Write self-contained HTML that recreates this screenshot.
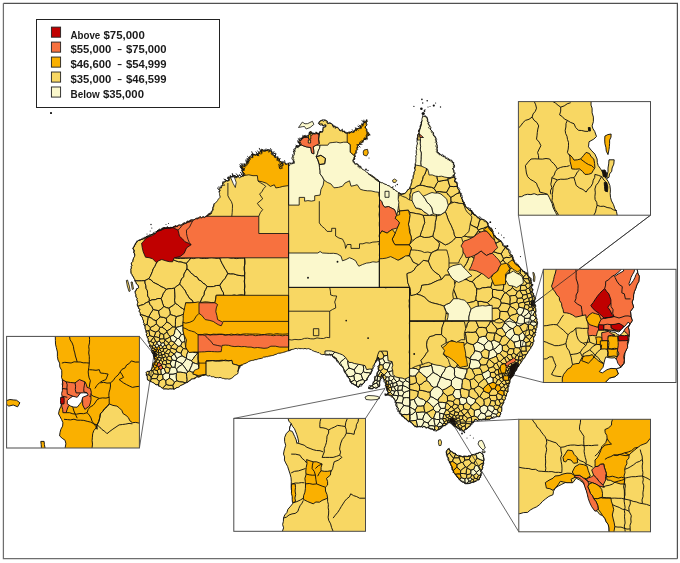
<!DOCTYPE html>
<html lang="en"><head><meta charset="utf-8"><title>Median income map</title>
<style>html,body{margin:0;padding:0;background:#fff}svg{display:block}</style></head>
<body>
<svg width="680" height="563" viewBox="0 0 680 563">
<rect width="680" height="563" fill="#fff"/>
<path d="M3.4,3.3 H677.4 V558.7" fill="none" stroke="#505050" stroke-width="1.25"/>
<path d="M3.4,3.3 V558.7 H677.4" fill="none" stroke="#6e6e6e" stroke-width="1.25"/>
<clipPath id="land"><path d="M288.5,163.0 290.0,162.9 291.6,163.9 293.1,163.0 294.6,163.0 293.5,162.0 293.9,160.4 292.4,159.6 291.9,158.3 292.3,156.8 293.6,155.8 294.4,154.6 294.2,153.0 293.2,151.0 295.1,150.3 294.9,148.7 296.1,147.6 296.9,145.9 298.6,145.9 300.0,145.2 299.5,143.9 299.0,142.7 298.5,141.4 299.4,140.4 301.1,140.3 301.8,139.1 301.9,137.4 303.1,136.7 304.2,135.5 306.0,136.5 307.4,136.3 308.5,135.2 309.9,133.9 309.3,132.1 311.1,131.4 312.1,133.8 313.9,133.3 315.3,134.2 316.5,132.2 318.0,133.6 319.3,132.9 320.0,131.3 322.3,132.2 323.0,130.5 323.0,128.8 323.0,127.2 325.7,126.9 325.8,125.3 324.6,125.0 323.2,125.6 322.0,124.8 320.2,125.1 318.8,123.8 319.5,121.8 320.5,120.5 321.9,120.3 323.8,121.3 324.7,119.9 326.1,120.4 327.4,121.1 327.8,123.2 329.4,123.4 331.1,123.5 332.2,124.5 332.8,126.4 334.8,126.0 335.6,127.5 337.2,127.3 338.3,128.2 339.4,129.1 340.1,130.9 341.8,130.6 343.1,131.3 344.8,131.1 345.5,133.2 347.2,132.9 348.5,132.2 350.0,133.0 351.1,131.6 352.6,132.1 354.1,132.2 354.6,130.5 355.4,129.3 356.7,129.0 357.8,128.4 359.3,128.3 360.3,127.5 360.5,126.0 361.1,124.8 362.8,124.5 363.7,123.5 364.3,122.3 366.1,121.6 366.5,119.7 367.4,121.3 366.4,122.6 366.0,124.0 366.5,125.4 365.4,126.6 365.4,128.0 366.5,129.1 366.2,131.1 367.6,131.9 368.8,132.9 369.2,134.9 368.2,135.9 366.1,136.4 366.7,138.4 365.0,139.1 363.9,140.1 362.9,141.3 362.1,142.7 360.3,142.9 359.1,144.0 358.3,145.3 357.4,146.6 357.2,148.3 357.1,149.7 355.6,150.7 356.2,152.2 354.9,153.3 355.0,154.7 354.9,156.1 354.4,157.4 355.0,159.1 352.7,159.9 353.4,161.5 354.1,162.8 355.2,163.7 356.7,164.2 358.3,164.5 358.8,166.1 360.6,166.2 361.0,167.8 362.0,168.9 363.1,169.7 364.6,170.2 365.5,171.3 366.5,172.3 367.9,172.8 368.7,174.1 370.2,174.5 371.4,175.1 372.7,175.8 373.6,177.0 375.0,177.5 375.8,178.7 376.9,179.3 378.2,179.9 378.8,181.3 380.0,181.9 381.2,182.7 382.6,182.8 383.8,183.6 385.0,184.2 386.4,184.5 387.6,185.5 389.1,185.8 390.3,186.6 391.1,187.7 392.8,187.4 393.1,189.3 394.5,189.5 395.6,190.7 397.1,191.4 398.3,192.6 399.9,192.9 401.0,194.0 402.6,193.7 404.3,193.5 405.9,192.5 407.0,191.0 407.6,189.7 409.0,189.3 409.6,188.0 410.1,186.7 410.8,185.4 411.0,184.0 411.6,182.7 411.8,181.3 411.7,179.8 412.8,178.7 413.0,177.3 413.0,175.9 413.7,174.7 413.9,173.3 413.9,171.9 415.0,170.8 414.9,169.3 414.4,167.9 415.0,166.6 415.2,165.3 415.1,163.9 415.7,162.6 415.9,161.3 415.8,160.0 415.9,158.6 416.0,157.3 415.7,155.9 416.6,154.7 416.2,153.3 416.3,152.0 416.2,150.6 416.9,149.3 416.2,147.9 416.8,146.7 416.8,145.3 417.4,144.0 417.3,142.7 416.9,141.3 417.2,140.0 416.9,138.7 417.4,137.5 417.8,136.3 417.5,135.0 418.3,133.9 419.1,132.7 418.4,131.2 418.9,129.9 419.6,128.8 420.1,127.6 420.0,126.2 420.6,125.0 421.2,123.7 420.9,122.2 422.0,121.0 421.9,119.6 422.1,118.2 422.6,116.9 422.7,115.5 423.9,116.6 425.5,116.0 426.7,117.4 427.6,119.0 427.8,120.3 427.6,121.6 428.4,122.7 427.9,124.1 429.0,125.2 430.0,126.3 430.9,127.5 430.4,129.4 431.6,130.5 432.4,131.7 433.5,132.7 433.1,134.6 433.7,135.9 435.2,136.7 436.0,138.1 435.4,139.7 436.2,141.0 436.9,142.4 436.5,144.0 437.3,145.3 437.3,146.8 436.9,148.3 437.4,149.6 437.3,151.1 437.5,152.5 439.0,152.8 439.9,154.2 441.0,155.3 442.2,156.0 443.8,156.2 444.7,157.3 445.6,158.2 447.3,158.0 448.5,158.6 449.0,160.3 450.7,160.0 452.0,160.4 452.4,162.3 453.8,162.5 453.3,163.8 454.0,165.0 454.7,166.2 453.5,167.5 452.3,168.8 453.8,170.0 453.8,171.2 454.8,172.5 455.1,173.8 453.8,175.0 454.1,176.3 454.5,177.5 455.6,178.6 454.9,180.2 454.6,181.7 457.1,182.2 456.8,183.7 457.4,184.9 457.5,186.3 457.7,187.6 458.0,188.9 458.8,190.0 459.9,191.0 459.4,192.7 460.9,193.5 460.8,195.0 460.7,196.5 461.6,197.6 462.2,198.8 462.8,200.1 462.6,201.6 464.4,202.3 464.1,203.9 465.0,205.0 465.5,206.3 466.3,207.3 467.5,208.0 468.3,209.0 469.0,210.1 470.7,210.2 472.0,210.7 472.1,212.4 473.5,212.8 473.9,214.3 475.0,215.0 476.0,215.9 477.2,216.4 477.9,217.8 479.4,218.0 479.9,219.7 481.7,219.3 483.2,219.4 484.5,219.8 485.4,220.8 486.6,221.4 487.5,222.5 488.1,223.7 488.0,225.2 488.6,226.3 489.1,227.6 490.5,228.3 492.0,229.0 492.4,230.2 493.0,231.3 492.8,232.9 493.1,234.3 494.3,235.1 495.0,236.2 496.1,237.0 496.7,238.3 498.1,238.8 499.2,239.5 500.3,240.4 501.1,241.5 501.7,242.7 502.5,243.8 502.8,245.3 503.7,246.2 505.7,245.9 506.2,247.2 506.4,248.8 507.9,249.1 508.8,250.0 509.0,251.3 509.2,252.7 510.2,253.6 510.9,254.6 512.5,255.3 512.1,256.8 512.8,257.9 513.4,259.1 513.7,260.3 514.0,261.6 515.0,262.5 515.3,264.1 516.6,264.7 518.3,264.8 518.4,266.6 519.9,267.0 520.4,268.4 521.5,269.2 522.5,270.0 523.1,271.3 524.7,271.6 524.8,273.3 527.3,272.7 527.5,274.4 527.8,275.9 529.0,276.7 530.0,277.5 531.0,278.6 530.4,280.0 531.0,281.2 531.5,282.4 530.8,283.8 532.9,284.7 531.2,286.4 531.5,287.6 532.4,288.7 532.5,290.0 532.2,291.4 532.7,292.6 533.6,293.7 533.1,295.1 533.9,296.2 534.7,297.4 535.6,298.5 534.4,300.0 534.5,301.3 535.0,302.5 534.6,303.8 535.5,305.0 535.8,306.2 535.2,307.5 535.8,308.7 535.9,310.0 536.1,311.2 535.7,312.5 535.6,313.8 536.2,315.0 536.0,316.5 536.4,317.9 537.2,319.2 536.8,320.7 537.5,322.0 537.6,323.4 537.2,324.7 537.0,326.0 537.0,327.4 536.1,328.6 536.2,330.0 535.5,331.2 535.9,332.6 534.9,333.6 535.5,335.1 534.6,336.2 533.9,337.4 533.5,338.6 533.7,340.0 534.2,341.4 532.9,342.4 533.2,343.9 532.5,345.0 532.1,346.3 531.0,347.2 530.7,348.6 529.8,349.5 529.2,350.7 528.0,351.6 527.7,353.0 526.8,354.0 526.0,355.0 525.4,356.2 525.0,357.5 523.9,358.3 523.2,359.3 522.4,360.2 522.0,361.5 521.0,362.3 520.6,363.6 519.5,364.3 519.1,365.6 518.5,366.7 517.5,367.5 517.0,368.8 516.5,370.0 515.8,371.1 514.5,371.9 514.5,373.4 513.3,374.3 513.5,375.9 512.3,376.8 511.6,377.9 510.6,378.8 510.0,380.0 510.1,381.3 509.9,382.6 509.4,383.8 508.7,384.9 509.0,386.3 508.1,387.4 508.2,388.7 508.0,390.0 508.2,391.4 507.5,392.5 506.7,393.6 506.5,395.0 506.2,396.3 505.3,397.4 505.5,398.9 504.6,400.1 503.8,401.2 503.9,402.6 503.2,403.8 502.5,405.0 501.8,406.2 501.8,407.5 501.9,408.9 501.8,410.2 501.6,411.5 500.5,412.6 501.0,414.0 499.9,415.1 500.0,416.5 498.7,416.8 497.3,416.6 496.0,417.0 494.7,417.3 493.2,417.0 492.0,417.9 490.8,418.5 489.6,419.4 488.2,419.2 486.9,419.5 485.6,419.9 484.2,419.5 482.9,419.7 481.5,420.1 480.2,419.7 478.8,419.3 477.5,420.5 476.1,419.6 474.8,420.0 473.9,420.9 473.6,422.4 471.9,422.6 471.3,423.8 470.7,425.0 469.9,426.0 469.0,426.9 468.0,427.8 467.0,429.0 465.4,429.4 464.1,430.2 463.3,431.6 462.4,430.6 461.5,429.5 459.5,430.3 459.0,428.6 457.6,428.6 456.9,427.1 455.6,426.8 454.2,426.5 453.1,425.6 452.2,424.6 451.6,423.1 450.1,422.8 449.0,422.0 447.8,422.5 447.1,423.7 446.1,424.5 445.1,425.2 444.0,425.9 442.6,426.0 441.7,427.1 441.1,428.5 439.8,428.8 438.9,429.8 437.5,430.0 436.4,430.7 435.3,429.8 433.7,430.3 432.8,428.9 431.3,429.2 429.9,429.0 429.0,427.5 427.6,427.4 426.1,427.6 425.0,426.8 423.8,426.6 422.5,427.3 421.2,426.5 420.0,426.8 418.7,426.7 417.5,427.0 416.2,427.0 415.0,426.4 414.0,425.4 412.9,424.4 412.2,423.1 411.1,422.2 409.7,421.6 408.2,421.2 407.1,420.2 405.9,419.5 404.9,418.4 404.3,417.1 403.1,416.4 401.5,416.1 401.6,414.0 400.1,413.6 399.7,412.2 399.1,410.9 398.0,409.8 398.3,408.1 396.9,407.2 396.1,406.0 395.7,404.8 396.1,403.3 395.6,402.1 395.3,400.8 394.4,399.6 393.7,398.3 392.6,397.3 392.0,395.8 390.5,395.2 389.1,395.2 387.7,395.0 386.3,394.8 384.9,395.2 385.9,394.4 387.4,394.0 388.1,392.8 387.6,391.6 387.4,390.4 386.9,389.2 386.5,388.0 386.1,386.8 385.4,385.6 385.9,384.1 385.6,382.8 384.9,381.6 384.7,380.2 384.1,379.1 382.8,378.2 382.8,376.8 381.6,375.9 381.7,374.4 381.3,375.8 381.2,377.3 381.2,378.8 380.1,380.0 379.3,381.2 379.5,382.5 379.7,383.9 379.9,385.2 379.3,386.4 378.0,386.8 377.0,388.0 375.7,388.4 373.8,387.1 373.0,388.8 371.3,388.9 369.7,388.8 368.2,388.0 369.8,387.7 370.5,386.3 371.9,385.8 373.0,384.8 372.7,383.2 373.5,382.0 374.9,381.0 374.6,379.4 374.7,378.0 375.4,376.8 376.6,375.8 377.1,374.5 377.2,372.9 378.4,371.9 378.5,370.4 378.2,369.1 378.3,367.8 377.7,366.4 379.5,365.3 379.3,364.0 379.8,362.6 379.3,361.4 379.1,360.1 378.5,358.9 378.5,357.6 378.1,358.9 376.7,359.5 376.2,360.8 376.0,362.3 374.7,363.2 374.5,364.7 373.1,365.6 373.0,367.2 373.0,368.5 371.6,369.4 372.1,370.9 371.4,372.0 371.1,373.6 369.9,374.4 368.9,375.6 368.2,376.8 367.3,377.8 366.9,379.2 366.3,380.4 364.7,380.8 364.5,382.4 363.4,383.2 362.5,384.6 360.1,384.1 359.8,386.2 358.6,387.2 357.3,386.7 356.2,385.9 355.0,385.1 353.7,384.7 352.8,383.5 351.4,383.2 350.7,382.0 350.2,380.6 349.9,379.2 349.0,378.2 348.1,377.1 347.1,376.1 346.9,374.6 345.8,373.6 344.8,372.5 344.1,371.2 343.9,369.8 343.4,368.4 342.6,367.2 341.9,366.1 340.6,365.4 339.6,364.5 339.3,363.0 338.3,362.1 337.8,360.8 336.4,360.4 336.1,358.9 335.4,357.7 333.7,357.5 332.7,356.8 332.4,355.2 331.4,354.4 330.0,354.8 328.6,355.1 327.1,355.0 325.7,355.1 324.2,354.4 322.8,354.6 321.4,354.4 320.1,353.7 319.0,352.6 317.5,352.6 316.2,351.8 314.8,351.6 313.6,351.0 312.3,350.6 311.3,349.6 310.0,349.3 308.8,348.6 307.5,348.7 306.3,348.9 305.0,348.4 303.8,348.8 302.5,348.6 301.2,348.6 299.9,348.7 298.7,348.3 297.4,348.9 296.2,348.4 294.9,348.6 293.7,349.2 292.4,349.4 291.1,349.8 290.0,350.5 288.8,350.8 287.5,351.0 286.3,351.4 285.1,351.9 283.8,352.2 282.6,352.6 281.3,352.9 280.0,353.2 278.7,353.2 277.4,353.6 276.3,354.3 275.0,354.5 273.8,355.2 272.6,355.5 271.3,355.7 270.0,356.0 268.7,356.2 267.5,356.7 266.2,356.7 265.0,357.1 263.6,357.1 262.5,358.0 261.3,358.4 260.0,358.6 258.7,358.8 257.5,359.2 256.3,359.7 255.0,359.6 253.8,360.2 252.5,360.4 251.2,360.6 250.0,361.0 248.7,361.5 247.6,362.4 246.3,363.0 245.0,363.6 243.7,363.9 242.6,364.9 241.4,365.6 240.0,366.0 239.9,367.4 239.1,368.6 238.5,369.9 238.2,371.3 238.1,372.7 237.5,374.0 236.4,374.6 235.2,375.2 234.2,375.9 233.2,376.9 232.4,377.9 231.2,378.4 230.0,379.0 228.7,379.1 227.5,378.8 226.2,378.9 224.9,378.9 223.7,378.4 222.5,378.4 221.3,377.8 220.0,377.4 218.7,377.8 217.5,377.5 216.2,377.7 214.9,377.4 213.8,376.7 212.5,376.7 211.2,376.7 210.1,375.6 208.7,376.0 207.4,375.8 206.3,375.1 205.0,375.0 203.8,375.5 202.4,375.4 201.2,376.1 200.0,376.7 198.8,377.2 197.4,377.0 196.0,377.1 195.1,378.6 193.8,378.8 192.5,379.0 191.0,379.3 190.2,380.7 188.8,381.0 187.9,382.3 186.5,382.7 185.2,383.3 184.0,384.0 182.8,384.6 181.7,385.2 180.4,385.5 179.6,386.6 178.5,387.3 177.2,387.6 175.9,388.0 175.0,389.0 173.8,389.3 172.5,389.0 171.2,389.1 170.0,388.8 168.8,389.3 167.5,389.2 166.2,389.0 165.0,389.0 163.4,389.1 162.3,388.1 161.1,387.5 160.1,386.3 158.6,386.2 157.8,384.6 156.1,384.9 155.0,384.0 153.9,383.1 152.6,382.5 151.3,381.8 149.9,381.5 148.9,380.4 147.5,380.0 147.3,378.7 147.2,377.5 147.1,376.2 146.1,375.1 146.4,373.7 146.0,372.5 147.0,371.4 148.5,371.3 150.0,371.1 151.0,370.0 151.7,368.8 152.1,367.6 152.9,366.4 152.6,364.8 152.9,363.5 153.8,362.4 155.0,361.4 155.0,360.0 154.2,358.8 154.0,357.4 153.4,356.1 153.3,354.7 152.5,353.5 151.8,352.3 151.8,350.9 151.7,349.6 151.0,348.4 150.7,347.1 149.2,346.2 149.9,344.6 149.0,343.5 148.7,342.2 148.0,341.1 148.2,339.7 147.9,338.5 147.2,337.3 147.0,336.0 146.0,335.0 147.1,333.4 145.8,332.4 146.0,331.0 145.6,329.8 145.0,328.6 144.9,327.3 144.9,325.9 143.7,324.9 144.1,323.4 143.3,322.3 143.6,320.9 142.8,319.8 142.5,318.5 142.2,317.1 141.0,316.2 140.2,315.1 140.3,313.6 139.8,312.3 138.9,311.2 139.9,309.4 138.5,308.5 138.3,307.1 137.5,306.0 137.2,304.8 137.5,303.4 137.9,302.1 137.2,300.9 136.7,299.7 137.1,298.4 136.1,297.2 135.7,296.0 135.8,294.7 135.3,293.5 135.0,292.3 135.0,291.0 136.2,290.4 136.4,288.8 137.9,288.4 138.6,287.3 138.2,285.9 137.5,284.6 136.2,283.7 135.8,282.2 134.8,281.1 134.7,279.6 133.9,278.4 133.4,277.0 132.4,275.9 131.9,274.6 131.0,273.4 130.8,271.9 130.8,270.6 130.7,269.2 131.4,267.9 131.0,266.6 131.9,265.3 131.1,263.9 131.6,262.6 132.7,261.5 132.8,260.1 133.3,258.8 133.8,257.4 134.6,256.3 134.7,254.8 134.4,253.6 133.5,252.5 134.0,251.1 133.7,249.8 133.1,248.7 133.5,247.2 134.4,246.0 134.9,244.6 135.5,243.2 136.7,242.3 137.7,241.3 138.6,240.2 140.1,240.4 141.0,239.2 142.4,239.1 143.6,238.6 144.7,237.8 145.9,237.0 146.9,236.0 148.4,235.9 149.9,235.8 150.9,234.7 152.5,234.5 153.6,233.6 155.4,233.6 156.2,232.2 157.1,230.9 158.2,230.0 159.6,229.8 161.2,229.9 162.1,228.5 163.3,227.7 164.8,227.8 166.3,228.1 167.6,227.1 169.1,228.0 170.5,227.3 171.9,227.6 173.3,227.0 174.4,226.3 175.6,225.6 177.1,226.6 178.1,225.1 179.4,225.2 180.7,225.2 181.9,224.7 182.8,223.5 184.1,223.0 185.8,223.4 186.6,221.8 188.0,221.6 189.5,220.9 191.1,220.3 192.7,220.0 194.0,219.7 195.2,219.2 196.2,218.1 197.8,218.4 198.9,217.7 200.0,216.4 201.7,217.9 202.8,216.8 204.3,217.5 205.5,216.5 206.9,216.1 207.8,214.7 208.9,213.7 210.3,213.4 211.6,212.7 211.9,211.3 212.5,210.1 212.7,208.6 213.0,207.2 213.5,205.9 213.9,204.6 214.7,203.4 215.8,202.5 216.9,201.6 217.6,200.5 218.3,199.2 219.2,198.2 220.2,197.2 219.9,195.9 219.5,194.7 219.6,193.3 219.1,192.1 220.2,190.5 218.6,189.5 219.4,188.2 221.4,187.8 221.8,186.2 222.5,184.8 222.5,182.9 223.4,181.9 225.1,181.7 226.3,181.0 227.8,180.5 229.4,180.2 228.6,176.9 230.6,177.2 231.8,176.3 233.3,176.2 234.8,176.9 236.4,177.9 237.9,176.3 239.5,177.8 240.7,177.1 242.0,176.4 243.3,175.6 243.3,173.2 242.1,171.6 243.5,170.6 244.1,169.4 242.1,169.4 241.0,167.8 241.4,166.2 242.3,165.3 245.0,166.7 244.5,163.8 246.4,164.3 247.2,163.2 247.0,161.7 249.1,161.2 247.8,159.2 249.5,158.6 249.6,156.4 252.8,157.8 252.0,154.4 254.2,154.7 255.4,155.1 257.0,153.9 258.0,155.5 258.5,153.8 259.1,152.1 261.1,151.6 261.8,149.0 263.8,150.9 265.4,151.4 266.5,150.1 268.0,150.0 269.5,149.9 270.6,151.4 272.0,151.6 271.0,153.9 272.6,154.4 273.0,155.7 275.3,155.5 274.8,157.5 276.6,157.8 278.1,158.3 279.6,158.8 279.5,161.3 281.2,161.6 282.0,163.2 283.4,165.0 281.0,165.9 279.5,167.1 279.7,168.6 279.1,166.5 280.0,165.2 280.9,163.9 282.8,163.2 284.2,162.6 285.7,163.6 287.1,164.6Z"/><path d="M447.3,449.7 448.9,448.7 449.8,450.1 451.0,451.3 452.1,452.4 453.5,453.1 455.2,453.2 456.3,454.5 457.4,455.4 458.6,456.1 460.1,455.7 461.4,456.2 462.7,456.6 463.9,456.0 465.2,456.1 466.6,456.6 467.9,456.5 469.1,456.1 470.4,455.8 471.5,454.7 472.8,454.5 474.4,454.9 475.5,454.0 476.8,453.4 478.2,453.2 479.4,452.5 480.8,452.4 482.0,453.9 483.5,455.0 483.1,456.4 483.7,457.8 484.2,459.2 483.7,460.6 483.5,462.0 483.8,463.4 483.1,464.7 482.3,465.9 482.4,467.3 482.4,468.7 481.5,469.9 480.7,471.1 481.4,472.6 480.8,474.0 481.2,475.6 480.3,476.9 479.5,478.1 479.3,479.7 477.6,480.1 476.4,481.1 474.9,481.8 473.4,482.2 471.6,482.3 470.2,483.3 468.8,483.6 467.3,483.6 465.9,483.8 464.6,483.5 463.9,482.2 462.4,482.3 461.6,481.2 460.1,480.5 459.2,479.0 457.9,478.0 457.0,477.0 456.3,475.8 455.3,474.9 454.7,473.7 453.6,472.6 453.6,471.0 452.1,470.0 452.1,468.4 452.1,466.8 450.9,465.7 450.6,464.3 449.9,463.0 449.3,461.7 448.4,460.6 447.9,459.4 448.2,457.7 447.3,456.6 447.2,455.3 446.7,454.1 446.2,452.9 446.3,451.2Z"/></clipPath>
<path d="M288.5,163.0 290.0,162.9 291.6,163.9 293.1,163.0 294.6,163.0 293.5,162.0 293.9,160.4 292.4,159.6 291.9,158.3 292.3,156.8 293.6,155.8 294.4,154.6 294.2,153.0 293.2,151.0 295.1,150.3 294.9,148.7 296.1,147.6 296.9,145.9 298.6,145.9 300.0,145.2 299.5,143.9 299.0,142.7 298.5,141.4 299.4,140.4 301.1,140.3 301.8,139.1 301.9,137.4 303.1,136.7 304.2,135.5 306.0,136.5 307.4,136.3 308.5,135.2 309.9,133.9 309.3,132.1 311.1,131.4 312.1,133.8 313.9,133.3 315.3,134.2 316.5,132.2 318.0,133.6 319.3,132.9 320.0,131.3 322.3,132.2 323.0,130.5 323.0,128.8 323.0,127.2 325.7,126.9 325.8,125.3 324.6,125.0 323.2,125.6 322.0,124.8 320.2,125.1 318.8,123.8 319.5,121.8 320.5,120.5 321.9,120.3 323.8,121.3 324.7,119.9 326.1,120.4 327.4,121.1 327.8,123.2 329.4,123.4 331.1,123.5 332.2,124.5 332.8,126.4 334.8,126.0 335.6,127.5 337.2,127.3 338.3,128.2 339.4,129.1 340.1,130.9 341.8,130.6 343.1,131.3 344.8,131.1 345.5,133.2 347.2,132.9 348.5,132.2 350.0,133.0 351.1,131.6 352.6,132.1 354.1,132.2 354.6,130.5 355.4,129.3 356.7,129.0 357.8,128.4 359.3,128.3 360.3,127.5 360.5,126.0 361.1,124.8 362.8,124.5 363.7,123.5 364.3,122.3 366.1,121.6 366.5,119.7 367.4,121.3 366.4,122.6 366.0,124.0 366.5,125.4 365.4,126.6 365.4,128.0 366.5,129.1 366.2,131.1 367.6,131.9 368.8,132.9 369.2,134.9 368.2,135.9 366.1,136.4 366.7,138.4 365.0,139.1 363.9,140.1 362.9,141.3 362.1,142.7 360.3,142.9 359.1,144.0 358.3,145.3 357.4,146.6 357.2,148.3 357.1,149.7 355.6,150.7 356.2,152.2 354.9,153.3 355.0,154.7 354.9,156.1 354.4,157.4 355.0,159.1 352.7,159.9 353.4,161.5 354.1,162.8 355.2,163.7 356.7,164.2 358.3,164.5 358.8,166.1 360.6,166.2 361.0,167.8 362.0,168.9 363.1,169.7 364.6,170.2 365.5,171.3 366.5,172.3 367.9,172.8 368.7,174.1 370.2,174.5 371.4,175.1 372.7,175.8 373.6,177.0 375.0,177.5 375.8,178.7 376.9,179.3 378.2,179.9 378.8,181.3 380.0,181.9 381.2,182.7 382.6,182.8 383.8,183.6 385.0,184.2 386.4,184.5 387.6,185.5 389.1,185.8 390.3,186.6 391.1,187.7 392.8,187.4 393.1,189.3 394.5,189.5 395.6,190.7 397.1,191.4 398.3,192.6 399.9,192.9 401.0,194.0 402.6,193.7 404.3,193.5 405.9,192.5 407.0,191.0 407.6,189.7 409.0,189.3 409.6,188.0 410.1,186.7 410.8,185.4 411.0,184.0 411.6,182.7 411.8,181.3 411.7,179.8 412.8,178.7 413.0,177.3 413.0,175.9 413.7,174.7 413.9,173.3 413.9,171.9 415.0,170.8 414.9,169.3 414.4,167.9 415.0,166.6 415.2,165.3 415.1,163.9 415.7,162.6 415.9,161.3 415.8,160.0 415.9,158.6 416.0,157.3 415.7,155.9 416.6,154.7 416.2,153.3 416.3,152.0 416.2,150.6 416.9,149.3 416.2,147.9 416.8,146.7 416.8,145.3 417.4,144.0 417.3,142.7 416.9,141.3 417.2,140.0 416.9,138.7 417.4,137.5 417.8,136.3 417.5,135.0 418.3,133.9 419.1,132.7 418.4,131.2 418.9,129.9 419.6,128.8 420.1,127.6 420.0,126.2 420.6,125.0 421.2,123.7 420.9,122.2 422.0,121.0 421.9,119.6 422.1,118.2 422.6,116.9 422.7,115.5 423.9,116.6 425.5,116.0 426.7,117.4 427.6,119.0 427.8,120.3 427.6,121.6 428.4,122.7 427.9,124.1 429.0,125.2 430.0,126.3 430.9,127.5 430.4,129.4 431.6,130.5 432.4,131.7 433.5,132.7 433.1,134.6 433.7,135.9 435.2,136.7 436.0,138.1 435.4,139.7 436.2,141.0 436.9,142.4 436.5,144.0 437.3,145.3 437.3,146.8 436.9,148.3 437.4,149.6 437.3,151.1 437.5,152.5 439.0,152.8 439.9,154.2 441.0,155.3 442.2,156.0 443.8,156.2 444.7,157.3 445.6,158.2 447.3,158.0 448.5,158.6 449.0,160.3 450.7,160.0 452.0,160.4 452.4,162.3 453.8,162.5 453.3,163.8 454.0,165.0 454.7,166.2 453.5,167.5 452.3,168.8 453.8,170.0 453.8,171.2 454.8,172.5 455.1,173.8 453.8,175.0 454.1,176.3 454.5,177.5 455.6,178.6 454.9,180.2 454.6,181.7 457.1,182.2 456.8,183.7 457.4,184.9 457.5,186.3 457.7,187.6 458.0,188.9 458.8,190.0 459.9,191.0 459.4,192.7 460.9,193.5 460.8,195.0 460.7,196.5 461.6,197.6 462.2,198.8 462.8,200.1 462.6,201.6 464.4,202.3 464.1,203.9 465.0,205.0 465.5,206.3 466.3,207.3 467.5,208.0 468.3,209.0 469.0,210.1 470.7,210.2 472.0,210.7 472.1,212.4 473.5,212.8 473.9,214.3 475.0,215.0 476.0,215.9 477.2,216.4 477.9,217.8 479.4,218.0 479.9,219.7 481.7,219.3 483.2,219.4 484.5,219.8 485.4,220.8 486.6,221.4 487.5,222.5 488.1,223.7 488.0,225.2 488.6,226.3 489.1,227.6 490.5,228.3 492.0,229.0 492.4,230.2 493.0,231.3 492.8,232.9 493.1,234.3 494.3,235.1 495.0,236.2 496.1,237.0 496.7,238.3 498.1,238.8 499.2,239.5 500.3,240.4 501.1,241.5 501.7,242.7 502.5,243.8 502.8,245.3 503.7,246.2 505.7,245.9 506.2,247.2 506.4,248.8 507.9,249.1 508.8,250.0 509.0,251.3 509.2,252.7 510.2,253.6 510.9,254.6 512.5,255.3 512.1,256.8 512.8,257.9 513.4,259.1 513.7,260.3 514.0,261.6 515.0,262.5 515.3,264.1 516.6,264.7 518.3,264.8 518.4,266.6 519.9,267.0 520.4,268.4 521.5,269.2 522.5,270.0 523.1,271.3 524.7,271.6 524.8,273.3 527.3,272.7 527.5,274.4 527.8,275.9 529.0,276.7 530.0,277.5 531.0,278.6 530.4,280.0 531.0,281.2 531.5,282.4 530.8,283.8 532.9,284.7 531.2,286.4 531.5,287.6 532.4,288.7 532.5,290.0 532.2,291.4 532.7,292.6 533.6,293.7 533.1,295.1 533.9,296.2 534.7,297.4 535.6,298.5 534.4,300.0 534.5,301.3 535.0,302.5 534.6,303.8 535.5,305.0 535.8,306.2 535.2,307.5 535.8,308.7 535.9,310.0 536.1,311.2 535.7,312.5 535.6,313.8 536.2,315.0 536.0,316.5 536.4,317.9 537.2,319.2 536.8,320.7 537.5,322.0 537.6,323.4 537.2,324.7 537.0,326.0 537.0,327.4 536.1,328.6 536.2,330.0 535.5,331.2 535.9,332.6 534.9,333.6 535.5,335.1 534.6,336.2 533.9,337.4 533.5,338.6 533.7,340.0 534.2,341.4 532.9,342.4 533.2,343.9 532.5,345.0 532.1,346.3 531.0,347.2 530.7,348.6 529.8,349.5 529.2,350.7 528.0,351.6 527.7,353.0 526.8,354.0 526.0,355.0 525.4,356.2 525.0,357.5 523.9,358.3 523.2,359.3 522.4,360.2 522.0,361.5 521.0,362.3 520.6,363.6 519.5,364.3 519.1,365.6 518.5,366.7 517.5,367.5 517.0,368.8 516.5,370.0 515.8,371.1 514.5,371.9 514.5,373.4 513.3,374.3 513.5,375.9 512.3,376.8 511.6,377.9 510.6,378.8 510.0,380.0 510.1,381.3 509.9,382.6 509.4,383.8 508.7,384.9 509.0,386.3 508.1,387.4 508.2,388.7 508.0,390.0 508.2,391.4 507.5,392.5 506.7,393.6 506.5,395.0 506.2,396.3 505.3,397.4 505.5,398.9 504.6,400.1 503.8,401.2 503.9,402.6 503.2,403.8 502.5,405.0 501.8,406.2 501.8,407.5 501.9,408.9 501.8,410.2 501.6,411.5 500.5,412.6 501.0,414.0 499.9,415.1 500.0,416.5 498.7,416.8 497.3,416.6 496.0,417.0 494.7,417.3 493.2,417.0 492.0,417.9 490.8,418.5 489.6,419.4 488.2,419.2 486.9,419.5 485.6,419.9 484.2,419.5 482.9,419.7 481.5,420.1 480.2,419.7 478.8,419.3 477.5,420.5 476.1,419.6 474.8,420.0 473.9,420.9 473.6,422.4 471.9,422.6 471.3,423.8 470.7,425.0 469.9,426.0 469.0,426.9 468.0,427.8 467.0,429.0 465.4,429.4 464.1,430.2 463.3,431.6 462.4,430.6 461.5,429.5 459.5,430.3 459.0,428.6 457.6,428.6 456.9,427.1 455.6,426.8 454.2,426.5 453.1,425.6 452.2,424.6 451.6,423.1 450.1,422.8 449.0,422.0 447.8,422.5 447.1,423.7 446.1,424.5 445.1,425.2 444.0,425.9 442.6,426.0 441.7,427.1 441.1,428.5 439.8,428.8 438.9,429.8 437.5,430.0 436.4,430.7 435.3,429.8 433.7,430.3 432.8,428.9 431.3,429.2 429.9,429.0 429.0,427.5 427.6,427.4 426.1,427.6 425.0,426.8 423.8,426.6 422.5,427.3 421.2,426.5 420.0,426.8 418.7,426.7 417.5,427.0 416.2,427.0 415.0,426.4 414.0,425.4 412.9,424.4 412.2,423.1 411.1,422.2 409.7,421.6 408.2,421.2 407.1,420.2 405.9,419.5 404.9,418.4 404.3,417.1 403.1,416.4 401.5,416.1 401.6,414.0 400.1,413.6 399.7,412.2 399.1,410.9 398.0,409.8 398.3,408.1 396.9,407.2 396.1,406.0 395.7,404.8 396.1,403.3 395.6,402.1 395.3,400.8 394.4,399.6 393.7,398.3 392.6,397.3 392.0,395.8 390.5,395.2 389.1,395.2 387.7,395.0 386.3,394.8 384.9,395.2 385.9,394.4 387.4,394.0 388.1,392.8 387.6,391.6 387.4,390.4 386.9,389.2 386.5,388.0 386.1,386.8 385.4,385.6 385.9,384.1 385.6,382.8 384.9,381.6 384.7,380.2 384.1,379.1 382.8,378.2 382.8,376.8 381.6,375.9 381.7,374.4 381.3,375.8 381.2,377.3 381.2,378.8 380.1,380.0 379.3,381.2 379.5,382.5 379.7,383.9 379.9,385.2 379.3,386.4 378.0,386.8 377.0,388.0 375.7,388.4 373.8,387.1 373.0,388.8 371.3,388.9 369.7,388.8 368.2,388.0 369.8,387.7 370.5,386.3 371.9,385.8 373.0,384.8 372.7,383.2 373.5,382.0 374.9,381.0 374.6,379.4 374.7,378.0 375.4,376.8 376.6,375.8 377.1,374.5 377.2,372.9 378.4,371.9 378.5,370.4 378.2,369.1 378.3,367.8 377.7,366.4 379.5,365.3 379.3,364.0 379.8,362.6 379.3,361.4 379.1,360.1 378.5,358.9 378.5,357.6 378.1,358.9 376.7,359.5 376.2,360.8 376.0,362.3 374.7,363.2 374.5,364.7 373.1,365.6 373.0,367.2 373.0,368.5 371.6,369.4 372.1,370.9 371.4,372.0 371.1,373.6 369.9,374.4 368.9,375.6 368.2,376.8 367.3,377.8 366.9,379.2 366.3,380.4 364.7,380.8 364.5,382.4 363.4,383.2 362.5,384.6 360.1,384.1 359.8,386.2 358.6,387.2 357.3,386.7 356.2,385.9 355.0,385.1 353.7,384.7 352.8,383.5 351.4,383.2 350.7,382.0 350.2,380.6 349.9,379.2 349.0,378.2 348.1,377.1 347.1,376.1 346.9,374.6 345.8,373.6 344.8,372.5 344.1,371.2 343.9,369.8 343.4,368.4 342.6,367.2 341.9,366.1 340.6,365.4 339.6,364.5 339.3,363.0 338.3,362.1 337.8,360.8 336.4,360.4 336.1,358.9 335.4,357.7 333.7,357.5 332.7,356.8 332.4,355.2 331.4,354.4 330.0,354.8 328.6,355.1 327.1,355.0 325.7,355.1 324.2,354.4 322.8,354.6 321.4,354.4 320.1,353.7 319.0,352.6 317.5,352.6 316.2,351.8 314.8,351.6 313.6,351.0 312.3,350.6 311.3,349.6 310.0,349.3 308.8,348.6 307.5,348.7 306.3,348.9 305.0,348.4 303.8,348.8 302.5,348.6 301.2,348.6 299.9,348.7 298.7,348.3 297.4,348.9 296.2,348.4 294.9,348.6 293.7,349.2 292.4,349.4 291.1,349.8 290.0,350.5 288.8,350.8 287.5,351.0 286.3,351.4 285.1,351.9 283.8,352.2 282.6,352.6 281.3,352.9 280.0,353.2 278.7,353.2 277.4,353.6 276.3,354.3 275.0,354.5 273.8,355.2 272.6,355.5 271.3,355.7 270.0,356.0 268.7,356.2 267.5,356.7 266.2,356.7 265.0,357.1 263.6,357.1 262.5,358.0 261.3,358.4 260.0,358.6 258.7,358.8 257.5,359.2 256.3,359.7 255.0,359.6 253.8,360.2 252.5,360.4 251.2,360.6 250.0,361.0 248.7,361.5 247.6,362.4 246.3,363.0 245.0,363.6 243.7,363.9 242.6,364.9 241.4,365.6 240.0,366.0 239.9,367.4 239.1,368.6 238.5,369.9 238.2,371.3 238.1,372.7 237.5,374.0 236.4,374.6 235.2,375.2 234.2,375.9 233.2,376.9 232.4,377.9 231.2,378.4 230.0,379.0 228.7,379.1 227.5,378.8 226.2,378.9 224.9,378.9 223.7,378.4 222.5,378.4 221.3,377.8 220.0,377.4 218.7,377.8 217.5,377.5 216.2,377.7 214.9,377.4 213.8,376.7 212.5,376.7 211.2,376.7 210.1,375.6 208.7,376.0 207.4,375.8 206.3,375.1 205.0,375.0 203.8,375.5 202.4,375.4 201.2,376.1 200.0,376.7 198.8,377.2 197.4,377.0 196.0,377.1 195.1,378.6 193.8,378.8 192.5,379.0 191.0,379.3 190.2,380.7 188.8,381.0 187.9,382.3 186.5,382.7 185.2,383.3 184.0,384.0 182.8,384.6 181.7,385.2 180.4,385.5 179.6,386.6 178.5,387.3 177.2,387.6 175.9,388.0 175.0,389.0 173.8,389.3 172.5,389.0 171.2,389.1 170.0,388.8 168.8,389.3 167.5,389.2 166.2,389.0 165.0,389.0 163.4,389.1 162.3,388.1 161.1,387.5 160.1,386.3 158.6,386.2 157.8,384.6 156.1,384.9 155.0,384.0 153.9,383.1 152.6,382.5 151.3,381.8 149.9,381.5 148.9,380.4 147.5,380.0 147.3,378.7 147.2,377.5 147.1,376.2 146.1,375.1 146.4,373.7 146.0,372.5 147.0,371.4 148.5,371.3 150.0,371.1 151.0,370.0 151.7,368.8 152.1,367.6 152.9,366.4 152.6,364.8 152.9,363.5 153.8,362.4 155.0,361.4 155.0,360.0 154.2,358.8 154.0,357.4 153.4,356.1 153.3,354.7 152.5,353.5 151.8,352.3 151.8,350.9 151.7,349.6 151.0,348.4 150.7,347.1 149.2,346.2 149.9,344.6 149.0,343.5 148.7,342.2 148.0,341.1 148.2,339.7 147.9,338.5 147.2,337.3 147.0,336.0 146.0,335.0 147.1,333.4 145.8,332.4 146.0,331.0 145.6,329.8 145.0,328.6 144.9,327.3 144.9,325.9 143.7,324.9 144.1,323.4 143.3,322.3 143.6,320.9 142.8,319.8 142.5,318.5 142.2,317.1 141.0,316.2 140.2,315.1 140.3,313.6 139.8,312.3 138.9,311.2 139.9,309.4 138.5,308.5 138.3,307.1 137.5,306.0 137.2,304.8 137.5,303.4 137.9,302.1 137.2,300.9 136.7,299.7 137.1,298.4 136.1,297.2 135.7,296.0 135.8,294.7 135.3,293.5 135.0,292.3 135.0,291.0 136.2,290.4 136.4,288.8 137.9,288.4 138.6,287.3 138.2,285.9 137.5,284.6 136.2,283.7 135.8,282.2 134.8,281.1 134.7,279.6 133.9,278.4 133.4,277.0 132.4,275.9 131.9,274.6 131.0,273.4 130.8,271.9 130.8,270.6 130.7,269.2 131.4,267.9 131.0,266.6 131.9,265.3 131.1,263.9 131.6,262.6 132.7,261.5 132.8,260.1 133.3,258.8 133.8,257.4 134.6,256.3 134.7,254.8 134.4,253.6 133.5,252.5 134.0,251.1 133.7,249.8 133.1,248.7 133.5,247.2 134.4,246.0 134.9,244.6 135.5,243.2 136.7,242.3 137.7,241.3 138.6,240.2 140.1,240.4 141.0,239.2 142.4,239.1 143.6,238.6 144.7,237.8 145.9,237.0 146.9,236.0 148.4,235.9 149.9,235.8 150.9,234.7 152.5,234.5 153.6,233.6 155.4,233.6 156.2,232.2 157.1,230.9 158.2,230.0 159.6,229.8 161.2,229.9 162.1,228.5 163.3,227.7 164.8,227.8 166.3,228.1 167.6,227.1 169.1,228.0 170.5,227.3 171.9,227.6 173.3,227.0 174.4,226.3 175.6,225.6 177.1,226.6 178.1,225.1 179.4,225.2 180.7,225.2 181.9,224.7 182.8,223.5 184.1,223.0 185.8,223.4 186.6,221.8 188.0,221.6 189.5,220.9 191.1,220.3 192.7,220.0 194.0,219.7 195.2,219.2 196.2,218.1 197.8,218.4 198.9,217.7 200.0,216.4 201.7,217.9 202.8,216.8 204.3,217.5 205.5,216.5 206.9,216.1 207.8,214.7 208.9,213.7 210.3,213.4 211.6,212.7 211.9,211.3 212.5,210.1 212.7,208.6 213.0,207.2 213.5,205.9 213.9,204.6 214.7,203.4 215.8,202.5 216.9,201.6 217.6,200.5 218.3,199.2 219.2,198.2 220.2,197.2 219.9,195.9 219.5,194.7 219.6,193.3 219.1,192.1 220.2,190.5 218.6,189.5 219.4,188.2 221.4,187.8 221.8,186.2 222.5,184.8 222.5,182.9 223.4,181.9 225.1,181.7 226.3,181.0 227.8,180.5 229.4,180.2 228.6,176.9 230.6,177.2 231.8,176.3 233.3,176.2 234.8,176.9 236.4,177.9 237.9,176.3 239.5,177.8 240.7,177.1 242.0,176.4 243.3,175.6 243.3,173.2 242.1,171.6 243.5,170.6 244.1,169.4 242.1,169.4 241.0,167.8 241.4,166.2 242.3,165.3 245.0,166.7 244.5,163.8 246.4,164.3 247.2,163.2 247.0,161.7 249.1,161.2 247.8,159.2 249.5,158.6 249.6,156.4 252.8,157.8 252.0,154.4 254.2,154.7 255.4,155.1 257.0,153.9 258.0,155.5 258.5,153.8 259.1,152.1 261.1,151.6 261.8,149.0 263.8,150.9 265.4,151.4 266.5,150.1 268.0,150.0 269.5,149.9 270.6,151.4 272.0,151.6 271.0,153.9 272.6,154.4 273.0,155.7 275.3,155.5 274.8,157.5 276.6,157.8 278.1,158.3 279.6,158.8 279.5,161.3 281.2,161.6 282.0,163.2 283.4,165.0 281.0,165.9 279.5,167.1 279.7,168.6 279.1,166.5 280.0,165.2 280.9,163.9 282.8,163.2 284.2,162.6 285.7,163.6 287.1,164.6Z" fill="#F8D763"/>
<path d="M447.3,449.7 448.9,448.7 449.8,450.1 451.0,451.3 452.1,452.4 453.5,453.1 455.2,453.2 456.3,454.5 457.4,455.4 458.6,456.1 460.1,455.7 461.4,456.2 462.7,456.6 463.9,456.0 465.2,456.1 466.6,456.6 467.9,456.5 469.1,456.1 470.4,455.8 471.5,454.7 472.8,454.5 474.4,454.9 475.5,454.0 476.8,453.4 478.2,453.2 479.4,452.5 480.8,452.4 482.0,453.9 483.5,455.0 483.1,456.4 483.7,457.8 484.2,459.2 483.7,460.6 483.5,462.0 483.8,463.4 483.1,464.7 482.3,465.9 482.4,467.3 482.4,468.7 481.5,469.9 480.7,471.1 481.4,472.6 480.8,474.0 481.2,475.6 480.3,476.9 479.5,478.1 479.3,479.7 477.6,480.1 476.4,481.1 474.9,481.8 473.4,482.2 471.6,482.3 470.2,483.3 468.8,483.6 467.3,483.6 465.9,483.8 464.6,483.5 463.9,482.2 462.4,482.3 461.6,481.2 460.1,480.5 459.2,479.0 457.9,478.0 457.0,477.0 456.3,475.8 455.3,474.9 454.7,473.7 453.6,472.6 453.6,471.0 452.1,470.0 452.1,468.4 452.1,466.8 450.9,465.7 450.6,464.3 449.9,463.0 449.3,461.7 448.4,460.6 447.9,459.4 448.2,457.7 447.3,456.6 447.2,455.3 446.7,454.1 446.2,452.9 446.3,451.2Z" fill="#F8D763"/>
<g stroke="#111" stroke-width="0.85" stroke-linejoin="round" clip-path="url(#land)">
<path d="M452.8,423.4 452.8,422.4 451.5,422.3 451.3,423.1 451.6,423.1 451.9,424.1Z" fill="#F8D763" stroke-width="0.95"/>
<path d="M511.8,374.8 512.9,374.4 512.8,373.5 511.4,373.0 511.1,373.7Z" fill="#F8D763" stroke-width="0.95"/>
<path d="M520.3,360.1 518.7,360.0 518.5,360.1 517.9,362.7 519.4,364.8 519.5,364.3 520.6,363.6 521.0,362.3 521.4,361.9Z" fill="#F8D763" stroke-width="0.95"/>
<path d="M533.5,305.1 534.0,303.1 533.3,302.8 532.3,303.1 531.6,304.9 531.9,305.3Z" fill="#F8D763" stroke-width="0.95"/>
<path d="M402.2,213.2 404.0,210.3 406.4,208.0 408.1,205.0 408.1,202.2 409.5,199.7 410.2,197.1 410.0,194.3 411.1,191.8 411.2,189.0 409.9,187.3 409.6,188.0 409.0,189.3 407.6,189.7 407.0,191.0 405.9,192.5 404.3,193.5 402.6,193.7 401.0,194.0 399.9,192.9 398.3,192.6 397.1,191.4 395.6,190.7 394.5,189.5 393.1,189.3 392.8,187.4 391.1,187.7 390.3,186.6 389.1,185.8 387.6,185.5 386.4,184.5 385.0,184.2 383.8,183.6 382.6,182.8 381.2,182.7 380.0,181.9 379.5,181.6 379.1,184.4 379.9,187.2 378.9,190.0 378.9,192.8 379.0,195.5 379.7,198.3 379.9,201.1 379.5,203.9 382.2,204.4 384.4,206.3 386.9,207.5 389.6,208.1 392.1,209.0 394.6,210.1 397.2,211.0 399.6,212.2Z" fill="#F8D763" stroke-width="0.95"/>
<path d="M500.3,300.3 501.2,303.2 504.1,303.2 507.0,303.7 509.8,304.6 510.0,304.3 510.1,301.6 510.3,298.9 509.8,296.2 506.2,292.9 505.0,292.7 503.1,295.0 501.8,297.7Z" fill="#F8D763" stroke-width="0.95"/>
<path d="M410.8,233.8 407.8,231.3 404.9,228.8 402.1,229.6 399.6,230.8 397.5,233.0 394.9,234.1 392.0,234.8 389.6,236.2 387.4,238.2 384.6,238.9 382.0,240.1 379.5,241.5 378.9,244.3 380.1,247.1 379.5,249.9 379.5,252.7 379.4,255.4 379.9,258.2 379.3,261.0 379.5,263.8 382.1,264.7 384.7,265.9 387.2,267.1 389.9,267.9 392.6,268.7 395.3,269.5 397.6,271.2 400.3,272.0 403.0,271.1 405.2,269.4 407.7,268.1 410.1,266.7 410.4,264.0 410.8,261.2 410.1,258.5 410.0,255.7 410.4,253.0 410.3,250.2 410.9,247.5 410.9,244.8 410.8,242.0 411.1,239.3 410.5,236.5Z" fill="#F8D763" stroke-width="0.95"/>
<path d="M458.3,275.3 456.4,273.3 454.1,271.7 451.9,270.1 449.5,268.8 447.7,266.5 445.1,265.5 442.9,263.8 440.9,261.9 438.5,263.5 436.1,265.0 433.4,266.0 430.9,267.3 428.7,269.1 426.2,270.5 423.7,271.9 424.1,274.5 424.8,277.1 426.6,279.3 426.9,282.0 427.7,284.5 430.1,285.7 432.1,287.6 434.5,288.9 436.6,290.5 439.2,291.4 442.0,291.0 444.7,290.2 447.3,289.0 450.2,288.8 452.8,287.6 454.1,284.9 455.7,282.3 457.5,279.9 458.9,277.2Z" fill="#F8D763" stroke-width="0.95"/>
<path d="M460.6,306.2 459.3,303.6 458.4,300.9 457.1,298.3 456.1,295.6 455.1,292.9 454.0,290.2 452.8,287.6 450.2,288.8 447.3,289.0 444.7,290.2 442.0,291.0 439.2,291.4 439.2,294.4 438.5,297.3 438.4,300.2 438.2,303.2 437.8,306.1 437.1,309.0 437.2,312.0 439.9,312.1 442.4,313.5 445.2,313.0 447.8,314.0 450.5,314.2 452.6,312.1 455.2,310.8 457.3,308.7 460.0,307.5Z" fill="#F8D763" stroke-width="0.95"/>
<path d="M421.1,329.4 423.8,329.4 426.5,329.8 429.2,329.6 431.9,330.3 433.1,327.8 433.9,325.2 433.7,322.4 434.7,319.9 435.4,317.3 436.4,314.7 437.0,312.1 434.3,312.0 431.7,311.5 429.1,310.9 426.6,310.1 424.1,309.2 422.1,311.6 419.3,313.1 416.9,315.1 415.0,317.6 415.8,320.2 417.8,322.1 418.6,324.7 419.5,327.2Z" fill="#F8D763" stroke-width="0.95"/>
<path d="M434.5,206.3 431.9,205.8 429.2,205.8 426.6,205.4 423.9,206.2 421.3,205.5 418.7,205.4 416.0,205.4 413.4,205.0 410.8,204.8 408.1,205.0 406.4,208.0 404.0,210.3 402.2,213.2 402.9,215.8 402.8,218.5 403.8,221.0 404.2,223.6 404.0,226.3 404.9,228.8 407.8,231.3 410.8,233.8 414.2,233.9 417.7,234.0 421.1,233.9 423.7,232.7 426.0,231.1 428.1,229.2 430.1,227.1 432.6,225.7 435.2,224.6 437.4,222.8 436.6,219.9 436.3,216.8 436.9,213.8 436.6,210.8 435.8,207.8Z" fill="#F8D763" stroke-width="0.95"/>
<path d="M523.8,302.2 523.7,299.9 522.1,297.8 517.3,298.3 516.6,302.2 518.5,303.6 521.1,302.7Z" fill="#F8D763" stroke-width="0.95"/>
<path d="M452.5,349.0 449.8,350.1 447.3,351.5 446.8,354.4 446.1,357.3 446.1,360.2 445.4,363.1 446.9,365.5 450.7,366.4 454.1,368.3 456.7,366.8 457.7,363.8 459.1,361.0 459.9,357.9 461.1,355.0 459.5,352.8 458.1,350.4 455.3,349.7Z" fill="#F8D763" stroke-width="0.95"/>
<path d="M484.1,405.0 480.4,406.9 479.6,409.1 481.2,412.9 484.9,413.9 486.6,411.9 487.9,409.6 487.5,406.6Z" fill="#FBF8CC" stroke-width="0.95"/>
<path d="M419.2,354.3 421.9,355.2 424.7,355.8 427.4,356.9 430.3,357.1 431.4,354.3 433.4,352.0 435.6,349.9 436.7,347.1 435.0,344.4 433.8,341.4 430.9,342.2 427.9,343.1 424.9,343.7 422.3,345.4 419.3,346.1 418.9,348.8 419.0,351.6Z" fill="#F8D763" stroke-width="0.95"/>
<path d="M509.3,317.8 506.9,319.6 504.5,321.5 504.6,322.9 507.1,324.6 509.0,327.1 511.8,328.5 513.1,328.6 516.7,325.4 516.0,323.1 513.9,321.1 511.5,319.6Z" fill="#FBF8CC" stroke-width="0.95"/>
<path d="M490.4,372.6 488.2,370.2 485.3,371.8 482.4,373.2 482.0,374.3 484.1,378.9 485.6,379.6 487.9,377.9 490.4,376.6Z" fill="#FBF8CC" stroke-width="0.95"/>
<path d="M458.5,235.3 454.8,237.9 454.5,240.9 453.5,243.7 455.8,245.5 458.5,246.7 461.0,248.3 463.1,250.4 465.7,251.7 468.3,253.2 470.5,255.1 472.9,253.4 474.7,251.1 476.5,248.8 475.7,245.8 475.1,242.9 474.1,240.0 474.0,236.9 470.9,237.0 467.7,236.8 464.7,236.0 461.6,235.4Z" fill="#F8D763" stroke-width="0.95"/>
<path d="M492.6,289.5 492.3,293.3 492.7,297.0 495.3,297.9 498.0,298.6 500.3,300.3 501.8,297.7 503.1,295.0 505.0,292.7 503.0,290.5 500.4,290.3 497.8,290.2 495.2,289.5Z" fill="#F8D763" stroke-width="0.95"/>
<path d="M531.2,315.6 533.1,315.1 534.8,311.8 533.0,310.0 528.7,311.5 528.7,312.3Z" fill="#FBF8CC" stroke-width="0.95"/>
<path d="M505.9,363.6 502.1,363.4 501.8,366.9 504.5,367.8 504.9,367.7Z" fill="#FAB000" stroke-width="0.95"/>
<path d="M418.2,391.7 419.5,390.2 419.7,387.5 419.2,384.9 416.6,382.4 413.2,383.9 409.6,384.6 409.6,389.7 412.5,390.2 415.4,390.7Z" fill="#F8D763" stroke-width="0.95"/>
<path d="M462.4,379.4 458.8,378.1 455.2,376.9 451.5,380.5 451.2,385.3 453.1,387.4 455.2,389.5 460.0,389.6 462.0,388.3 462.0,385.3 462.4,382.4Z" fill="#FBF8CC" stroke-width="0.95"/>
<path d="M532.3,336.2 529.4,339.7 529.6,341.2 531.3,342.5 532.9,342.5 532.9,342.4 534.2,341.4 533.7,340.0 533.5,338.6 533.9,337.4 534.0,337.2Z" fill="#F8D763" stroke-width="0.95"/>
<path d="M418.0,298.0 419.7,295.8 421.1,293.4 422.5,291.0 424.3,288.9 426.4,287.0 427.7,284.5 426.9,282.0 426.6,279.3 424.8,277.1 424.1,274.5 423.7,271.9 421.0,270.8 418.4,269.4 415.5,268.9 412.8,267.7 410.1,266.7 407.7,268.1 405.2,269.4 403.0,271.1 400.3,272.0 400.2,274.6 399.6,277.2 399.1,279.7 399.0,282.4 398.4,284.9 397.5,287.4 400.5,287.0 403.6,287.1 406.6,287.5 409.6,287.4 409.9,290.0 409.8,292.6 410.0,295.3 409.6,297.9 412.4,298.1 415.2,298.0Z" fill="#F8D763" stroke-width="0.95"/>
<path d="M488.0,238.6 490.1,236.7 491.2,234.0 493.0,231.9 493.0,231.3 492.4,230.2 492.0,229.0 490.5,228.3 489.1,227.6 488.6,226.4 485.9,227.1 483.4,228.2 480.7,228.8 478.3,230.3 478.2,230.8 480.9,232.4 483.1,234.7 485.7,236.4Z" fill="#F8D763" stroke-width="0.95"/>
<path d="M475.2,319.6 470.1,319.4 468.7,321.7 467.1,323.9 466.6,326.7 464.9,328.9 463.6,331.2 465.0,332.7 467.7,332.2 470.4,332.4 473.2,332.4 475.9,331.9 477.1,329.5 478.7,327.5 477.6,324.8 476.5,322.2Z" fill="#F8D763" stroke-width="0.95"/>
<path d="M472.2,281.8 474.1,283.9 475.2,286.6 476.8,288.9 479.7,289.1 482.4,287.8 485.2,287.7 488.0,287.2 490.9,287.3 491.8,284.0 492.7,280.6 494.2,277.5 491.3,276.5 488.9,274.4 486.1,273.2 483.5,271.5 481.4,273.7 479.0,275.6 476.5,277.4 474.1,279.3Z" fill="#F8D763" stroke-width="0.95"/>
<path d="M400.3,272.0 397.6,271.2 395.3,269.5 392.6,268.7 389.9,267.9 387.2,267.1 384.7,265.9 382.1,264.7 379.5,263.8 379.9,266.4 379.9,269.0 380.1,271.7 380.0,274.3 379.6,276.9 380.1,279.5 379.9,282.2 380.0,284.8 379.5,287.4 382.5,286.9 385.5,287.8 388.5,287.3 391.5,287.4 394.5,286.9 397.5,287.4 398.4,284.9 399.0,282.4 399.1,279.7 399.6,277.2 400.2,274.6Z" fill="#F8D763" stroke-width="0.95"/>
<path d="M416.9,356.6 419.2,354.3 419.0,351.6 418.9,348.8 419.3,346.1 416.3,343.2 412.9,343.4 409.6,344.5 409.5,347.1 409.5,349.7 409.2,352.4 409.8,355.0 409.6,357.6 413.3,357.4Z" fill="#F8D763" stroke-width="0.95"/>
<path d="M437.4,222.8 435.2,224.6 432.6,225.7 430.1,227.1 428.1,229.2 426.0,231.1 423.7,232.7 421.1,233.9 423.5,235.4 425.1,237.8 427.6,239.2 429.7,241.1 432.0,242.7 434.2,244.4 435.8,246.8 438.0,248.5 440.6,249.8 442.5,251.8 444.5,249.9 447.2,249.0 449.3,247.3 450.9,244.8 453.5,243.7 454.5,240.9 454.8,237.9 453.2,235.5 451.4,233.1 448.9,231.4 447.6,228.7 445.4,226.8 443.8,224.3 440.6,223.7Z" fill="#F8D763" stroke-width="0.95"/>
<path d="M468.2,410.3 470.8,407.8 470.9,405.6 468.8,404.1 466.8,402.4 463.1,404.8 463.8,408.8Z" fill="#F8D763" stroke-width="0.95"/>
<path d="M466.9,342.4 464.9,344.7 462.5,346.4 460.0,348.1 458.1,350.4 459.5,352.8 461.1,355.0 464.0,356.4 467.2,357.3 470.1,358.7 471.4,355.9 473.6,353.6 474.8,350.8 474.3,347.6 473.1,344.7 469.9,343.8Z" fill="#F8D763" stroke-width="0.95"/>
<path d="M498.2,369.5 495.8,369.8 494.3,372.1 496.2,375.2 498.5,374.8 499.1,374.0Z" fill="#F8D763" stroke-width="0.95"/>
<path d="M458.5,216.1 453.6,216.0 451.2,218.2 448.8,220.3 446.0,221.9 443.8,224.3 445.4,226.8 447.6,228.7 448.9,231.4 451.4,233.1 453.2,235.5 454.8,237.9 458.5,235.3 459.9,232.7 461.5,230.2 462.5,227.4 461.2,224.7 460.4,221.8 459.3,219.0Z" fill="#F8D763" stroke-width="0.95"/>
<path d="M434.5,334.4 437.3,333.7 440.2,334.1 442.9,333.3 445.7,332.9 448.6,333.3 451.4,332.6 454.2,329.6 453.1,327.1 452.8,324.5 452.1,322.0 451.6,319.4 450.8,316.9 450.5,314.2 447.8,314.0 445.2,313.0 442.4,313.5 439.9,312.1 437.2,312.0 437.0,312.1 436.4,314.7 435.4,317.3 434.7,319.9 433.7,322.4 433.9,325.2 433.1,327.8 431.9,330.3Z" fill="#F8D763" stroke-width="0.95"/>
<path d="M436.3,171.2 434.3,169.4 431.9,168.1 429.3,167.9 426.7,168.4 425.9,171.3 424.8,174.2 423.0,176.7 422.5,179.7 421.2,182.5 419.9,185.2 422.8,185.5 425.6,186.3 428.4,187.0 431.3,187.3 434.0,188.5 435.5,186.2 436.6,183.7 438.2,181.5 437.3,179.0 437.0,176.4 436.7,173.8Z" fill="#F8D763" stroke-width="0.95"/>
<path d="M463.9,415.2 464.0,415.2 465.9,413.3 468.0,411.7 468.2,410.3 463.8,408.8 461.0,411.0Z" fill="#F8D763" stroke-width="0.95"/>
<path d="M483.7,390.8 481.5,393.6 479.8,396.7 483.7,399.6 486.5,398.6 489.2,397.3 489.9,395.4 489.2,393.2 486.3,392.3Z" fill="#F8D763" stroke-width="0.95"/>
<path d="M469.3,390.2 465.6,389.4 462.0,388.3 460.0,389.6 460.5,393.4 461.1,397.1 463.7,397.9 466.3,398.5 468.9,396.0 469.1,393.1Z" fill="#F8D763" stroke-width="0.95"/>
<path d="M530.3,282.8 526.9,283.2 525.3,285.4 527.0,288.5 529.0,288.3 530.6,286.2 532.8,284.7 530.8,283.8 531.2,283.1Z" fill="#F8D763" stroke-width="0.95"/>
<path d="M451.2,385.3 451.5,380.5 448.9,379.6 446.1,379.1 443.6,377.8 440.9,376.9 440.3,377.1 439.4,380.3 437.9,383.3 437.0,386.5 439.9,388.0 442.3,390.2 445.5,389.0 448.4,387.2Z" fill="#FBF8CC" stroke-width="0.95"/>
<path d="M446.6,192.4 443.2,192.0 439.8,191.6 436.4,191.8 436.3,194.7 435.7,197.6 435.8,200.6 434.4,203.3 434.5,206.3 435.8,207.8 438.5,207.8 441.0,206.7 443.6,206.1 446.3,206.3 448.8,205.2 451.1,202.0 450.9,197.3 448.5,195.1Z" fill="#F8D763" stroke-width="0.95"/>
<path d="M447.3,351.5 444.9,349.9 442.1,349.0 439.2,348.5 436.7,347.1 435.6,349.9 433.4,352.0 431.4,354.3 430.3,357.1 431.3,360.4 432.2,363.6 434.9,364.1 437.5,363.3 440.1,363.3 442.8,363.3 445.4,363.1 446.1,360.2 446.1,357.3 446.8,354.4Z" fill="#F8D763" stroke-width="0.95"/>
<path d="M443.1,392.7 445.3,394.3 447.3,396.2 450.0,395.2 452.7,394.5 453.8,391.9 455.2,389.5 453.1,387.4 451.2,385.3 448.4,387.2 445.5,389.0 442.3,390.2Z" fill="#F8D763" stroke-width="0.95"/>
<path d="M465.9,423.0 466.2,423.4 471.1,424.1 471.3,423.8 471.6,423.2 471.7,420.2 471.2,417.2 467.5,418.1 465.8,421.7Z" fill="#F8D763" stroke-width="0.95"/>
<path d="M402.2,213.2 399.6,212.2 397.2,211.0 394.6,210.1 392.1,209.0 389.6,208.1 386.9,207.5 384.4,206.3 382.2,204.4 379.5,203.9 379.0,206.6 379.7,209.3 379.4,212.0 379.1,214.6 379.4,217.3 379.7,220.0 379.3,222.7 379.3,225.4 379.6,228.1 380.0,230.8 379.6,233.4 379.1,236.1 379.8,238.8 379.5,241.5 382.0,240.1 384.6,238.9 387.4,238.2 389.6,236.2 392.0,234.8 394.9,234.1 397.5,233.0 399.6,230.8 402.1,229.6 404.9,228.8 404.0,226.3 404.2,223.6 403.8,221.0 402.8,218.5 402.9,215.8Z" fill="#F8D763" stroke-width="0.95"/>
<path d="M505.7,333.3 503.7,330.6 501.9,327.8 497.1,329.1 495.7,332.9 498.8,335.1 502.2,336.7 505.4,335.6Z" fill="#F8D763" stroke-width="0.95"/>
<path d="M513.1,328.6 513.7,331.5 514.7,334.2 518.9,335.3 522.8,332.3 522.9,331.9 521.1,329.0 519.5,326.0 516.7,325.4Z" fill="#F8D763" stroke-width="0.95"/>
<path d="M476.8,288.9 475.2,286.6 474.1,283.9 472.2,281.8 469.4,281.1 467.0,279.6 464.1,279.5 461.6,278.0 458.9,277.2 457.5,279.9 455.7,282.3 454.1,284.9 452.8,287.6 454.0,290.2 455.1,292.9 456.1,295.6 457.1,298.3 458.4,300.9 459.3,303.6 460.6,306.2 463.3,305.6 465.6,303.8 468.2,302.8 470.9,302.2 473.6,301.7 476.0,300.1 476.0,297.3 476.5,294.5 476.7,291.7Z" fill="#F8D763" stroke-width="0.95"/>
<path d="M487.3,302.5 484.1,302.0 481.0,301.3 477.8,301.5 478.1,304.3 478.4,307.1 479.2,309.9 479.8,312.7 480.1,315.5 482.8,316.0 485.5,316.5 488.1,317.3 489.0,314.2 490.7,311.5 491.8,308.5 489.9,305.2Z" fill="#F8D763" stroke-width="0.95"/>
<path d="M498.6,275.7 503.3,276.8 506.3,274.9 509.1,272.8 510.4,268.5 508.7,266.3 506.4,264.6 504.9,262.2 503.1,260.1 500.4,262.2 497.8,264.5 497.5,267.3 498.0,270.1 497.9,272.9Z" fill="#F8D763" stroke-width="0.95"/>
<path d="M519.6,315.1 517.1,313.3 514.6,314.4 511.9,314.9 509.7,316.5 509.3,317.8 511.5,319.6 513.9,321.1 516.0,323.1 517.5,320.6 517.9,317.6Z" fill="#F8D763" stroke-width="0.95"/>
<path d="M474.0,236.9 474.1,240.0 475.1,242.9 475.7,245.8 476.5,248.8 479.6,247.8 482.9,247.8 485.0,245.2 485.8,241.8 488.0,239.3 488.0,238.6 485.7,236.4 483.1,234.7 480.9,232.4 478.2,230.8 476.1,233.9Z" fill="#F8D763" stroke-width="0.95"/>
<path d="M512.3,256.3 512.5,255.3 510.9,254.6 510.2,253.6 509.2,252.7 509.0,251.3 508.8,250.0 507.9,249.1 506.4,248.8 506.2,247.2 505.9,246.3 504.3,248.8 502.6,251.2 501.2,253.8 502.3,256.3 503.4,258.7 506.2,257.4 509.5,257.6Z" fill="#F8D763" stroke-width="0.95"/>
<path d="M427.0,401.4 429.0,399.3 430.4,396.7 430.2,392.0 427.5,391.9 424.9,391.0 422.2,390.5 419.5,390.2 418.2,391.7 417.5,396.4 420.1,398.6 423.5,399.5 426.0,401.8Z" fill="#F8D763" stroke-width="0.95"/>
<path d="M436.7,347.1 439.2,348.5 442.1,349.0 444.9,349.9 447.3,351.5 449.8,350.1 452.5,349.0 452.5,346.3 452.7,343.5 451.5,340.8 451.3,338.1 451.9,335.3 451.4,332.6 448.6,333.3 445.7,332.9 442.9,333.3 440.2,334.1 437.3,333.7 434.5,334.4 434.6,337.9 433.8,341.4 435.0,344.4Z" fill="#F8D763" stroke-width="0.95"/>
<path d="M497.8,264.5 500.4,262.2 503.1,260.1 503.4,258.7 502.3,256.3 501.2,253.8 497.4,253.0 493.8,251.7 490.6,252.9 489.8,255.7 489.4,258.4 489.6,261.3 492.2,262.8 495.1,263.5Z" fill="#F8D763" stroke-width="0.95"/>
<path d="M444.9,408.3 446.0,409.9 447.8,410.2 451.0,406.9 448.9,404.6 446.7,402.5 446.1,402.9 445.5,405.6Z" fill="#F8D763" stroke-width="0.95"/>
<path d="M470.6,256.0 468.6,258.1 467.6,260.9 466.4,263.5 464.8,265.9 463.2,268.2 461.1,270.3 460.3,273.2 458.3,275.3 458.9,277.2 461.6,278.0 464.1,279.5 467.0,279.6 469.4,281.1 472.2,281.8 474.1,279.3 476.5,277.4 479.0,275.6 481.4,273.7 483.5,271.5 483.3,268.8 483.3,266.0 481.3,264.2 478.9,262.8 476.9,261.1 475.1,259.0 472.9,257.4Z" fill="#F8D763" stroke-width="0.95"/>
<path d="M507.5,370.6 508.3,370.3 508.6,369.0 507.7,367.4 504.9,367.7 506.8,370.6Z" fill="#F8D763" stroke-width="0.95"/>
<path d="M519.9,272.8 521.7,274.9 523.5,277.0 525.3,275.0 527.3,273.1 527.3,272.7 524.8,273.3 524.7,271.6 523.1,271.3 522.5,270.0 521.5,269.2 521.0,268.8Z" fill="#F8D763" stroke-width="0.95"/>
<path d="M416.3,152.0 416.2,153.3 416.6,154.7 415.8,155.8 417.2,158.2 419.1,160.3 421.5,161.8 423.0,164.2 424.7,166.5 426.7,168.4 429.3,167.9 431.9,168.1 433.4,165.8 435.3,163.7 436.0,160.9 438.1,159.0 439.4,156.6 439.5,153.5 439.0,152.8 437.5,152.5 437.3,151.1 437.4,149.6 436.9,148.3 437.3,146.8 437.3,145.3 436.5,144.0 436.9,142.4 436.9,142.4 434.1,143.2 432.0,145.3 429.2,146.0 426.4,146.8 423.9,148.2 421.6,149.9 419.1,151.3Z" fill="#F8D763" stroke-width="0.95"/>
<path d="M511.3,354.7 513.7,353.1 513.9,348.8 509.3,348.5 507.2,352.3 508.0,354.6Z" fill="#F8D763" stroke-width="0.95"/>
<path d="M510.4,268.5 509.1,272.8 512.1,274.2 515.0,275.8 517.4,274.3 519.9,272.8 521.0,268.8 520.4,268.4 519.9,267.0 518.4,266.6 518.3,264.8 516.6,264.7 516.3,264.5 513.6,266.9Z" fill="#F8D763" stroke-width="0.95"/>
<path d="M488.2,358.4 485.2,358.0 482.3,357.0 480.4,358.9 478.7,361.0 480.8,365.0 483.7,365.1 486.6,364.5 487.6,361.8 488.8,359.2Z" fill="#F8D763" stroke-width="0.95"/>
<path d="M473.1,344.7 474.3,347.6 474.8,350.8 477.8,351.4 480.6,352.3 482.9,350.8 484.8,348.8 484.1,345.4 480.8,343.6 477.3,341.9Z" fill="#FBF8CC" stroke-width="0.95"/>
<path d="M446.0,409.9 443.9,413.9 444.0,414.0 445.8,415.1 449.2,414.3 449.8,413.3 449.8,412.3 447.8,410.2Z" fill="#F8D763" stroke-width="0.95"/>
<path d="M434.0,188.5 431.3,187.3 428.4,187.0 425.6,186.3 422.8,185.5 419.9,185.2 416.8,186.1 414.3,188.1 411.2,189.0 411.1,191.8 410.0,194.3 410.2,197.1 409.5,199.7 408.1,202.2 408.1,205.0 410.8,204.8 413.4,205.0 416.0,205.4 418.7,205.4 421.3,205.5 423.9,206.2 426.6,205.4 429.2,205.8 431.9,205.8 434.5,206.3 434.4,203.3 435.8,200.6 435.7,197.6 436.3,194.7 436.4,191.8Z" fill="#F8D763" stroke-width="0.95"/>
<path d="M492.7,297.0 490.3,300.1 487.3,302.5 489.9,305.2 491.8,308.5 495.0,308.2 498.3,308.3 500.1,306.0 501.2,303.2 500.3,300.3 498.0,298.6 495.3,297.9Z" fill="#F8D763" stroke-width="0.95"/>
<path d="M523.2,340.5 525.8,336.7 525.8,336.4 522.8,332.3 518.9,335.3 519.8,340.3 520.6,340.8Z" fill="#FBF8CC" stroke-width="0.95"/>
<path d="M517.9,362.7 515.3,362.9 514.7,365.3 515.9,366.4 518.9,365.9 519.1,365.6 519.4,364.8Z" fill="#F8D763" stroke-width="0.95"/>
<path d="M465.1,425.9 466.2,423.4 465.9,423.0 463.2,423.1 460.6,423.1 459.9,424.2 462.2,426.7Z" fill="#F8D763" stroke-width="0.95"/>
<path d="M491.8,308.5 490.7,311.5 489.0,314.2 488.1,317.3 490.5,320.9 491.4,321.1 494.3,320.8 496.8,319.4 499.4,318.4 499.8,314.9 500.2,311.4 498.3,308.3 495.0,308.2Z" fill="#F8D763" stroke-width="0.95"/>
<path d="M470.6,256.0 470.5,255.1 468.3,253.2 465.7,251.7 463.1,250.4 461.0,248.3 458.5,246.7 455.8,245.5 453.5,243.7 450.9,244.8 449.3,247.3 447.2,249.0 444.5,249.9 442.5,251.8 441.8,255.1 441.8,258.6 440.9,261.9 442.9,263.8 445.1,265.5 447.7,266.5 449.5,268.8 451.9,270.1 454.1,271.7 456.4,273.3 458.3,275.3 460.3,273.2 461.1,270.3 463.2,268.2 464.8,265.9 466.4,263.5 467.6,260.9 468.6,258.1Z" fill="#F8D763" stroke-width="0.95"/>
<path d="M468.9,396.0 466.3,398.5 466.8,402.4 468.8,404.1 470.9,405.6 473.3,404.2 475.2,402.1 475.8,399.3 472.2,398.0Z" fill="#FBF8CC" stroke-width="0.95"/>
<path d="M446.9,365.5 445.4,363.1 442.8,363.3 440.1,363.3 437.5,363.3 434.9,364.1 432.2,363.6 431.4,365.1 432.3,368.7 433.0,372.4 435.6,373.8 438.1,375.2 440.3,377.1 440.9,376.9 442.2,373.9 444.2,371.4 445.5,368.4Z" fill="#FBF8CC" stroke-width="0.95"/>
<path d="M492.6,289.5 490.9,287.3 488.0,287.2 485.2,287.7 482.4,287.8 479.7,289.1 476.8,288.9 476.7,291.7 476.5,294.5 476.0,297.3 476.0,300.1 477.8,301.5 481.0,301.3 484.1,302.0 487.3,302.5 490.3,300.1 492.7,297.0 492.3,293.3Z" fill="#F8D763" stroke-width="0.95"/>
<path d="M465.0,332.7 463.6,331.2 460.4,331.2 457.4,329.7 454.2,329.6 451.4,332.6 451.9,335.3 451.3,338.1 451.5,340.8 452.7,343.5 452.5,346.3 452.5,349.0 455.3,349.7 458.1,350.4 460.0,348.1 462.5,346.4 464.9,344.7 466.9,342.4 466.3,339.2 466.0,335.9Z" fill="#F8D763" stroke-width="0.95"/>
<path d="M416.4,333.8 416.8,336.9 415.9,340.1 416.3,343.2 419.3,346.1 422.3,345.4 424.9,343.7 427.9,343.1 430.9,342.2 433.8,341.4 434.6,337.9 434.5,334.4 431.9,330.3 429.2,329.6 426.5,329.8 423.8,329.4 421.1,329.4 418.6,331.4Z" fill="#F8D763" stroke-width="0.95"/>
<path d="M451.1,202.0 453.9,202.7 456.8,202.9 459.6,203.7 462.3,204.7 464.2,203.5 464.4,202.3 462.6,201.6 462.8,200.1 462.2,198.8 461.6,197.6 460.7,196.5 460.8,195.0 460.9,193.5 459.5,192.7 456.4,193.8 453.7,195.7 450.9,197.3Z" fill="#F8D763" stroke-width="0.95"/>
<path d="M489.3,350.8 484.8,348.8 482.9,350.8 480.6,352.3 482.3,357.0 485.2,358.0 488.2,358.4 489.0,354.6Z" fill="#F8D763" stroke-width="0.95"/>
<path d="M486.6,364.5 488.6,368.3 493.4,366.7 494.6,363.7 491.8,361.6 489.1,359.3 488.8,359.2 487.6,361.8Z" fill="#F8D763" stroke-width="0.95"/>
<path d="M494.4,409.2 492.1,412.4 492.4,413.3 496.4,414.5 498.4,412.2 497.4,409.8Z" fill="#FBF8CC" stroke-width="0.95"/>
<path d="M503.9,391.2 505.2,390.4 505.4,388.5 503.7,386.6 501.0,387.5 500.4,390.2Z" fill="#F8D763" stroke-width="0.95"/>
<path d="M436.9,142.4 436.2,141.0 435.4,139.7 436.0,138.1 435.2,136.7 433.7,135.9 433.1,134.6 433.5,132.7 432.4,131.7 431.6,130.5 430.4,129.4 430.9,127.5 430.0,126.3 429.0,125.2 427.9,124.1 428.4,122.7 427.6,121.6 427.8,120.3 427.6,119.0 426.7,117.4 425.5,116.0 423.9,116.6 422.7,115.5 422.6,116.9 422.1,118.2 421.9,119.6 422.0,121.0 420.9,122.2 421.2,123.7 420.6,125.0 420.0,126.2 420.1,127.6 419.6,128.8 418.9,129.9 418.4,131.2 419.1,132.7 418.3,133.9 417.5,135.0 417.8,136.3 417.4,137.5 416.9,138.7 417.2,140.0 416.9,141.3 417.3,142.7 417.4,144.0 416.8,145.3 416.8,146.7 416.2,147.9 416.9,149.3 416.2,150.6 416.3,152.0 416.3,152.0 419.1,151.3 421.6,149.9 423.9,148.2 426.4,146.8 429.2,146.0 432.0,145.3 434.1,143.2Z" fill="#F8D763" stroke-width="0.95"/>
<path d="M470.3,359.2 470.1,358.7 467.2,357.3 464.0,356.4 461.1,355.0 459.9,357.9 459.1,361.0 457.7,363.8 456.7,366.8 459.2,367.9 461.8,368.4 464.4,368.9 467.1,369.1 469.2,367.7 469.6,364.9 470.5,362.1Z" fill="#F8D763" stroke-width="0.95"/>
<path d="M434.9,426.1 432.0,425.6 429.1,425.7 428.5,427.4 429.0,427.5 429.9,429.0 431.3,429.2 432.8,428.9 433.7,430.3 434.4,430.1Z" fill="#FBF8CC" stroke-width="0.95"/>
<path d="M510.4,268.5 513.6,266.9 516.3,264.5 515.3,264.1 515.0,262.5 514.0,261.6 513.7,260.3 513.4,259.1 512.8,257.9 512.1,256.8 512.3,256.3 509.5,257.6 506.2,257.4 503.4,258.7 503.1,260.1 504.9,262.2 506.4,264.6 508.7,266.3Z" fill="#F8D763" stroke-width="0.95"/>
<path d="M514.8,370.6 513.1,371.7 513.6,372.8 514.5,373.0 514.5,371.9 515.5,371.3Z" fill="#F8D763" stroke-width="0.95"/>
<path d="M447.2,165.1 446.9,167.8 450.2,169.5 453.8,170.5 453.8,170.0 452.3,168.8 453.5,167.5 454.7,166.2 454.0,165.0 453.3,163.8 453.8,162.5 452.4,162.3 452.1,161.2 449.9,163.5Z" fill="#F8D763" stroke-width="0.95"/>
<path d="M458.5,412.5 458.4,414.7 459.4,416.0 463.1,415.9 463.9,415.2 461.0,411.0 460.4,410.9Z" fill="#F8D763" stroke-width="0.95"/>
<path d="M442.7,424.0 442.4,426.0 442.5,426.1 442.6,426.0 444.0,425.9 445.1,425.2 446.1,424.5 446.7,424.0 444.0,423.1Z" fill="#F8D763" stroke-width="0.95"/>
<path d="M524.3,323.1 528.5,325.0 530.1,324.0 531.7,321.2 530.0,318.1 527.2,318.4 524.5,318.1Z" fill="#FBF8CC" stroke-width="0.95"/>
<path d="M440.9,408.4 439.3,405.7 438.5,402.6 435.9,404.8 433.4,407.2 433.4,409.4 436.1,412.0 438.5,412.1Z" fill="#FBF8CC" stroke-width="0.95"/>
<path d="M529.7,346.2 531.3,342.5 529.6,341.2 525.8,342.7 525.8,345.9 526.0,346.2Z" fill="#F8D763" stroke-width="0.95"/>
<path d="M524.3,302.7 526.8,302.0 529.3,301.1 528.9,298.4 527.7,297.7 523.7,299.9 523.8,302.2Z" fill="#F8D763" stroke-width="0.95"/>
<path d="M432.2,363.6 431.3,360.4 430.3,357.1 427.4,356.9 424.7,355.8 421.9,355.2 419.2,354.3 416.9,356.6 417.6,359.5 419.0,362.2 419.8,365.1 420.2,368.1 422.9,367.1 425.8,366.6 428.7,366.3 431.4,365.1Z" fill="#F8D763" stroke-width="0.95"/>
<path d="M473.8,388.9 475.3,391.6 477.5,393.9 478.7,396.8 479.8,396.7 481.5,393.6 483.7,390.8 483.2,388.9 480.9,387.2 478.3,385.9 476.0,387.4Z" fill="#F8D763" stroke-width="0.95"/>
<path d="M499.6,368.1 498.1,365.6 496.7,363.1 494.6,363.7 493.4,366.7 495.8,369.8 498.2,369.5 499.3,368.7Z" fill="#F8D763" stroke-width="0.95"/>
<path d="M480.6,352.3 477.8,351.4 474.8,350.8 473.6,353.6 471.4,355.9 470.1,358.7 470.3,359.2 473.1,359.8 476.0,360.0 478.7,361.0 480.4,358.9 482.3,357.0Z" fill="#FBF8CC" stroke-width="0.95"/>
<path d="M488.6,226.4 488.6,226.3 488.0,225.2 488.1,223.7 487.5,222.5 486.6,221.4 485.4,220.8 484.5,219.8 483.2,219.4 481.7,219.3 480.1,219.7 478.9,222.3 478.4,225.3 477.0,227.9 478.3,230.3 480.7,228.8 483.4,228.2 485.9,227.1Z" fill="#F8D763" stroke-width="0.95"/>
<path d="M523.5,277.0 523.3,278.7 528.4,278.8 529.4,277.0 529.0,276.7 527.8,275.9 527.5,274.4 527.3,273.1 525.3,275.0Z" fill="#F8D763" stroke-width="0.95"/>
<path d="M453.6,216.0 452.5,213.3 451.2,210.6 449.9,208.0 448.8,205.2 446.3,206.3 443.6,206.1 441.0,206.7 438.5,207.8 435.8,207.8 436.6,210.8 436.9,213.8 436.3,216.8 436.6,219.9 437.4,222.8 440.6,223.7 443.8,224.3 446.0,221.9 448.8,220.3 451.2,218.2Z" fill="#F8D763" stroke-width="0.95"/>
<path d="M530.0,293.2 532.7,296.6 532.8,296.6 533.9,296.3 533.9,296.2 533.1,295.1 533.6,293.7 532.7,292.6 532.3,291.5 530.7,292.0Z" fill="#F8D763" stroke-width="0.95"/>
<path d="M417.5,405.9 415.0,410.1 415.4,411.7 416.3,412.4 419.2,412.4 422.1,412.1 425.0,412.2 424.2,408.9 423.9,405.6 420.7,406.0Z" fill="#F8D763" stroke-width="0.95"/>
<path d="M409.6,420.9 409.6,421.6 409.7,421.6 411.1,422.2 412.2,423.1 412.9,424.4 414.0,425.4 415.0,426.4 416.2,427.0 417.5,427.0 417.7,427.0 417.1,423.7 416.2,420.4 412.9,420.6Z" fill="#F8D763" stroke-width="0.95"/>
<path d="M520.6,340.8 519.8,340.3 516.9,341.5 513.8,342.0 514.6,344.8 515.1,347.6 519.5,348.1 520.5,346.8 520.6,343.8Z" fill="#FBF8CC" stroke-width="0.95"/>
<path d="M449.9,186.3 448.8,183.0 447.9,179.7 444.7,180.3 441.4,180.8 438.2,181.5 436.6,183.7 435.5,186.2 434.0,188.5 436.4,191.8 439.8,191.6 443.2,192.0 446.6,192.4 448.3,189.4Z" fill="#F8D763" stroke-width="0.95"/>
<path d="M496.3,242.8 493.5,241.8 490.6,240.9 488.0,239.3 485.8,241.8 485.0,245.2 482.9,247.8 485.4,249.7 488.1,251.0 490.6,252.9 493.8,251.7 494.5,248.7 495.2,245.7Z" fill="#F8D763" stroke-width="0.95"/>
<path d="M499.4,318.4 496.8,319.4 494.3,320.8 491.4,321.1 492.9,324.0 495.2,326.4 497.1,329.1 501.9,327.8 503.4,325.4 504.6,322.9 504.5,321.5 502.1,319.7Z" fill="#F8D763" stroke-width="0.95"/>
<path d="M489.1,359.3 491.5,358.3 493.9,357.3 496.3,356.2 497.2,353.8 495.4,351.5 493.3,349.4 492.9,349.3 489.3,350.8 489.0,354.6 488.2,358.4 488.8,359.2Z" fill="#FBF8CC" stroke-width="0.95"/>
<path d="M439.9,419.1 442.5,418.8 442.9,418.5 444.0,414.0 443.9,413.9 439.7,413.2 439.6,416.2Z" fill="#FBF8CC" stroke-width="0.95"/>
<path d="M418.9,370.2 420.2,368.1 419.8,365.1 419.0,362.2 417.6,359.5 416.9,356.6 413.3,357.4 409.6,357.6 409.5,360.7 409.4,363.7 409.6,366.8 412.6,368.2 416.0,368.6Z" fill="#F8D763" stroke-width="0.95"/>
<path d="M473.9,378.4 469.5,380.0 470.4,382.9 470.6,386.0 471.3,388.9 473.8,388.9 476.0,387.4 478.3,385.9 478.6,383.5 476.2,381.0Z" fill="#F8D763" stroke-width="0.95"/>
<path d="M508.7,378.0 507.3,376.6 505.7,376.9 505.6,380.3 508.3,379.9Z" fill="#FAB000" stroke-width="0.95"/>
<path d="M477.8,301.5 476.0,300.1 473.6,301.7 470.9,302.2 468.2,302.8 465.6,303.8 463.3,305.6 460.6,306.2 460.0,307.5 461.6,309.5 463.1,311.7 465.4,313.2 466.4,315.8 468.7,317.2 470.1,319.4 475.2,319.6 477.6,317.5 480.1,315.5 479.8,312.7 479.2,309.9 478.4,307.1 478.1,304.3Z" fill="#F8D763" stroke-width="0.95"/>
<path d="M500.4,403.6 503.8,402.8 503.9,402.6 503.8,401.2 504.3,400.4 501.7,398.8 498.8,399.9Z" fill="#F8D763" stroke-width="0.95"/>
<path d="M522.9,331.9 522.8,332.3 525.8,336.4 529.6,334.6 529.2,330.0 528.5,329.5 525.7,330.7Z" fill="#F8D763" stroke-width="0.95"/>
<path d="M523.5,316.5 524.5,318.1 527.2,318.4 530.0,318.1 531.2,315.6 528.7,312.3 526.4,314.8Z" fill="#FBF8CC" stroke-width="0.95"/>
<path d="M455.7,398.6 452.7,394.5 450.0,395.2 447.3,396.2 447.6,400.9 450.5,401.1 453.3,401.6Z" fill="#F8D763" stroke-width="0.95"/>
<path d="M527.2,293.9 525.7,290.0 523.0,290.4 520.2,290.4 520.1,290.5 521.2,293.0 522.9,295.1 526.8,294.5Z" fill="#F8D763" stroke-width="0.95"/>
<path d="M470.1,215.7 467.5,215.3 464.8,215.7 462.2,215.1 459.6,215.2 458.5,216.1 459.3,219.0 460.4,221.8 461.2,224.7 462.5,227.4 465.2,226.8 468.0,226.1 470.4,224.6 470.7,221.6 470.4,218.7Z" fill="#F8D763" stroke-width="0.95"/>
<path d="M481.2,412.9 479.2,414.9 477.6,417.3 478.5,419.6 478.8,419.3 480.2,419.7 481.5,420.1 482.9,419.7 484.2,419.5 485.2,419.8 486.2,416.5 484.9,413.9Z" fill="#FBF8CC" stroke-width="0.95"/>
<path d="M512.4,284.7 512.4,287.6 514.7,289.9 517.5,291.4 520.1,290.5 520.2,290.4 520.8,285.5 518.0,284.4 515.5,282.7Z" fill="#F8D763" stroke-width="0.95"/>
<path d="M433.4,409.4 433.4,407.2 431.4,405.1 429.3,403.2 427.0,401.4 426.0,401.8 423.9,405.6 424.2,408.9 425.0,412.2 425.6,412.7 426.0,412.8 428.6,411.9 430.9,410.5Z" fill="#F8D763" stroke-width="0.95"/>
<path d="M497.2,353.8 496.3,356.2 497.5,358.7 498.4,361.3 500.5,361.4 504.0,357.9 502.1,355.4 499.7,353.4Z" fill="#F8D763" stroke-width="0.95"/>
<path d="M505.4,371.8 503.6,371.0 502.5,371.6 502.1,373.5 502.3,373.8 504.7,374.2 505.8,373.4Z" fill="#FAB000" stroke-width="0.95"/>
<path d="M425.6,412.7 425.0,412.2 422.1,412.1 419.2,412.4 416.3,412.4 416.9,415.9 417.3,419.4 420.0,419.3 422.7,419.5 423.7,415.9Z" fill="#FBF8CC" stroke-width="0.95"/>
<path d="M506.4,383.9 507.9,386.9 508.4,387.1 509.0,386.3 508.7,384.9 509.4,383.8 509.9,382.6 509.9,382.5Z" fill="#F8D763" stroke-width="0.95"/>
<path d="M526.3,350.9 523.5,351.1 520.8,350.9 522.5,355.4 526.4,354.5 526.8,354.0 527.7,353.0 527.8,352.3Z" fill="#F8D763" stroke-width="0.95"/>
<path d="M516.6,310.5 517.1,313.3 519.6,315.1 521.2,315.1 523.1,312.0 524.2,308.6 524.0,308.2 519.0,307.1Z" fill="#FBF8CC" stroke-width="0.95"/>
<path d="M480.1,219.7 479.9,219.7 479.4,218.0 477.9,217.8 477.2,216.4 476.0,215.9 475.0,215.0 473.9,214.3 473.5,212.8 473.2,212.8 470.1,215.7 470.4,218.7 470.7,221.6 470.4,224.6 473.6,226.4 477.0,227.9 478.4,225.3 478.9,222.3Z" fill="#F8D763" stroke-width="0.95"/>
<path d="M411.2,189.0 414.3,188.1 416.8,186.1 419.9,185.2 421.2,182.5 422.5,179.7 423.0,176.7 424.8,174.2 425.9,171.3 426.7,168.4 424.7,166.5 423.0,164.2 421.5,161.8 419.1,160.3 417.2,158.2 415.8,155.8 415.7,155.9 416.0,157.3 415.9,158.6 415.8,160.0 415.9,161.3 415.7,162.6 415.1,163.9 415.2,165.3 415.0,166.6 414.4,167.9 414.9,169.3 415.0,170.8 413.9,171.9 413.9,173.3 413.7,174.7 413.0,175.9 413.0,177.3 412.8,178.7 411.7,179.8 411.8,181.3 411.6,182.7 411.0,184.0 410.8,185.4 410.1,186.7 409.9,187.3Z" fill="#F8D763" stroke-width="0.95"/>
<path d="M529.2,307.4 531.6,307.1 531.9,305.3 531.6,304.9 529.5,304.2 528.5,305.1Z" fill="#F8D763" stroke-width="0.95"/>
<path d="M426.8,377.9 429.0,376.2 431.1,374.5 433.0,372.4 432.3,368.7 431.4,365.1 428.7,366.3 425.8,366.6 422.9,367.1 420.2,368.1 418.9,370.2 418.9,371.5 421.7,373.5 424.0,375.9Z" fill="#FBF8CC" stroke-width="0.95"/>
<path d="M489.2,397.3 491.0,400.5 495.2,401.1 497.3,399.4 496.4,395.3 493.1,395.4 489.9,395.4Z" fill="#F8D763" stroke-width="0.95"/>
<path d="M440.9,261.9 441.8,258.6 441.8,255.1 442.5,251.8 440.6,249.8 438.0,248.5 435.8,246.8 434.2,244.4 432.0,242.7 429.7,241.1 427.6,239.2 425.1,237.8 423.5,235.4 421.1,233.9 417.7,234.0 414.2,233.9 410.8,233.8 410.5,236.5 411.1,239.3 410.8,242.0 410.9,244.8 410.9,247.5 410.3,250.2 410.4,253.0 410.0,255.7 410.1,258.5 410.8,261.2 410.4,264.0 410.1,266.7 412.8,267.7 415.5,268.9 418.4,269.4 421.0,270.8 423.7,271.9 426.2,270.5 428.7,269.1 430.9,267.3 433.4,266.0 436.1,265.0 438.5,263.5Z" fill="#F8D763" stroke-width="0.95"/>
<path d="M512.9,374.4 513.4,374.9 513.3,374.3 514.5,373.4 514.5,373.0 513.6,372.8 512.8,373.5Z" fill="#F8D763" stroke-width="0.95"/>
<path d="M477.6,417.3 474.3,415.9 471.4,416.9 471.2,417.2 471.7,420.2 471.6,423.2 471.9,422.6 473.6,422.4 473.9,420.9 474.8,420.0 476.1,419.6 477.5,420.5 478.5,419.6Z" fill="#F8D763" stroke-width="0.95"/>
<path d="M482.4,373.2 481.4,370.3 479.6,367.8 475.8,368.3 472.0,369.2 473.4,372.6 475.2,375.7 478.5,374.6 482.0,374.3Z" fill="#F8D763" stroke-width="0.95"/>
<path d="M510.0,377.6 510.3,377.1 510.0,375.4 508.3,375.3 507.6,375.7 507.3,376.6 508.7,378.0Z" fill="#F8D763" stroke-width="0.95"/>
<path d="M469.5,380.0 465.0,378.1 462.4,379.4 462.4,382.4 462.0,385.3 462.0,388.3 465.6,389.4 469.3,390.2 471.3,388.9 470.6,386.0 470.4,382.9Z" fill="#F8D763" stroke-width="0.95"/>
<path d="M516.5,279.0 515.0,275.8 512.1,274.2 509.1,272.8 506.3,274.9 503.3,276.8 504.3,279.1 507.3,280.6 509.4,283.3 512.4,284.7 515.5,282.7Z" fill="#F8D763" stroke-width="0.95"/>
<path d="M437.0,386.5 433.8,387.4 431.9,389.6 430.2,392.0 430.4,396.7 433.1,397.5 435.5,399.2 438.0,400.4 439.3,397.6 441.8,395.6 443.1,392.7 442.3,390.2 439.9,388.0Z" fill="#FBF8CC" stroke-width="0.95"/>
<path d="M416.4,333.8 418.6,331.4 421.1,329.4 419.5,327.2 418.6,324.7 417.8,322.1 415.8,320.2 415.0,317.6 412.3,317.3 409.6,317.3 409.6,320.4 409.4,323.4 409.7,326.5 409.7,329.5 409.6,332.6 413.1,332.7Z" fill="#F8D763" stroke-width="0.95"/>
<path d="M532.7,296.6 530.0,293.2 527.2,293.9 526.8,294.5 527.7,297.7 528.9,298.4Z" fill="#F8D763" stroke-width="0.95"/>
<path d="M516.6,302.2 513.2,302.9 510.0,304.3 509.8,304.6 510.1,306.4 513.6,308.1 516.6,310.5 519.0,307.1 518.5,303.6Z" fill="#F8D763" stroke-width="0.95"/>
<path d="M459.5,192.7 459.4,192.7 459.9,191.0 458.8,190.0 458.0,188.9 457.7,187.6 457.5,186.3 453.7,186.6 449.9,186.3 448.3,189.4 446.6,192.4 448.5,195.1 450.9,197.3 453.7,195.7 456.4,193.8Z" fill="#F8D763" stroke-width="0.95"/>
<path d="M509.8,304.6 507.0,303.7 504.1,303.2 501.2,303.2 500.1,306.0 498.3,308.3 500.2,311.4 504.0,311.5 507.7,311.9 508.7,309.1 510.1,306.4Z" fill="#F8D763" stroke-width="0.95"/>
<path d="M462.3,204.7 461.6,207.3 460.5,209.8 460.0,212.5 459.6,215.2 462.2,215.1 464.8,215.7 467.5,215.3 470.1,215.7 473.2,212.8 472.1,212.4 472.0,210.7 470.7,210.2 469.0,210.1 468.3,209.0 467.5,208.0 466.3,207.3 465.5,206.3 465.0,205.0 464.1,203.9 464.2,203.5Z" fill="#F8D763" stroke-width="0.95"/>
<path d="M526.9,283.2 530.3,282.8 528.4,278.8 523.3,278.7 523.1,279.1 523.1,279.1 524.8,281.4Z" fill="#F8D763" stroke-width="0.95"/>
<path d="M479.8,396.7 478.7,396.8 475.8,399.3 475.2,402.1 478.1,404.1 480.4,406.9 484.1,405.0 484.3,402.3 483.7,399.6Z" fill="#F8D763" stroke-width="0.95"/>
<path d="M511.3,363.8 508.5,362.8 507.7,363.1 508.5,366.4 510.3,366.6 511.8,364.9Z" fill="#F8D763" stroke-width="0.95"/>
<path d="M505.2,390.4 503.9,391.2 503.9,394.9 506.3,395.9 506.5,395.0 506.7,393.6 507.5,392.5 508.1,391.6Z" fill="#F8D763" stroke-width="0.95"/>
<path d="M509.3,317.8 509.7,316.5 507.7,311.9 504.0,311.5 500.2,311.4 499.8,314.9 499.4,318.4 502.1,319.7 504.5,321.5 506.9,319.6Z" fill="#F8D763" stroke-width="0.95"/>
<path d="M501.5,382.1 503.7,380.5 502.4,377.4 500.2,377.8 499.2,379.5Z" fill="#F8D763" stroke-width="0.95"/>
<path d="M431.9,418.5 429.8,420.6 428.0,423.0 429.1,425.7 432.0,425.6 434.9,426.1 435.3,425.8 434.4,422.3 434.0,418.7 433.6,418.4Z" fill="#FBF8CC" stroke-width="0.95"/>
<path d="M478.7,361.0 476.0,360.0 473.1,359.8 470.3,359.2 470.5,362.1 469.6,364.9 469.2,367.7 472.0,369.2 475.8,368.3 479.6,367.8 480.8,365.0Z" fill="#FBF8CC" stroke-width="0.95"/>
<path d="M522.9,331.9 525.7,330.7 528.5,329.5 528.5,325.0 524.3,323.1 522.0,324.7 519.5,326.0 521.1,329.0Z" fill="#F8D763" stroke-width="0.95"/>
<path d="M502.4,350.5 502.4,345.6 500.2,344.1 497.8,345.7 495.9,348.1 493.3,349.4 495.4,351.5 497.2,353.8 499.7,353.4Z" fill="#FBF8CC" stroke-width="0.95"/>
<path d="M409.6,400.1 409.9,403.6 409.6,407.1 412.4,408.5 415.0,410.1 417.5,405.9 415.5,402.8 414.2,399.4Z" fill="#FBF8CC" stroke-width="0.95"/>
<path d="M456.7,366.8 454.1,368.3 454.6,371.1 454.3,374.1 455.2,376.9 458.8,378.1 462.4,379.4 465.0,378.1 465.4,375.0 466.9,372.2 467.1,369.1 464.4,368.9 461.8,368.4 459.2,367.9Z" fill="#FBF8CC" stroke-width="0.95"/>
<path d="M500.4,390.2 501.0,387.5 499.1,384.9 496.5,384.7 494.9,388.8 497.8,391.8Z" fill="#FAB000" stroke-width="0.95"/>
<path d="M517.9,362.7 518.5,360.1 514.6,359.2 513.5,359.8 513.6,361.0 515.3,362.9Z" fill="#F8D763" stroke-width="0.95"/>
<path d="M477.3,341.9 480.8,343.6 484.1,345.4 486.1,342.9 488.5,340.8 486.8,338.6 485.8,336.1 482.3,336.5 479.0,337.5Z" fill="#FBF8CC" stroke-width="0.95"/>
<path d="M495.3,333.2 495.7,332.9 497.1,329.1 495.2,326.4 492.9,324.0 491.4,321.1 490.5,320.9 489.4,323.6 487.9,325.9 485.9,328.0 487.4,332.3 490.0,332.9 492.6,333.1Z" fill="#F8D763" stroke-width="0.95"/>
<path d="M494.0,339.9 490.9,341.5 492.0,344.0 492.8,346.6 492.9,349.3 493.3,349.4 495.9,348.1 497.8,345.7 500.2,344.1 499.5,342.4 496.6,341.4Z" fill="#FBF8CC" stroke-width="0.95"/>
<path d="M426.8,380.5 424.1,381.7 421.9,383.8 419.2,384.9 419.7,387.5 419.5,390.2 422.2,390.5 424.9,391.0 427.5,391.9 430.2,392.0 431.9,389.6 433.8,387.4 431.1,385.5 429.5,382.5Z" fill="#F8D763" stroke-width="0.95"/>
<path d="M530.1,324.0 528.5,325.0 528.5,329.5 529.2,330.0 531.8,330.2 534.1,328.5 534.0,326.3Z" fill="#F8D763" stroke-width="0.95"/>
<path d="M415.0,317.6 416.9,315.1 419.3,313.1 422.1,311.6 424.1,309.2 422.2,306.6 420.9,303.7 419.3,300.9 418.0,298.0 415.2,298.0 412.4,298.1 409.6,297.9 409.1,300.7 409.4,303.4 409.1,306.2 409.5,309.0 409.5,311.8 409.9,314.5 409.6,317.3 412.3,317.3Z" fill="#F8D763" stroke-width="0.95"/>
<path d="M489.2,397.3 486.5,398.6 483.7,399.6 484.3,402.3 484.1,405.0 487.5,406.6 489.4,405.6 490.3,403.1 491.0,400.5Z" fill="#F8D763" stroke-width="0.95"/>
<path d="M488.5,340.8 490.9,341.5 494.0,339.9 494.3,336.5 495.3,333.2 492.6,333.1 490.0,332.9 487.4,332.3 485.8,336.1 486.8,338.6Z" fill="#F8D763" stroke-width="0.95"/>
<path d="M496.4,414.5 497.0,416.7 497.3,416.6 498.7,416.8 500.0,416.5 499.9,415.1 501.0,414.0 500.5,412.6 500.6,412.5 498.4,412.2Z" fill="#F8D763" stroke-width="0.95"/>
<path d="M513.5,359.8 514.6,359.2 516.6,355.0 513.7,353.1 511.3,354.7 512.8,359.4Z" fill="#F8D763" stroke-width="0.95"/>
<path d="M513.6,368.9 514.4,369.1 515.4,368.3 515.9,366.4 514.7,365.3 513.0,365.6 512.8,368.0Z" fill="#F8D763" stroke-width="0.95"/>
<path d="M520.8,350.8 518.6,352.7 516.8,355.0 518.6,356.5 522.1,356.3 522.5,355.4 520.8,350.9Z" fill="#F8D763" stroke-width="0.95"/>
<path d="M495.1,377.2 493.0,377.9 493.0,382.3 495.8,383.5 497.7,379.8Z" fill="#F8D763" stroke-width="0.95"/>
<path d="M487.9,409.6 486.6,411.9 484.9,413.9 486.2,416.5 490.8,416.1 492.4,413.3 492.1,412.4Z" fill="#FBF8CC" stroke-width="0.95"/>
<path d="M483.5,271.5 486.1,273.2 488.9,274.4 491.3,276.5 494.2,277.5 498.6,275.7 497.9,272.9 498.0,270.1 497.5,267.3 497.8,264.5 495.1,263.5 492.2,262.8 489.6,261.3 487.6,263.0 485.4,264.5 483.3,266.0 483.3,268.8Z" fill="#F8D763" stroke-width="0.95"/>
<path d="M496.7,363.1 498.4,361.3 497.5,358.7 496.3,356.2 493.9,357.3 491.5,358.3 489.1,359.3 491.8,361.6 494.6,363.7Z" fill="#F8D763" stroke-width="0.95"/>
<path d="M450.5,314.2 450.8,316.9 451.6,319.4 452.1,322.0 452.8,324.5 453.1,327.1 454.2,329.6 457.4,329.7 460.4,331.2 463.6,331.2 464.9,328.9 466.6,326.7 467.1,323.9 468.7,321.7 470.1,319.4 468.7,317.2 466.4,315.8 465.4,313.2 463.1,311.7 461.6,309.5 460.0,307.5 457.3,308.7 455.2,310.8 452.6,312.1Z" fill="#F8D763" stroke-width="0.95"/>
<path d="M426.8,377.9 424.0,375.9 421.7,373.5 418.9,371.5 416.8,373.5 415.4,376.0 416.2,379.2 416.6,382.4 419.2,384.9 421.9,383.8 424.1,381.7 426.8,380.5Z" fill="#F8D763" stroke-width="0.95"/>
<path d="M490.4,376.6 487.9,377.9 485.6,379.6 488.2,384.1 488.5,384.2 493.0,382.3 493.0,377.9Z" fill="#FBF8CC" stroke-width="0.95"/>
<path d="M496.5,384.7 495.8,383.5 493.0,382.3 488.5,384.2 490.3,386.6 491.7,389.2 494.9,388.8Z" fill="#FAB000" stroke-width="0.95"/>
<path d="M451.5,380.5 455.2,376.9 454.3,374.1 454.6,371.1 454.1,368.3 450.7,366.4 446.9,365.5 445.5,368.4 444.2,371.4 442.2,373.9 440.9,376.9 443.6,377.8 446.1,379.1 448.9,379.6Z" fill="#FBF8CC" stroke-width="0.95"/>
<path d="M463.1,404.8 466.8,402.4 466.3,398.5 463.7,397.9 461.1,397.1 459.0,398.9 459.7,401.5 459.8,404.1Z" fill="#FBF8CC" stroke-width="0.95"/>
<path d="M493.5,406.4 494.4,409.2 497.4,409.8 499.6,406.5 499.4,406.0 495.5,404.7Z" fill="#F8D763" stroke-width="0.95"/>
<path d="M534.0,303.1 533.5,305.1 534.1,305.5 535.5,305.0 534.6,303.8 534.8,303.1Z" fill="#F8D763" stroke-width="0.95"/>
<path d="M436.1,412.0 433.4,409.4 430.9,410.5 428.6,411.9 426.0,412.8 428.3,414.4 429.8,416.8 431.9,418.5 433.6,418.4 434.7,415.1Z" fill="#F8D763" stroke-width="0.95"/>
<path d="M504.3,279.1 503.3,276.8 498.6,275.7 494.2,277.5 492.7,280.6 491.8,284.0 490.9,287.3 492.6,289.5 495.2,289.5 497.8,290.2 500.4,290.3 503.0,290.5 503.5,287.7 503.9,284.8 504.5,282.0Z" fill="#F8D763" stroke-width="0.95"/>
<path d="M505.7,333.3 505.4,335.6 507.7,337.6 510.0,339.7 510.5,339.6 512.3,336.7 514.7,334.2 513.7,331.5 513.1,328.6 511.8,328.5 508.4,330.4Z" fill="#FBF8CC" stroke-width="0.95"/>
<path d="M523.5,316.5 521.2,315.1 519.6,315.1 517.9,317.6 517.5,320.6 516.0,323.1 516.7,325.4 519.5,326.0 522.0,324.7 524.3,323.1 524.5,318.1Z" fill="#FBF8CC" stroke-width="0.95"/>
<path d="M515.1,347.6 513.9,348.8 513.7,353.1 516.6,355.0 516.8,355.0 518.6,352.7 520.8,350.8 519.5,348.1Z" fill="#F8D763" stroke-width="0.95"/>
<path d="M501.8,366.9 499.6,368.1 499.3,368.7 502.5,371.6 503.6,371.0 504.5,367.8Z" fill="#FAB000" stroke-width="0.95"/>
<path d="M457.0,423.5 455.5,424.1 455.1,426.7 455.6,426.8 455.8,426.8 458.4,425.6 458.9,424.6Z" fill="#F8D763" stroke-width="0.95"/>
<path d="M454.1,403.9 452.0,406.9 454.0,409.6 458.0,407.3 458.4,405.3Z" fill="#F8D763" stroke-width="0.95"/>
<path d="M502.4,350.5 507.2,352.3 509.3,348.5 506.6,344.5 502.4,345.6Z" fill="#F8D763" stroke-width="0.95"/>
<path d="M446.7,402.5 447.6,400.9 447.3,396.2 445.3,394.3 443.1,392.7 441.8,395.6 439.3,397.6 438.0,400.4 438.6,402.3 442.4,402.4 446.1,402.9Z" fill="#F8D763" stroke-width="0.95"/>
<path d="M512.4,287.6 510.6,289.7 508.0,290.8 506.2,292.9 509.8,296.2 512.7,295.6 515.6,295.5 517.5,291.4 514.7,289.9Z" fill="#F8D763" stroke-width="0.95"/>
<path d="M485.9,328.0 487.9,325.9 489.4,323.6 490.5,320.9 488.1,317.3 485.5,316.5 482.8,316.0 480.1,315.5 477.6,317.5 475.2,319.6 476.5,322.2 477.6,324.8 478.7,327.5 482.3,327.4Z" fill="#F8D763" stroke-width="0.95"/>
<path d="M469.3,390.2 469.1,393.1 468.9,396.0 472.2,398.0 475.8,399.3 478.7,396.8 477.5,393.9 475.3,391.6 473.8,388.9 471.3,388.9Z" fill="#F8D763" stroke-width="0.95"/>
<path d="M453.6,415.3 449.8,413.3 449.2,414.3 449.4,416.1 451.3,417.4 452.5,417.2Z" fill="#F8D763" stroke-width="0.95"/>
<path d="M474.4,410.3 474.2,413.1 474.3,415.9 477.6,417.3 479.2,414.9 481.2,412.9 479.6,409.1 477.0,409.5Z" fill="#FBF8CC" stroke-width="0.95"/>
<path d="M484.8,348.8 489.3,350.8 492.9,349.3 492.8,346.6 492.0,344.0 490.9,341.5 488.5,340.8 486.1,342.9 484.1,345.4Z" fill="#FBF8CC" stroke-width="0.95"/>
<path d="M526.0,346.2 525.8,345.9 523.1,346.3 520.5,346.8 519.5,348.1 520.8,350.8 520.8,350.9 523.5,351.1 526.3,350.9Z" fill="#F8D763" stroke-width="0.95"/>
<path d="M525.8,336.7 529.4,339.7 532.3,336.2 532.2,336.0 529.6,334.6 525.8,336.4Z" fill="#F8D763" stroke-width="0.95"/>
<path d="M505.4,335.6 502.2,336.7 500.8,339.5 499.5,342.4 500.2,344.1 502.4,345.6 506.6,344.5 508.2,342.0 510.0,339.7 507.7,337.6Z" fill="#F8D763" stroke-width="0.95"/>
<path d="M434.4,430.1 435.3,429.8 436.4,430.7 437.5,430.0 438.9,429.8 439.1,429.6 438.4,426.9 436.8,425.8 435.3,425.8 434.9,426.1Z" fill="#F8D763" stroke-width="0.95"/>
<path d="M533.6,332.8 535.9,332.5 535.5,331.2 536.2,330.0 536.2,329.4 534.1,328.5 531.8,330.2Z" fill="#F8D763" stroke-width="0.95"/>
<path d="M459.6,215.2 460.0,212.5 460.5,209.8 461.6,207.3 462.3,204.7 459.6,203.7 456.8,202.9 453.9,202.7 451.1,202.0 448.8,205.2 449.9,208.0 451.2,210.6 452.5,213.3 453.6,216.0 458.5,216.1Z" fill="#F8D763" stroke-width="0.95"/>
<path d="M504.0,357.9 504.5,357.9 506.8,356.6 508.0,354.6 507.2,352.3 502.4,350.5 499.7,353.4 502.1,355.4Z" fill="#F8D763" stroke-width="0.95"/>
<path d="M494.9,388.8 491.7,389.2 489.2,393.2 489.9,395.4 493.1,395.4 496.4,395.3 497.8,393.3 497.8,391.8Z" fill="#F8D763" stroke-width="0.95"/>
<path d="M414.2,399.4 417.5,396.4 418.2,391.7 415.4,390.7 412.5,390.2 409.6,389.7 409.2,392.3 409.4,394.9 409.0,397.5 409.6,400.1Z" fill="#F8D763" stroke-width="0.95"/>
<path d="M489.6,261.3 489.4,258.4 489.8,255.7 490.6,252.9 488.1,251.0 485.4,249.7 482.9,247.8 479.6,247.8 476.5,248.8 474.7,251.1 472.9,253.4 470.5,255.1 470.6,256.0 472.9,257.4 475.1,259.0 476.9,261.1 478.9,262.8 481.3,264.2 483.3,266.0 485.4,264.5 487.6,263.0Z" fill="#F8D763" stroke-width="0.95"/>
<path d="M459.4,416.0 458.8,418.0 460.3,420.1 462.5,419.0 463.1,415.9Z" fill="#F8D763" stroke-width="0.95"/>
<path d="M501.7,398.8 504.3,400.4 504.6,400.1 505.5,398.9 505.3,397.4 506.2,396.3 506.3,395.9 503.9,394.9 502.3,395.6Z" fill="#F8D763" stroke-width="0.95"/>
<path d="M505.9,246.3 505.7,245.9 503.7,246.2 502.8,245.3 502.5,243.8 501.7,242.7 501.1,241.5 500.6,240.9 496.3,242.8 495.2,245.7 494.5,248.7 493.8,251.7 497.4,253.0 501.2,253.8 502.6,251.2 504.3,248.8Z" fill="#F8D763" stroke-width="0.95"/>
<path d="M485.6,379.6 484.1,378.9 481.3,381.1 478.6,383.5 478.3,385.9 480.9,387.2 483.2,388.9 485.5,386.2 488.2,384.1Z" fill="#F8D763" stroke-width="0.95"/>
<path d="M440.9,408.4 438.5,412.1 439.7,413.2 443.9,413.9 446.0,409.9 444.9,408.3Z" fill="#FBF8CC" stroke-width="0.95"/>
<path d="M436.8,425.8 438.4,426.9 442.4,426.0 442.7,424.0 439.7,421.8Z" fill="#FBF8CC" stroke-width="0.95"/>
<path d="M478.3,230.3 477.0,227.9 473.6,226.4 470.4,224.6 468.0,226.1 465.2,226.8 462.5,227.4 461.5,230.2 459.9,232.7 458.5,235.3 461.6,235.4 464.7,236.0 467.7,236.8 470.9,237.0 474.0,236.9 476.1,233.9 478.2,230.8Z" fill="#F8D763" stroke-width="0.95"/>
<path d="M499.2,379.5 500.2,377.8 498.5,374.8 496.2,375.2 495.1,377.2 497.7,379.8Z" fill="#F8D763" stroke-width="0.95"/>
<path d="M499.6,406.5 497.4,409.8 498.4,412.2 500.6,412.5 501.6,411.5 501.8,410.2 501.9,408.9 501.8,407.6Z" fill="#F8D763" stroke-width="0.95"/>
<path d="M446.9,167.8 447.2,165.1 445.4,162.8 443.0,161.1 441.8,158.3 439.4,156.6 438.1,159.0 436.0,160.9 435.3,163.7 433.4,165.8 431.9,168.1 434.3,169.4 436.3,171.2 439.1,170.4 442.1,170.0 445.0,169.9Z" fill="#F8D763" stroke-width="0.95"/>
<path d="M446.9,167.8 445.0,169.9 446.4,172.9 447.4,176.0 448.1,179.3 451.1,178.0 454.3,177.0 454.1,176.3 453.8,175.0 455.1,173.8 454.8,172.5 453.8,171.2 453.8,170.5 450.2,169.5Z" fill="#F8D763" stroke-width="0.95"/>
<path d="M523.5,277.0 521.7,274.9 519.9,272.8 517.4,274.3 515.0,275.8 516.5,279.0 519.8,279.1 523.1,279.1 523.3,278.7Z" fill="#F8D763" stroke-width="0.95"/>
<path d="M527.0,288.5 525.7,290.0 527.2,293.9 530.0,293.2 530.7,292.0 529.0,288.3Z" fill="#F8D763" stroke-width="0.95"/>
<path d="M447.3,420.9 446.4,420.5 444.2,421.9 444.0,423.1 446.7,424.0 447.1,423.7 447.6,422.9Z" fill="#F8D763" stroke-width="0.95"/>
<path d="M508.5,362.8 509.7,360.0 506.8,356.6 504.5,357.9 505.6,360.4 506.7,363.0 507.7,363.1Z" fill="#F8D763" stroke-width="0.95"/>
<path d="M454.6,423.7 455.5,424.1 457.0,423.5 456.7,422.0 455.2,421.5 454.4,422.4Z" fill="#F8D763" stroke-width="0.95"/>
<path d="M424.1,309.2 426.6,310.1 429.1,310.9 431.7,311.5 434.3,312.0 437.0,312.1 437.2,312.0 437.1,309.0 437.8,306.1 438.2,303.2 438.4,300.2 438.5,297.3 439.2,294.4 439.2,291.4 436.6,290.5 434.5,288.9 432.1,287.6 430.1,285.7 427.7,284.5 426.4,287.0 424.3,288.9 422.5,291.0 421.1,293.4 419.7,295.8 418.0,298.0 419.3,300.9 420.9,303.7 422.2,306.6Z" fill="#F8D763" stroke-width="0.95"/>
<path d="M523.1,279.1 519.8,279.1 516.5,279.0 515.5,282.7 518.0,284.4 520.8,285.5 521.0,285.4 521.8,282.2 523.1,279.1Z" fill="#F8D763" stroke-width="0.95"/>
<path d="M416.3,412.4 415.4,411.7 412.7,413.9 409.6,415.3 410.0,418.1 409.6,420.9 412.9,420.6 416.2,420.4 417.3,419.4 416.9,415.9Z" fill="#FBF8CC" stroke-width="0.95"/>
<path d="M491.0,400.5 490.3,403.1 489.4,405.6 493.5,406.4 495.5,404.7 495.2,401.1Z" fill="#F8D763" stroke-width="0.95"/>
<path d="M415.4,376.0 416.8,373.5 418.9,371.5 418.9,370.2 416.0,368.6 412.6,368.2 409.6,366.8 409.4,369.8 409.4,372.9 409.6,375.9 412.5,376.3Z" fill="#FBF8CC" stroke-width="0.95"/>
<path d="M495.1,377.2 496.2,375.2 494.3,372.1 490.4,372.6 490.4,376.6 493.0,377.9Z" fill="#F8D763" stroke-width="0.95"/>
<path d="M454.7,420.3 455.2,421.5 456.7,422.0 457.5,420.9 456.1,418.7 455.1,419.2Z" fill="#F8D763" stroke-width="0.95"/>
<path d="M508.3,379.9 505.6,380.3 505.3,380.6 506.3,383.8 506.4,383.9 509.9,382.5 510.0,381.8Z" fill="#F8D763" stroke-width="0.95"/>
<path d="M442.4,426.0 438.4,426.9 439.1,429.6 439.8,428.8 441.1,428.5 441.7,427.1 442.5,426.1Z" fill="#FBF8CC" stroke-width="0.95"/>
<path d="M438.5,412.1 436.1,412.0 434.7,415.1 433.6,418.4 434.0,418.7 436.6,419.5 439.4,419.5 439.9,419.1 439.6,416.2 439.7,413.2Z" fill="#FBF8CC" stroke-width="0.95"/>
<path d="M494.3,372.1 495.8,369.8 493.4,366.7 488.6,368.3 488.2,370.2 490.4,372.6Z" fill="#F8D763" stroke-width="0.95"/>
<path d="M533.6,332.8 532.2,336.0 532.3,336.2 534.0,337.2 534.6,336.2 535.5,335.1 534.9,333.6 535.9,332.6 535.9,332.5Z" fill="#F8D763" stroke-width="0.95"/>
<path d="M475.2,375.7 473.4,372.6 472.0,369.2 469.2,367.7 467.1,369.1 466.9,372.2 465.4,375.0 465.0,378.1 469.5,380.0 473.9,378.4Z" fill="#F8D763" stroke-width="0.95"/>
<path d="M468.2,410.3 468.0,411.7 469.4,414.5 471.4,416.9 474.3,415.9 474.2,413.1 474.4,410.3 470.8,407.8Z" fill="#F8D763" stroke-width="0.95"/>
<path d="M529.5,304.2 529.6,301.4 529.3,301.1 526.8,302.0 524.3,302.7 525.0,304.5 528.5,305.1Z" fill="#F8D763" stroke-width="0.95"/>
<path d="M508.3,375.3 508.8,373.2 507.9,372.8 506.4,373.5 507.6,375.7Z" fill="#F8D763" stroke-width="0.95"/>
<path d="M459.9,424.2 460.6,423.1 460.1,420.6 457.5,420.9 456.7,422.0 457.0,423.5 458.9,424.6Z" fill="#F8D763" stroke-width="0.95"/>
<path d="M458.0,407.3 454.0,409.6 454.0,410.2 455.0,411.9 458.5,412.5 460.4,410.9Z" fill="#F8D763" stroke-width="0.95"/>
<path d="M535.9,311.8 536.1,311.2 535.9,310.0 535.8,308.7 535.2,307.6 534.3,307.7 533.1,308.9 533.0,310.0 534.8,311.8Z" fill="#F8D763" stroke-width="0.95"/>
<path d="M428.0,423.0 429.8,420.6 431.9,418.5 429.8,416.8 428.3,414.4 426.0,412.8 425.6,412.7 423.7,415.9 422.7,419.5 424.1,421.7Z" fill="#FBF8CC" stroke-width="0.95"/>
<path d="M475.9,331.9 473.2,332.4 470.4,332.4 467.7,332.2 465.0,332.7 466.0,335.9 466.3,339.2 466.9,342.4 469.9,343.8 473.1,344.7 477.3,341.9 479.0,337.5 477.6,334.6Z" fill="#F8D763" stroke-width="0.95"/>
<path d="M511.1,373.7 511.4,373.0 511.1,372.2 510.2,371.8 508.9,373.2 510.2,374.3Z" fill="#F8D763" stroke-width="0.95"/>
<path d="M440.3,377.1 438.1,375.2 435.6,373.8 433.0,372.4 431.1,374.5 429.0,376.2 426.8,377.9 426.8,380.5 429.5,382.5 431.1,385.5 433.8,387.4 437.0,386.5 437.9,383.3 439.4,380.3Z" fill="#FBF8CC" stroke-width="0.95"/>
<path d="M533.4,320.9 537.4,324.0 537.6,323.4 537.5,322.0 536.8,320.7 537.2,319.2 536.4,317.9 536.3,317.7 536.2,317.7Z" fill="#F8D763" stroke-width="0.95"/>
<path d="M434.0,418.7 434.4,422.3 435.3,425.8 436.8,425.8 439.7,421.8 439.4,419.5 436.6,419.5Z" fill="#FBF8CC" stroke-width="0.95"/>
<path d="M451.0,406.9 452.0,406.9 454.1,403.9 453.3,401.6 450.5,401.1 447.6,400.9 446.7,402.5 448.9,404.6Z" fill="#F8D763" stroke-width="0.95"/>
<path d="M501.5,382.7 504.1,384.9 506.3,383.8 505.3,380.6 503.7,380.5 501.5,382.1Z" fill="#F8D763" stroke-width="0.95"/>
<path d="M513.6,361.0 513.5,359.8 512.8,359.4 509.7,360.0 508.5,362.8 511.3,363.8Z" fill="#F7713F" stroke-width="0.95"/>
<path d="M531.6,307.1 533.1,308.9 534.3,307.7 534.1,305.5 533.5,305.1 531.9,305.3Z" fill="#F8D763" stroke-width="0.95"/>
<path d="M487.5,406.6 487.9,409.6 492.1,412.4 494.4,409.2 493.5,406.4 489.4,405.6Z" fill="#FBF8CC" stroke-width="0.95"/>
<path d="M525.0,304.5 524.0,308.2 524.2,308.6 527.7,309.9 529.2,307.4 528.5,305.1Z" fill="#F8D763" stroke-width="0.95"/>
<path d="M506.6,344.5 509.3,348.5 513.9,348.8 515.1,347.6 514.6,344.8 513.8,342.0 510.5,339.6 510.0,339.7 508.2,342.0Z" fill="#F8D763" stroke-width="0.95"/>
<path d="M416.6,382.4 416.2,379.2 415.4,376.0 412.5,376.3 409.6,375.9 409.5,378.8 409.7,381.7 409.6,384.6 413.2,383.9Z" fill="#F8D763" stroke-width="0.95"/>
<path d="M458.4,425.6 459.1,428.1 461.4,428.4 462.2,426.7 459.9,424.2 458.9,424.6Z" fill="#F8D763" stroke-width="0.95"/>
<path d="M514.7,365.3 515.3,362.9 513.6,361.0 511.3,363.8 511.8,364.9 513.0,365.6Z" fill="#F8D763" stroke-width="0.95"/>
<path d="M502.5,377.3 502.3,373.8 502.1,373.5 499.1,374.0 498.5,374.8 500.2,377.8 502.4,377.4Z" fill="#F8D763" stroke-width="0.95"/>
<path d="M508.8,373.2 508.9,373.2 510.2,371.8 510.0,371.2 508.3,370.3 507.5,370.6 507.9,372.8Z" fill="#F8D763" stroke-width="0.95"/>
<path d="M522.1,297.8 522.9,295.1 521.2,293.0 520.1,290.5 517.5,291.4 515.6,295.5 517.3,298.3Z" fill="#F8D763" stroke-width="0.95"/>
<path d="M474.4,410.3 477.0,409.5 479.6,409.1 480.4,406.9 478.1,404.1 475.2,402.1 473.3,404.2 470.9,405.6 470.8,407.8Z" fill="#F8D763" stroke-width="0.95"/>
<path d="M516.6,310.5 513.6,308.1 510.1,306.4 508.7,309.1 507.7,311.9 509.7,316.5 511.9,314.9 514.6,314.4 517.1,313.3Z" fill="#F8D763" stroke-width="0.95"/>
<path d="M510.0,371.2 510.2,371.8 511.1,372.2 512.4,371.4 512.3,370.1 511.0,369.8Z" fill="#F8D763" stroke-width="0.95"/>
<path d="M500.4,403.6 499.4,406.0 499.6,406.5 501.8,407.6 501.8,407.5 501.8,406.2 502.5,405.0 503.2,403.8 503.8,402.8Z" fill="#F8D763" stroke-width="0.95"/>
<path d="M520.3,360.1 522.7,358.2 522.1,356.3 518.6,356.5 518.7,360.0Z" fill="#F8D763" stroke-width="0.95"/>
<path d="M531.6,304.9 532.3,303.1 530.4,301.4 529.6,301.4 529.5,304.2Z" fill="#F8D763" stroke-width="0.95"/>
<path d="M507.5,370.6 506.8,370.6 505.4,371.8 505.8,373.4 506.4,373.5 507.9,372.8Z" fill="#F8D763" stroke-width="0.95"/>
<path d="M504.6,322.9 503.4,325.4 501.9,327.8 503.7,330.6 505.7,333.3 508.4,330.4 511.8,328.5 509.0,327.1 507.1,324.6Z" fill="#FBF8CC" stroke-width="0.95"/>
<path d="M533.0,310.0 533.1,308.9 531.6,307.1 529.2,307.4 527.7,309.9 528.7,311.5Z" fill="#F8D763" stroke-width="0.95"/>
<path d="M522.7,358.2 520.3,360.1 521.4,361.9 522.0,361.5 522.4,360.2 523.2,359.3 523.6,358.8Z" fill="#F8D763" stroke-width="0.95"/>
<path d="M530.3,282.8 531.2,283.1 531.5,282.4 531.0,281.2 530.4,280.0 531.0,278.6 530.0,277.5 529.4,277.0 528.4,278.8Z" fill="#F8D763" stroke-width="0.95"/>
<path d="M521.0,285.4 525.3,285.4 526.9,283.2 524.8,281.4 523.1,279.1 521.8,282.2Z" fill="#F8D763" stroke-width="0.95"/>
<path d="M510.0,375.4 510.1,375.3 510.2,374.3 508.9,373.2 508.8,373.2 508.3,375.3Z" fill="#F8D763" stroke-width="0.95"/>
<path d="M455.7,416.1 458.4,414.7 458.5,412.5 455.0,411.9 453.9,415.1Z" fill="#F8D763" stroke-width="0.95"/>
<path d="M442.5,418.8 439.9,419.1 439.4,419.5 439.7,421.8 442.7,424.0 444.0,423.1 444.2,421.9Z" fill="#FBF8CC" stroke-width="0.95"/>
<path d="M456.1,418.7 456.4,418.2 455.7,416.1 453.9,415.1 453.6,415.3 452.5,417.2 453.0,418.1 455.1,419.2Z" fill="#F8D763" stroke-width="0.95"/>
<path d="M528.7,311.5 527.7,309.9 524.2,308.6 523.1,312.0 521.2,315.1 523.5,316.5 526.4,314.8 528.7,312.3Z" fill="#FBF8CC" stroke-width="0.95"/>
<path d="M510.8,368.1 510.3,366.6 508.5,366.4 507.7,367.4 508.6,369.0 510.5,368.6Z" fill="#F8D763" stroke-width="0.95"/>
<path d="M507.9,386.9 505.4,388.5 505.2,390.4 508.1,391.6 508.2,391.4 508.0,390.0 508.2,388.7 508.1,387.4 508.4,387.1Z" fill="#F8D763" stroke-width="0.95"/>
<path d="M485.8,336.1 487.4,332.3 485.9,328.0 482.3,327.4 478.7,327.5 477.1,329.5 475.9,331.9 477.6,334.6 479.0,337.5 482.3,336.5Z" fill="#F8D763" stroke-width="0.95"/>
<path d="M499.1,384.9 501.5,382.7 501.5,382.1 499.2,379.5 497.7,379.8 495.8,383.5 496.5,384.7Z" fill="#F8D763" stroke-width="0.95"/>
<path d="M480.8,365.0 479.6,367.8 481.4,370.3 482.4,373.2 485.3,371.8 488.2,370.2 488.6,368.3 486.6,364.5 483.7,365.1Z" fill="#F8D763" stroke-width="0.95"/>
<path d="M445.0,169.9 442.1,170.0 439.1,170.4 436.3,171.2 436.7,173.8 437.0,176.4 437.3,179.0 438.2,181.5 441.4,180.8 444.7,180.3 447.9,179.7 448.1,179.3 447.4,176.0 446.4,172.9Z" fill="#F8D763" stroke-width="0.95"/>
<path d="M447.8,410.2 449.8,412.3 454.0,410.2 454.0,409.6 452.0,406.9 451.0,406.9Z" fill="#F8D763" stroke-width="0.95"/>
<path d="M525.8,345.9 525.8,342.7 523.2,340.5 520.6,340.8 520.6,343.8 520.5,346.8 523.1,346.3Z" fill="#FBF8CC" stroke-width="0.95"/>
<path d="M484.1,378.9 482.0,374.3 478.5,374.6 475.2,375.7 473.9,378.4 476.2,381.0 478.6,383.5 481.3,381.1Z" fill="#F8D763" stroke-width="0.95"/>
<path d="M512.4,371.4 513.1,371.7 514.8,370.6 514.4,369.1 513.6,368.9 512.3,370.1Z" fill="#F8D763" stroke-width="0.95"/>
<path d="M510.3,377.1 512.1,376.4 511.6,375.3 510.1,375.3 510.0,375.4Z" fill="#F8D763" stroke-width="0.95"/>
<path d="M448.0,417.7 446.6,417.5 445.6,418.6 446.4,420.5 447.3,420.9 448.1,420.4 448.6,418.6Z" fill="#F8D763" stroke-width="0.95"/>
<path d="M468.0,411.7 465.9,413.3 464.0,415.2 467.5,418.1 471.2,417.2 471.4,416.9 469.4,414.5Z" fill="#F8D763" stroke-width="0.95"/>
<path d="M429.1,425.7 428.0,423.0 424.1,421.7 422.8,424.2 421.4,426.6 422.5,427.3 423.8,426.6 425.0,426.8 426.1,427.6 427.6,427.4 428.5,427.4Z" fill="#FBF8CC" stroke-width="0.95"/>
<path d="M502.1,363.4 500.5,361.4 498.4,361.3 496.7,363.1 498.1,365.6 499.6,368.1 501.8,366.9Z" fill="#F8D763" stroke-width="0.95"/>
<path d="M510.0,377.6 508.7,378.0 508.3,379.9 510.0,381.8 510.1,381.3 510.0,380.0 510.6,378.8 511.0,378.4Z" fill="#F8D763" stroke-width="0.95"/>
<path d="M439.4,156.6 441.8,158.3 443.0,161.1 445.4,162.8 447.2,165.1 449.9,163.5 452.1,161.2 452.0,160.4 450.7,160.0 449.0,160.3 448.5,158.6 447.3,158.0 445.6,158.2 444.7,157.3 443.8,156.2 442.2,156.0 441.0,155.3 439.9,154.2 439.5,153.5Z" fill="#F8D763" stroke-width="0.95"/>
<path d="M497.8,393.3 502.3,395.6 503.9,394.9 503.9,391.2 500.4,390.2 497.8,391.8Z" fill="#FAB000" stroke-width="0.95"/>
<path d="M458.0,407.3 460.4,410.9 461.0,411.0 463.8,408.8 463.1,404.8 459.8,404.1 458.4,405.3Z" fill="#F8D763" stroke-width="0.95"/>
<path d="M491.9,417.9 492.0,417.9 493.2,417.0 494.7,417.3 496.0,417.0 497.0,416.7 496.4,414.5 492.4,413.3 490.8,416.1Z" fill="#FBF8CC" stroke-width="0.95"/>
<path d="M507.7,367.4 508.5,366.4 507.7,363.1 506.7,363.0 505.9,363.6 504.9,367.7 504.9,367.7Z" fill="#F7713F" stroke-width="0.95"/>
<path d="M519.0,307.1 524.0,308.2 525.0,304.5 524.3,302.7 523.8,302.2 521.1,302.7 518.5,303.6Z" fill="#F8D763" stroke-width="0.95"/>
<path d="M460.6,423.1 463.2,423.1 465.9,423.0 465.8,421.7 462.5,419.0 460.3,420.1 460.1,420.6Z" fill="#F8D763" stroke-width="0.95"/>
<path d="M438.6,402.3 438.5,402.6 439.3,405.7 440.9,408.4 444.9,408.3 445.5,405.6 446.1,402.9 442.4,402.4Z" fill="#FBF8CC" stroke-width="0.95"/>
<path d="M517.3,298.3 515.6,295.5 512.7,295.6 509.8,296.2 510.3,298.9 510.1,301.6 510.0,304.3 513.2,302.9 516.6,302.2Z" fill="#F8D763" stroke-width="0.95"/>
<path d="M461.1,397.1 460.5,393.4 460.0,389.6 455.2,389.5 453.8,391.9 452.7,394.5 455.7,398.6 459.0,398.9Z" fill="#FBF8CC" stroke-width="0.95"/>
<path d="M445.8,415.1 444.0,414.0 442.9,418.5 445.6,418.6 446.6,417.5Z" fill="#F8D763" stroke-width="0.95"/>
<path d="M512.8,368.0 513.0,365.6 511.8,364.9 510.3,366.6 510.8,368.1Z" fill="#F8D763" stroke-width="0.95"/>
<path d="M531.3,342.5 529.7,346.2 530.9,347.8 531.0,347.2 532.1,346.3 532.5,345.0 533.2,343.9 532.9,342.5Z" fill="#F8D763" stroke-width="0.95"/>
<path d="M496.4,395.3 497.3,399.4 498.8,399.9 501.7,398.8 502.3,395.6 497.8,393.3Z" fill="#F8D763" stroke-width="0.95"/>
<path d="M515.4,368.3 514.4,369.1 514.8,370.6 515.5,371.3 515.8,371.1 516.5,370.0 516.9,369.1Z" fill="#F8D763" stroke-width="0.95"/>
<path d="M529.7,346.2 526.0,346.2 526.3,350.9 527.8,352.3 528.0,351.6 529.2,350.7 529.8,349.5 530.7,348.6 530.9,347.8Z" fill="#F8D763" stroke-width="0.95"/>
<path d="M529.3,301.1 529.6,301.4 530.4,301.4 532.9,300.2 532.8,296.6 532.7,296.6 528.9,298.4Z" fill="#F8D763" stroke-width="0.95"/>
<path d="M529.6,334.6 532.2,336.0 533.6,332.8 531.8,330.2 529.2,330.0Z" fill="#F8D763" stroke-width="0.95"/>
<path d="M534.1,328.5 536.2,329.4 536.1,328.6 537.0,327.4 537.0,326.0 537.2,324.7 537.4,324.0 534.0,326.3Z" fill="#F8D763" stroke-width="0.95"/>
<path d="M508.6,369.0 508.3,370.3 510.0,371.2 511.0,369.8 510.5,368.6Z" fill="#F8D763" stroke-width="0.95"/>
<path d="M515.9,366.4 515.4,368.3 516.9,369.1 517.0,368.8 517.5,367.5 518.5,366.7 518.9,365.9Z" fill="#F8D763" stroke-width="0.95"/>
<path d="M465.1,425.9 462.2,426.7 461.4,428.4 462.1,430.2 462.4,430.6 463.3,431.6 464.1,430.2 465.4,429.4 466.2,429.2Z" fill="#F8D763" stroke-width="0.95"/>
<path d="M530.0,318.1 531.7,321.2 533.4,320.9 536.2,317.7 533.1,315.1 531.2,315.6Z" fill="#FBF8CC" stroke-width="0.95"/>
<path d="M502.1,373.5 502.5,371.6 499.3,368.7 498.2,369.5 499.1,374.0Z" fill="#FAB000" stroke-width="0.95"/>
<path d="M453.0,418.1 452.5,417.2 451.3,417.4 450.4,418.8 450.6,419.7 452.3,420.0Z" fill="#F8D763" stroke-width="0.95"/>
<path d="M511.4,373.0 512.8,373.5 513.6,372.8 513.1,371.7 512.4,371.4 511.1,372.2Z" fill="#F8D763" stroke-width="0.95"/>
<path d="M518.5,360.1 518.7,360.0 518.6,356.5 516.8,355.0 516.6,355.0 514.6,359.2Z" fill="#F8D763" stroke-width="0.95"/>
<path d="M511.0,369.8 512.3,370.1 513.6,368.9 512.8,368.0 510.8,368.1 510.5,368.6Z" fill="#F8D763" stroke-width="0.95"/>
<path d="M415.4,411.7 415.0,410.1 412.4,408.5 409.6,407.1 409.0,409.8 410.1,412.6 409.6,415.3 412.7,413.9Z" fill="#FBF8CC" stroke-width="0.95"/>
<path d="M530.1,324.0 534.0,326.3 537.4,324.0 537.4,324.0 533.4,320.9 531.7,321.2Z" fill="#FBF8CC" stroke-width="0.95"/>
<path d="M466.2,423.4 465.1,425.9 466.2,429.2 467.0,429.0 468.0,427.8 469.0,426.9 469.9,426.0 470.7,425.0 471.1,424.1Z" fill="#F8D763" stroke-width="0.95"/>
<path d="M502.2,336.7 498.8,335.1 495.7,332.9 495.3,333.2 494.3,336.5 494.0,339.9 496.6,341.4 499.5,342.4 500.8,339.5Z" fill="#F8D763" stroke-width="0.95"/>
<path d="M495.5,404.7 499.4,406.0 500.4,403.6 498.8,399.9 497.3,399.4 495.2,401.1Z" fill="#F8D763" stroke-width="0.95"/>
<path d="M512.1,376.4 510.3,377.1 510.0,377.6 511.0,378.4 511.6,377.9 512.3,376.8 512.6,376.6Z" fill="#F8D763" stroke-width="0.95"/>
<path d="M506.3,383.8 504.1,384.9 503.7,386.6 505.4,388.5 507.9,386.9 506.4,383.9Z" fill="#F8D763" stroke-width="0.95"/>
<path d="M485.2,419.8 485.6,419.9 486.9,419.5 488.2,419.2 489.6,419.4 490.8,418.5 491.9,417.9 490.8,416.1 486.2,416.5Z" fill="#F8D763" stroke-width="0.95"/>
<path d="M520.8,285.5 520.2,290.4 523.0,290.4 525.7,290.0 527.0,288.5 525.3,285.4 521.0,285.4Z" fill="#F8D763" stroke-width="0.95"/>
<path d="M453.9,424.0 452.8,423.4 451.9,424.1 452.2,424.6 453.1,425.6 453.1,425.6Z" fill="#F8D763" stroke-width="0.95"/>
<path d="M529.4,339.7 525.8,336.7 523.2,340.5 525.8,342.7 529.6,341.2Z" fill="#F8D763" stroke-width="0.95"/>
<path d="M506.4,373.5 505.8,373.4 504.7,374.2 505.3,376.7 505.7,376.9 507.3,376.6 507.6,375.7Z" fill="#F8D763" stroke-width="0.95"/>
<path d="M504.7,374.2 502.3,373.8 502.5,377.3 505.3,376.7Z" fill="#F8D763" stroke-width="0.95"/>
<path d="M438.0,400.4 435.5,399.2 433.1,397.5 430.4,396.7 429.0,399.3 427.0,401.4 429.3,403.2 431.4,405.1 433.4,407.2 435.9,404.8 438.5,402.6 438.6,402.3Z" fill="#FBF8CC" stroke-width="0.95"/>
<path d="M505.7,376.9 505.3,376.7 502.5,377.3 502.4,377.4 503.7,380.5 505.3,380.6 505.6,380.3Z" fill="#FAB000" stroke-width="0.95"/>
<path d="M417.5,396.4 414.2,399.4 415.5,402.8 417.5,405.9 420.7,406.0 423.9,405.6 426.0,401.8 423.5,399.5 420.1,398.6Z" fill="#FBF8CC" stroke-width="0.95"/>
<path d="M453.1,422.1 454.4,422.4 455.2,421.5 454.7,420.3 452.9,420.7Z" fill="#F8D763" stroke-width="0.95"/>
<path d="M522.5,355.4 522.1,356.3 522.7,358.2 523.6,358.8 523.9,358.3 525.0,357.5 525.4,356.2 526.0,355.0 526.4,354.5Z" fill="#F8D763" stroke-width="0.95"/>
<path d="M513.8,342.0 516.9,341.5 519.8,340.3 518.9,335.3 514.7,334.2 512.3,336.7 510.5,339.6Z" fill="#FBF8CC" stroke-width="0.95"/>
<path d="M451.3,417.4 449.4,416.1 448.0,417.7 448.6,418.6 450.4,418.8Z" fill="#F8D763" stroke-width="0.95"/>
<path d="M512.9,374.4 511.8,374.8 511.6,375.3 512.1,376.4 512.6,376.6 513.5,375.9 513.4,374.9Z" fill="#F8D763" stroke-width="0.95"/>
<path d="M503.7,386.6 504.1,384.9 501.5,382.7 499.1,384.9 501.0,387.5Z" fill="#F8D763" stroke-width="0.95"/>
<path d="M462.5,419.0 465.8,421.7 467.5,418.1 464.0,415.2 463.9,415.2 463.1,415.9Z" fill="#F8D763" stroke-width="0.95"/>
<path d="M504.5,357.9 504.0,357.9 500.5,361.4 502.1,363.4 505.9,363.6 506.7,363.0 505.6,360.4Z" fill="#F8D763" stroke-width="0.95"/>
<path d="M529.0,288.3 530.7,292.0 532.3,291.5 532.2,291.4 532.5,290.0 532.4,288.7 531.5,287.6 531.2,286.4 532.9,284.7 532.8,284.7 530.6,286.2Z" fill="#F8D763" stroke-width="0.95"/>
<path d="M416.3,343.2 415.9,340.1 416.8,336.9 416.4,333.8 413.1,332.7 409.6,332.6 409.3,335.6 409.4,338.6 409.6,341.5 409.6,344.5 412.9,343.4Z" fill="#F8D763" stroke-width="0.95"/>
<path d="M456.1,418.7 457.5,420.9 460.1,420.6 460.3,420.1 458.8,418.0 456.4,418.2Z" fill="#F8D763" stroke-width="0.95"/>
<path d="M491.7,389.2 490.3,386.6 488.5,384.2 488.2,384.1 485.5,386.2 483.2,388.9 483.7,390.8 486.3,392.3 489.2,393.2Z" fill="#FAB000" stroke-width="0.95"/>
<path d="M509.7,360.0 512.8,359.4 511.3,354.7 508.0,354.6 506.8,356.6Z" fill="#F8D763" stroke-width="0.95"/>
<path d="M533.3,300.6 532.9,300.2 530.4,301.4 532.3,303.1 533.3,302.8Z" fill="#F8D763" stroke-width="0.95"/>
<path d="M510.1,375.3 511.6,375.3 511.8,374.8 511.1,373.7 510.2,374.3Z" fill="#F8D763" stroke-width="0.95"/>
<path d="M451.1,421.6 451.5,422.3 452.8,422.4 453.1,422.1 452.9,420.7 452.6,420.6Z" fill="#F8D763" stroke-width="0.95"/>
<path d="M534.8,311.8 533.1,315.1 536.2,317.7 536.3,317.7 536.0,316.5 536.2,315.0 535.6,313.8 535.7,312.5 535.9,311.8Z" fill="#F8D763" stroke-width="0.95"/>
<path d="M455.5,424.1 454.6,423.7 453.9,424.0 453.1,425.6 454.2,426.5 455.1,426.7Z" fill="#F8D763" stroke-width="0.95"/>
<path d="M452.9,420.7 454.7,420.3 455.1,419.2 453.0,418.1 452.3,420.0 452.6,420.6Z" fill="#F8D763" stroke-width="0.95"/>
<path d="M448.1,420.4 447.3,420.9 447.6,422.9 447.8,422.5 449.0,422.0 449.6,422.5 450.1,421.3 449.9,421.0Z" fill="#F8D763" stroke-width="0.95"/>
<path d="M534.0,303.1 534.8,303.1 535.0,302.5 534.5,301.3 534.5,300.7 533.3,300.6 533.3,302.8Z" fill="#F8D763" stroke-width="0.95"/>
<path d="M424.1,421.7 422.7,419.5 420.0,419.3 417.3,419.4 416.2,420.4 417.1,423.7 417.7,427.0 418.7,426.7 420.0,426.8 421.2,426.5 421.4,426.6 422.8,424.2Z" fill="#FBF8CC" stroke-width="0.95"/>
<path d="M504.9,367.7 504.9,367.7 504.5,367.8 503.6,371.0 505.4,371.8 506.8,370.6Z" fill="#FAB000" stroke-width="0.95"/>
<path d="M459.8,404.1 459.7,401.5 459.0,398.9 455.7,398.6 453.3,401.6 454.1,403.9 458.4,405.3Z" fill="#F8D763" stroke-width="0.95"/>
<path d="M453.9,415.1 455.0,411.9 454.0,410.2 449.8,412.3 449.8,413.3 453.6,415.3Z" fill="#F8D763" stroke-width="0.95"/>
<path d="M448.1,179.3 447.9,179.7 448.8,183.0 449.9,186.3 453.7,186.6 457.5,186.3 457.5,186.3 457.4,184.9 456.8,183.7 457.1,182.2 454.6,181.7 454.9,180.2 455.6,178.6 454.5,177.5 454.3,177.0 451.1,178.0Z" fill="#F8D763" stroke-width="0.95"/>
<path d="M452.3,420.0 450.6,419.7 449.9,421.0 450.1,421.3 451.1,421.6 452.6,420.6Z" fill="#F8D763" stroke-width="0.95"/>
<path d="M449.2,414.3 445.8,415.1 446.6,417.5 448.0,417.7 449.4,416.1Z" fill="#F8D763" stroke-width="0.95"/>
<path d="M488.0,239.3 490.6,240.9 493.5,241.8 496.3,242.8 500.6,240.9 500.3,240.4 499.2,239.5 498.1,238.8 496.7,238.3 496.1,237.0 495.0,236.2 494.3,235.1 493.1,234.3 492.8,232.9 493.0,231.9 491.2,234.0 490.1,236.7 488.0,238.6Z" fill="#F8D763" stroke-width="0.95"/>
<path d="M456.4,418.2 458.8,418.0 459.4,416.0 458.4,414.7 455.7,416.1Z" fill="#F8D763" stroke-width="0.95"/>
<path d="M523.7,299.9 527.7,297.7 526.8,294.5 522.9,295.1 522.1,297.8Z" fill="#F8D763" stroke-width="0.95"/>
<path d="M452.8,422.4 452.8,423.4 453.9,424.0 454.6,423.7 454.4,422.4 453.1,422.1Z" fill="#F8D763" stroke-width="0.95"/>
<path d="M532.8,296.6 532.9,300.2 533.3,300.6 534.5,300.7 534.4,300.0 535.6,298.5 534.7,297.4 533.9,296.3Z" fill="#F8D763" stroke-width="0.95"/>
<path d="M505.0,292.7 506.2,292.9 508.0,290.8 510.6,289.7 512.4,287.6 512.4,284.7 509.4,283.3 507.3,280.6 504.3,279.1 504.5,282.0 503.9,284.8 503.5,287.7 503.0,290.5Z" fill="#F8D763" stroke-width="0.95"/>
<path d="M461.4,428.4 459.1,428.1 458.6,428.6 459.0,428.6 459.5,430.3 461.5,429.5 462.1,430.2Z" fill="#F8D763" stroke-width="0.95"/>
<path d="M450.4,418.8 448.6,418.6 448.1,420.4 449.9,421.0 450.6,419.7Z" fill="#F8D763" stroke-width="0.95"/>
<path d="M459.1,428.1 458.4,425.6 455.8,426.8 456.9,427.1 457.6,428.6 458.6,428.6Z" fill="#F8D763" stroke-width="0.95"/>
<path d="M534.1,305.5 534.3,307.7 535.2,307.6 535.2,307.5 535.8,306.2 535.5,305.0 535.5,305.0Z" fill="#F8D763" stroke-width="0.95"/>
<path d="M442.9,418.5 442.5,418.8 444.2,421.9 446.4,420.5 445.6,418.6Z" fill="#F8D763" stroke-width="0.95"/>
<path d="M450.1,421.3 449.6,422.5 450.1,422.8 451.3,423.1 451.5,422.3 451.1,421.6Z" fill="#F8D763" stroke-width="0.95"/>
<path d="M395.0,391.1 391.6,390.4 390.8,391.2 390.5,392.4 393.0,395.2 393.4,395.0Z" fill="#FBF8CC" stroke-width="0.95"/>
<path d="M392.2,362.6 392.1,361.6 388.1,360.8 387.9,358.1 387.6,355.3 383.9,355.9 382.8,358.5 384.9,362.5 387.7,362.8 390.4,363.3Z" fill="#FBF8CC" stroke-width="0.95"/>
<path d="M384.0,374.9 384.4,374.9 387.8,371.2 387.3,370.0 383.4,368.4 380.4,370.8 380.5,371.7Z" fill="#F8D763" stroke-width="0.95"/>
<path d="M353.8,375.9 355.5,373.2 354.2,369.9 351.7,368.8 349.1,368.1 346.6,369.9 344.7,372.3 344.8,372.5 345.8,373.6 346.9,374.6 347.1,376.1 347.4,376.4 350.6,376.6Z" fill="#FBF8CC" stroke-width="0.95"/>
<path d="M398.8,395.6 402.4,396.2 404.0,392.5 401.9,390.0 397.8,390.4 397.6,390.6Z" fill="#FBF8CC" stroke-width="0.95"/>
<path d="M384.9,362.5 382.9,365.1 383.4,368.4 387.3,370.0 389.1,366.8 390.4,363.3 387.7,362.8Z" fill="#FBF8CC" stroke-width="0.95"/>
<path d="M398.3,395.8 393.4,395.0 393.0,395.2 392.3,396.6 392.6,397.3 393.7,398.3 394.4,399.6 395.3,400.8 395.6,401.8 397.4,399.0Z" fill="#FBF8CC" stroke-width="0.95"/>
<path d="M396.7,381.9 399.4,380.6 399.4,377.8 395.3,376.8 394.5,376.0 393.7,376.6 393.7,378.4Z" fill="#FBF8CC" stroke-width="0.95"/>
<path d="M390.5,392.4 390.8,391.2 388.7,389.7 387.4,390.6 387.6,391.6 388.1,392.8 387.7,393.4Z" fill="#F8D763" stroke-width="0.95"/>
<path d="M404.0,392.5 402.4,396.2 403.4,398.0 406.5,397.6 409.6,398.0 409.6,394.2 409.6,390.4 406.7,391.3Z" fill="#FBF8CC" stroke-width="0.95"/>
<path d="M403.4,398.0 402.7,400.6 402.2,403.3 403.6,405.3 406.5,406.1 409.6,406.3 410.2,403.5 409.9,400.8 409.6,398.0 406.5,397.6Z" fill="#FBF8CC" stroke-width="0.95"/>
<path d="M393.7,376.6 390.6,375.7 388.8,377.2 389.0,380.5 391.5,380.8 393.7,378.4Z" fill="#FBF8CC" stroke-width="0.95"/>
<path d="M356.7,381.9 359.7,380.5 362.9,379.6 362.0,376.9 361.0,374.2 358.3,373.5 355.5,373.2 353.8,375.9 354.5,380.0Z" fill="#FBF8CC" stroke-width="0.95"/>
<path d="M399.4,380.6 403.1,382.6 405.7,380.6 405.6,378.8 404.9,379.2 402.2,378.1 399.4,377.8Z" fill="#FBF8CC" stroke-width="0.95"/>
<path d="M403.6,405.3 402.3,407.6 400.6,409.6 399.7,412.2 399.7,412.2 400.1,413.6 401.6,414.0 401.5,415.2 404.1,414.4 407.0,414.8 409.6,413.9 409.9,410.1 409.6,406.3 406.5,406.1Z" fill="#FBF8CC" stroke-width="0.95"/>
<path d="M363.3,371.6 361.0,374.2 362.0,376.9 362.9,379.6 364.8,380.8 366.3,380.4 366.9,379.2 367.3,377.8 368.2,376.8 368.9,375.6 369.9,374.4 371.1,373.6 368.6,372.6 365.8,372.6Z" fill="#FBF8CC" stroke-width="0.95"/>
<path d="M349.1,368.1 351.7,368.8 354.2,369.9 356.3,367.0 358.6,364.3 357.0,364.0 354.3,363.5 351.8,362.5 349.0,362.4 347.6,360.5 347.9,364.4Z" fill="#FBF8CC" stroke-width="0.95"/>
<path d="M402.8,385.4 401.9,390.0 404.0,392.5 406.7,391.3 409.6,390.4 409.6,389.0 406.4,386.9Z" fill="#FBF8CC" stroke-width="0.95"/>
<path d="M354.2,369.9 355.5,373.2 358.3,373.5 361.0,374.2 363.3,371.6 363.7,368.4 363.2,365.2 358.6,364.3 356.3,367.0Z" fill="#FBF8CC" stroke-width="0.95"/>
<path d="M398.8,395.6 398.3,395.8 397.4,399.0 395.6,401.8 395.6,402.1 395.8,402.6 399.0,402.9 402.2,403.3 402.7,400.6 403.4,398.0 402.4,396.2Z" fill="#FBF8CC" stroke-width="0.95"/>
<path d="M391.2,387.3 391.6,387.4 393.1,386.8 392.9,383.5 392.1,383.0 389.8,384.3Z" fill="#FBF8CC" stroke-width="0.95"/>
<path d="M377.8,376.0 377.7,376.0 377.0,380.3 377.5,381.1 379.4,381.1 380.1,380.0 381.2,378.8 381.2,377.3 381.2,377.3Z" fill="#FBF8CC" stroke-width="0.95"/>
<path d="M332.2,355.0 332.4,355.2 332.7,356.8 333.7,357.5 335.4,357.7 336.1,358.9 336.4,360.4 337.8,360.8 338.3,362.1 339.3,363.0 339.5,363.8 341.2,361.4 343.5,359.6 345.5,357.6 345.0,356.8 342.4,354.8 339.4,353.6 334.8,352.1Z" fill="#FBF8CC" stroke-width="0.95"/>
<path d="M382.8,358.5 379.3,359.2 379.0,359.9 379.1,360.1 379.3,361.4 379.8,362.6 379.3,364.0 379.4,364.7 382.9,365.1 384.9,362.5Z" fill="#FBF8CC" stroke-width="0.95"/>
<path d="M387.6,355.3 387.3,351.2 384.3,351.1 381.3,351.2 382.7,353.5 383.9,355.9Z" fill="#F8D763" stroke-width="0.95"/>
<path d="M391.5,380.8 392.1,383.0 392.9,383.5 396.5,382.4 396.7,381.9 393.7,378.4Z" fill="#FBF8CC" stroke-width="0.95"/>
<path d="M388.5,380.9 386.8,381.0 385.7,383.4 385.9,384.0 388.2,384.5 389.0,384.1Z" fill="#F8D763" stroke-width="0.95"/>
<path d="M373.5,387.8 373.8,387.1 375.7,388.4 377.0,388.0 378.0,386.8 378.6,386.6 376.9,382.9 372.9,384.4 373.0,384.8 372.2,385.6Z" fill="#FBF8CC" stroke-width="0.95"/>
<path d="M398.3,386.2 402.8,385.4 403.1,382.6 399.4,380.6 396.7,381.9 396.5,382.4 397.1,385.2Z" fill="#FBF8CC" stroke-width="0.95"/>
<path d="M350.7,381.9 350.7,382.0 351.4,383.2 352.8,383.5 353.7,384.7 355.0,385.1 356.2,385.9 356.4,386.0 356.7,381.9 354.5,380.0Z" fill="#FBF8CC" stroke-width="0.95"/>
<path d="M388.2,384.5 388.0,386.2 389.2,387.7 391.2,387.3 389.8,384.3 389.0,384.1Z" fill="#F8D763" stroke-width="0.95"/>
<path d="M401.5,415.2 401.5,416.1 403.1,416.4 404.3,417.1 404.9,418.4 405.9,419.5 407.1,420.2 408.2,421.2 409.6,421.6 410.0,417.8 409.6,413.9 407.0,414.8 404.1,414.4Z" fill="#F8D763" stroke-width="0.95"/>
<path d="M356.4,386.0 357.3,386.7 358.6,387.2 359.8,386.2 360.1,384.1 362.5,384.6 363.4,383.2 364.5,382.4 364.7,380.8 364.8,380.8 362.9,379.6 359.7,380.5 356.7,381.9Z" fill="#FBF8CC" stroke-width="0.95"/>
<path d="M403.6,405.3 402.2,403.3 399.0,402.9 395.8,402.6 396.1,403.3 395.7,404.8 396.1,406.0 396.9,407.2 398.3,408.1 398.0,409.8 399.1,410.9 399.7,412.2 400.6,409.6 402.3,407.6Z" fill="#FBF8CC" stroke-width="0.95"/>
<path d="M385.5,379.8 386.4,377.0 384.4,374.9 384.0,374.9 382.6,376.6 382.8,376.8 382.8,378.2 384.1,379.1 384.6,379.9Z" fill="#F8D763" stroke-width="0.95"/>
<path d="M363.3,371.6 365.8,372.6 368.6,372.6 371.1,373.6 371.1,373.6 371.4,372.0 372.1,370.9 371.6,369.4 372.1,369.1 369.3,369.1 366.6,369.6 365.0,365.6 363.2,365.2 363.7,368.4Z" fill="#FBF8CC" stroke-width="0.95"/>
<path d="M379.3,359.2 382.8,358.5 383.9,355.9 382.7,353.5 381.3,351.2 379.3,351.2 377.9,354.4 377.1,357.7 378.2,358.5 378.5,357.6 378.5,358.6Z" fill="#F8D763" stroke-width="0.95"/>
<path d="M379.4,364.7 379.5,365.3 377.7,366.4 378.3,367.8 378.2,369.1 378.4,369.8 380.4,370.8 383.4,368.4 382.9,365.1Z" fill="#F8D763" stroke-width="0.95"/>
<path d="M405.7,380.6 403.1,382.6 402.8,385.4 402.8,385.4 406.4,386.9 409.6,389.0 409.2,385.8 409.6,382.5Z" fill="#FBF8CC" stroke-width="0.95"/>
<path d="M388.8,377.2 390.6,375.7 388.7,371.7 387.8,371.2 384.4,374.9 386.4,377.0Z" fill="#FBF8CC" stroke-width="0.95"/>
<path d="M376.9,382.9 377.5,381.1 377.0,380.3 374.7,379.9 374.9,381.0 373.5,382.0 372.7,383.2 372.9,384.4Z" fill="#FBF8CC" stroke-width="0.95"/>
<path d="M381.2,377.3 381.3,375.8 381.7,374.4 381.6,375.9 382.6,376.6 384.0,374.9 380.5,371.7 377.8,376.0Z" fill="#F8D763" stroke-width="0.95"/>
<path d="M405.7,380.6 409.6,382.5 409.2,379.6 409.6,376.8 405.6,378.8Z" fill="#FBF8CC" stroke-width="0.95"/>
<path d="M372.2,385.6 371.9,385.8 370.5,386.3 369.8,387.7 368.2,388.0 369.7,388.8 371.3,388.9 373.0,388.8 373.5,387.8Z" fill="#FBF8CC" stroke-width="0.95"/>
<path d="M389.0,380.5 388.8,377.2 386.4,377.0 385.5,379.8 386.8,381.0 388.5,380.9Z" fill="#FBF8CC" stroke-width="0.95"/>
<path d="M388.7,371.7 390.6,375.7 393.7,376.6 394.5,376.0 392.9,374.4 392.7,370.5Z" fill="#FBF8CC" stroke-width="0.95"/>
<path d="M334.8,352.1 331.4,351.0 328.2,350.8 325.0,351.0 325.0,354.7 325.7,355.1 327.1,355.0 328.6,355.1 330.0,354.8 331.4,354.4 332.2,355.0Z" fill="#FBF8CC" stroke-width="0.95"/>
<path d="M397.8,390.4 398.3,386.2 397.1,385.2 393.8,387.0 395.9,390.5 397.6,390.6Z" fill="#FBF8CC" stroke-width="0.95"/>
<path d="M393.0,395.2 390.5,392.4 387.7,393.4 387.4,394.0 385.9,394.4 384.9,395.2 386.3,394.8 387.7,395.0 389.1,395.2 390.5,395.2 392.0,395.8 392.3,396.6Z" fill="#F8D763" stroke-width="0.95"/>
<path d="M391.6,390.4 391.6,387.4 391.2,387.3 389.2,387.7 388.6,388.4 388.7,389.7 390.8,391.2Z" fill="#F8D763" stroke-width="0.95"/>
<path d="M392.7,370.5 391.9,367.9 392.8,365.2 392.2,362.6 390.4,363.3 389.1,366.8 387.3,370.0 387.8,371.2 388.7,371.7Z" fill="#FBF8CC" stroke-width="0.95"/>
<path d="M386.1,386.9 386.5,388.0 386.6,388.3 388.6,388.4 389.2,387.7 388.0,386.2Z" fill="#FAB000" stroke-width="0.95"/>
<path d="M396.5,382.4 392.9,383.5 393.1,386.8 393.8,387.0 397.1,385.2Z" fill="#FBF8CC" stroke-width="0.95"/>
<path d="M378.6,386.6 379.3,386.4 379.9,385.2 379.7,383.9 379.5,382.5 379.3,381.2 379.4,381.1 377.5,381.1 376.9,382.9Z" fill="#FBF8CC" stroke-width="0.95"/>
<path d="M339.5,363.8 339.6,364.5 340.6,365.4 341.9,366.1 342.6,367.2 343.4,368.4 343.9,369.8 344.1,371.2 344.7,372.3 346.6,369.9 349.1,368.1 347.9,364.4 347.6,360.5 345.5,357.6 343.5,359.6 341.2,361.4Z" fill="#FBF8CC" stroke-width="0.95"/>
<path d="M398.3,395.8 398.8,395.6 397.6,390.6 395.9,390.5 395.0,391.1 393.4,395.0Z" fill="#FBF8CC" stroke-width="0.95"/>
<path d="M401.9,390.0 402.8,385.4 402.8,385.4 398.3,386.2 397.8,390.4Z" fill="#FBF8CC" stroke-width="0.95"/>
<path d="M377.7,376.0 377.8,376.0 380.5,371.7 380.4,370.8 378.4,369.8 378.5,370.4 378.4,371.9 377.2,372.9 377.1,374.5 376.7,375.6Z" fill="#FBF8CC" stroke-width="0.95"/>
<path d="M379.3,359.2 378.5,358.6 378.5,358.9 379.0,359.9Z" fill="#FBF8CC" stroke-width="0.95"/>
<path d="M377.1,357.7 376.0,361.0 375.3,362.8 376.0,362.3 376.2,360.8 376.7,359.5 378.1,358.9 378.2,358.5Z" fill="#FBF8CC" stroke-width="0.95"/>
<path d="M395.9,390.5 393.8,387.0 393.1,386.8 391.6,387.4 391.6,390.4 395.0,391.1Z" fill="#FBF8CC" stroke-width="0.95"/>
<path d="M354.5,380.0 353.8,375.9 350.6,376.6 347.4,376.4 348.1,377.1 349.0,378.2 349.9,379.2 350.2,380.6 350.7,381.9Z" fill="#FBF8CC" stroke-width="0.95"/>
<path d="M389.8,384.3 392.1,383.0 391.5,380.8 389.0,380.5 388.5,380.9 389.0,384.1Z" fill="#FBF8CC" stroke-width="0.95"/>
<path d="M377.0,380.3 377.7,376.0 376.7,375.6 376.6,375.8 375.4,376.8 374.7,378.0 374.6,379.4 374.7,379.9Z" fill="#FBF8CC" stroke-width="0.95"/>
<path d="M385.9,384.0 385.9,384.1 385.4,385.6 386.1,386.8 386.1,386.9 388.0,386.2 388.2,384.5Z" fill="#FAB000" stroke-width="0.95"/>
<path d="M386.8,381.0 385.5,379.8 384.6,379.9 384.7,380.2 384.9,381.6 385.6,382.8 385.7,383.4Z" fill="#F8D763" stroke-width="0.95"/>
<path d="M388.7,389.7 388.6,388.4 386.6,388.3 386.9,389.2 387.4,390.4 387.4,390.6Z" fill="#FAB000" stroke-width="0.95"/>
<path d="M155.7,356.4 154.4,354.9 153.4,355.4 153.4,356.1 154.0,357.4 154.1,357.9Z" fill="#F8D763" stroke-width="0.95"/>
<path d="M159.9,256.9 158.2,254.8 156.5,252.7 155.6,250.0 153.7,248.0 151.8,246.1 150.2,243.9 148.4,241.8 147.3,239.3 145.6,237.2 144.7,237.8 143.6,238.6 142.4,239.1 141.0,239.2 140.1,240.4 138.6,240.2 137.7,241.3 136.7,242.3 135.5,243.2 134.9,244.6 134.4,246.0 133.5,247.2 133.1,248.7 133.7,249.8 134.0,251.1 133.5,252.5 134.4,253.6 134.7,254.8 134.6,256.3 133.8,257.4 133.3,258.8 132.8,260.1 132.7,261.5 131.6,262.6 131.1,263.9 131.9,265.3 131.0,266.6 131.4,267.9 130.7,269.2 130.8,270.6 130.8,271.9 131.0,273.4 131.9,274.6 132.4,275.9 133.4,277.0 133.9,278.4 134.7,279.6 134.8,280.9 138.2,280.9 141.5,280.8 144.9,280.6 148.5,278.8 150.2,276.6 151.3,274.1 152.4,271.6 153.2,268.9 154.8,266.6 155.9,264.1 157.3,261.7 158.3,259.1Z" fill="#F8D763" stroke-width="0.95"/>
<path d="M144.9,280.6 141.5,280.8 138.2,280.9 134.8,280.9 134.8,281.1 135.8,282.2 136.2,283.7 137.5,284.6 138.2,285.9 138.6,287.3 137.9,288.4 136.4,288.8 136.2,290.4 135.0,291.0 135.0,292.3 135.3,293.5 135.8,294.7 135.7,296.0 136.1,297.2 137.1,298.4 136.7,299.7 137.2,300.9 137.9,302.1 137.5,303.4 137.2,304.8 137.5,306.0 137.8,306.4 140.7,305.3 143.6,304.5 146.2,302.7 149.0,301.6 149.3,301.0 149.3,298.3 147.7,296.0 147.6,293.4 147.4,290.7 146.1,288.4 145.9,285.7 145.1,283.2Z" fill="#F8D763" stroke-width="0.95"/>
<path d="M175.2,303.2 173.4,305.2 171.0,306.6 168.8,308.2 169.9,311.3 170.2,314.6 173.3,315.5 176.3,316.6 179.1,316.0 181.8,315.0 184.2,313.5 184.7,309.8 182.2,308.3 179.8,306.7 177.7,304.7Z" fill="#F8D763" stroke-width="0.95"/>
<path d="M176.3,316.6 175.5,319.1 175.4,321.8 175.4,324.4 175.1,327.0 175.8,327.6 179.4,326.6 183.0,325.4 183.0,322.3 183.9,319.4 183.3,316.4 184.2,313.5 181.8,315.0 179.1,316.0Z" fill="#F8D763" stroke-width="0.95"/>
<path d="M159.8,327.3 158.6,330.7 160.3,333.4 163.7,334.5 167.0,332.1 167.1,331.1 164.7,328.8 161.8,327.0Z" fill="#F8D763" stroke-width="0.95"/>
<path d="M186.4,263.2 186.9,266.0 186.8,268.9 189.0,270.4 190.6,272.7 192.7,274.4 194.7,276.2 197.3,277.3 198.6,279.9 201.2,281.0 202.9,283.1 205.3,284.4 207.0,286.6 210.2,286.7 213.4,286.6 216.6,285.5 219.8,285.4 221.3,283.0 223.0,280.7 225.0,278.6 226.4,276.1 227.8,273.6 226.6,270.9 224.9,268.5 223.5,265.9 222.1,263.4 220.8,260.7 219.7,258.0 217.1,258.4 214.5,258.1 211.9,257.7 209.3,257.9 206.7,258.5 204.1,258.3 201.4,258.5 198.8,257.7 196.2,257.9 193.6,258.6 191.0,258.0 188.7,260.6Z" fill="#F8D763" stroke-width="0.95"/>
<path d="M179.7,284.3 180.5,281.6 181.6,278.9 183.7,276.8 184.1,273.9 185.5,271.4 186.8,268.9 186.9,266.0 186.4,263.2 183.7,262.7 181.1,261.8 178.4,261.7 175.8,260.8 173.2,259.7 170.4,260.0 167.8,259.1 165.2,258.1 162.6,257.4 159.9,256.9 158.3,259.1 157.3,261.7 155.9,264.1 154.8,266.6 153.2,268.9 152.4,271.6 151.3,274.1 150.2,276.6 148.5,278.8 151.2,280.0 153.2,282.3 155.9,283.6 158.6,284.9 161.0,286.6 163.8,287.7 166.2,289.4 168.9,288.7 171.7,288.6 174.5,288.1 176.9,286.0Z" fill="#F8D763" stroke-width="0.95"/>
<path d="M186.4,358.3 186.8,354.6 188.3,351.1 186.9,348.9 183.2,348.5 181.8,350.8 180.9,353.3 181.9,355.8Z" fill="#F8D763" stroke-width="0.95"/>
<path d="M191.0,258.0 188.3,258.1 185.7,258.3 183.0,258.4 180.3,258.4 177.7,258.5 175.0,258.0 175.1,255.3 174.7,252.7 174.8,250.0 174.5,247.3 175.3,244.7 175.4,242.0 174.4,239.3 174.4,236.7 175.5,234.0 175.1,231.3 175.2,228.7 175.0,226.0 174.4,226.3 173.3,227.0 171.9,227.6 170.5,227.3 169.1,228.0 167.6,227.1 166.3,228.1 164.8,227.8 163.3,227.7 162.1,228.5 161.2,229.9 159.6,229.8 158.2,230.0 157.1,230.9 156.2,232.2 155.4,233.6 153.6,233.6 152.5,234.5 150.9,234.7 149.9,235.8 148.4,235.9 146.9,236.0 145.9,237.0 145.6,237.2 147.3,239.3 148.4,241.8 150.2,243.9 151.8,246.1 153.7,248.0 155.6,250.0 156.5,252.7 158.2,254.8 159.9,256.9 162.6,257.4 165.2,258.1 167.8,259.1 170.4,260.0 173.2,259.7 175.8,260.8 178.4,261.7 181.1,261.8 183.7,262.7 186.4,263.2 188.7,260.6Z" fill="#F8D763" stroke-width="0.95"/>
<path d="M156.4,323.8 153.5,325.9 150.3,327.4 150.0,329.6 152.8,331.1 155.7,332.2 158.6,330.7 159.8,327.3Z" fill="#F8D763" stroke-width="0.95"/>
<path d="M166.6,348.3 166.2,345.6 164.8,345.1 162.7,346.7 162.7,348.0 163.5,348.9Z" fill="#F8D763" stroke-width="0.95"/>
<path d="M183.2,348.5 180.8,345.8 178.1,346.3 176.1,349.5 176.5,351.7 180.9,353.3 181.8,350.8Z" fill="#F8D763" stroke-width="0.95"/>
<path d="M207.0,286.6 205.3,284.4 202.9,283.1 201.2,281.0 198.6,279.9 197.3,277.3 194.7,276.2 192.7,274.4 190.6,272.7 189.0,270.4 186.8,268.9 185.5,271.4 184.1,273.9 183.7,276.8 181.6,278.9 180.5,281.6 179.7,284.3 181.8,286.3 183.5,288.6 185.3,290.9 186.4,293.6 188.1,296.0 189.5,298.5 192.1,300.2 193.4,302.8 196.8,302.7 200.3,302.8 201.2,300.0 202.4,297.4 204.2,294.9 204.4,291.9 205.9,289.3Z" fill="#F8D763" stroke-width="0.95"/>
<path d="M152.8,348.0 152.2,346.0 149.5,345.6 149.2,346.2 150.7,347.1 151.0,348.4 151.6,349.4Z" fill="#F8D763" stroke-width="0.95"/>
<path d="M154.4,364.6 152.9,365.2 154.5,368.7 157.4,366.3 157.1,365.5Z" fill="#FAB000" stroke-width="0.95"/>
<path d="M182.4,364.3 184.2,366.8 186.0,369.2 187.6,371.8 189.4,370.9 190.5,368.1 191.8,365.4 192.6,362.5 191.6,360.5 188.9,359.7 186.4,358.4 184.7,361.3 182.5,363.7Z" fill="#FBF8CC" stroke-width="0.95"/>
<path d="M153.1,309.5 151.5,311.9 150.0,314.3 148.7,316.9 151.2,318.0 153.4,319.8 156.1,320.7 158.3,319.0 160.1,316.8 159.1,313.8 158.6,310.7 155.9,310.0Z" fill="#F8D763" stroke-width="0.95"/>
<path d="M155.0,345.5 153.4,345.1 152.2,346.0 152.8,348.0 154.3,348.6 155.7,347.0Z" fill="#F8D763" stroke-width="0.95"/>
<path d="M227.8,273.6 226.4,276.1 225.0,278.6 223.0,280.7 221.3,283.0 219.8,285.4 220.8,287.9 221.8,290.3 223.3,292.6 223.7,295.3 226.3,295.9 228.9,295.8 231.5,295.6 234.2,294.9 236.8,295.6 239.4,294.9 242.0,294.8 244.6,295.3 244.9,292.5 244.3,289.7 244.9,286.9 244.7,284.1 244.2,281.3 244.7,278.5 244.6,275.7 241.8,275.7 239.0,275.4 236.2,274.7 233.5,273.8 230.6,273.8Z" fill="#F8D763" stroke-width="0.95"/>
<path d="M186.5,373.4 186.6,376.5 186.9,379.5 186.7,382.6 187.9,382.3 188.8,381.0 190.2,380.7 191.0,379.3 192.5,379.0 193.8,378.8 195.1,378.6 196.0,377.1 197.4,377.0 198.0,377.1 198.0,376.0 195.4,374.8 192.8,373.8 194.5,372.3 191.8,371.9 189.4,370.9 187.6,371.8Z" fill="#F8D763" stroke-width="0.95"/>
<path d="M161.8,327.0 164.7,328.8 167.1,331.1 170.1,329.1 172.9,326.8 171.2,324.8 169.2,323.1 166.8,321.9 164.5,324.6Z" fill="#F8D763" stroke-width="0.95"/>
<path d="M173.2,335.4 177.1,338.6 179.0,338.3 181.3,334.6 179.9,332.0 177.8,330.1 175.9,328.0 174.8,330.4 174.5,333.1Z" fill="#FBF8CC" stroke-width="0.95"/>
<path d="M176.0,360.6 175.3,363.9 174.8,367.3 176.5,368.9 179.3,366.4 182.4,364.3 182.5,363.7 179.2,362.3 176.0,360.6Z" fill="#FBF8CC" stroke-width="0.95"/>
<path d="M155.7,332.2 154.1,336.6 156.7,337.1 159.2,337.8 160.3,333.4 158.6,330.7Z" fill="#F8D763" stroke-width="0.95"/>
<path d="M169.9,349.6 170.3,351.6 174.2,354.0 174.5,354.0 176.5,351.7 176.1,349.5 171.2,348.1Z" fill="#F8D763" stroke-width="0.95"/>
<path d="M177.2,372.2 180.3,372.2 183.5,372.6 186.5,373.4 187.6,371.8 186.0,369.2 184.2,366.8 182.4,364.3 179.3,366.4 176.5,368.9Z" fill="#FBF8CC" stroke-width="0.95"/>
<path d="M174.7,343.3 174.5,342.3 171.0,340.7 168.7,342.9 168.7,344.0 171.2,346.5Z" fill="#F8D763" stroke-width="0.95"/>
<path d="M162.7,374.9 165.9,373.0 164.4,368.7 162.9,368.3 160.7,369.6 161.1,374.2Z" fill="#FBF8CC" stroke-width="0.95"/>
<path d="M149.0,330.8 150.0,329.6 150.3,327.4 147.1,324.3 144.3,325.4 144.9,325.9 144.9,327.3 145.0,328.6 145.6,329.8 146.0,331.0 146.0,331.2Z" fill="#F8D763" stroke-width="0.95"/>
<path d="M174.7,343.3 178.1,346.3 180.8,345.8 182.0,342.5 179.0,338.3 177.1,338.6 174.5,342.3Z" fill="#FBF8CC" stroke-width="0.95"/>
<path d="M172.9,326.8 170.1,329.1 167.1,331.1 167.0,332.1 168.3,334.5 170.1,336.5 173.2,335.4 174.5,333.1 174.8,330.4 175.9,328.0 175.8,327.6 175.1,327.0Z" fill="#F8D763" stroke-width="0.95"/>
<path d="M186.5,373.4 183.5,372.6 180.3,372.2 177.2,372.2 176.3,373.3 176.1,377.1 176.7,380.8 179.7,381.8 182.9,382.1 185.9,383.0 186.5,382.7 186.7,382.6 186.9,379.5 186.6,376.5Z" fill="#F8D763" stroke-width="0.95"/>
<path d="M175.2,303.2 174.6,300.2 175.0,297.2 174.9,294.1 174.7,291.1 174.5,288.1 171.7,288.6 168.9,288.7 166.2,289.4 164.6,291.5 163.1,293.7 162.3,296.2 161.0,298.5 162.0,301.1 162.7,303.8 163.8,306.3 166.2,307.6 168.8,308.2 171.0,306.6 173.4,305.2Z" fill="#F8D763" stroke-width="0.95"/>
<path d="M156.1,320.7 156.4,323.8 159.8,327.3 161.8,327.0 164.5,324.6 166.8,321.9 166.4,318.3 163.3,317.3 160.1,316.8 158.3,319.0Z" fill="#F8D763" stroke-width="0.95"/>
<path d="M155.6,341.4 153.3,342.8 153.4,345.1 155.0,345.5 157.1,343.6 157.1,342.1Z" fill="#F8D763" stroke-width="0.95"/>
<path d="M162.7,346.7 160.8,345.1 158.9,346.0 158.8,346.4 160.1,348.8 162.7,348.0Z" fill="#F8D763" stroke-width="0.95"/>
<path d="M174.5,354.0 174.2,354.0 171.0,356.7 172.2,360.2 176.0,360.6 176.0,360.6 176.8,358.5Z" fill="#FBF8CC" stroke-width="0.95"/>
<path d="M164.9,339.3 164.1,338.7 159.9,338.9 159.2,340.9 161.2,343.3 163.9,342.7 165.1,340.3Z" fill="#F8D763" stroke-width="0.95"/>
<path d="M137.8,306.4 138.3,307.1 138.5,308.5 139.9,309.4 138.9,311.2 139.8,312.3 140.3,313.6 140.3,314.7 143.0,315.2 145.6,316.1 148.1,317.1 148.7,316.9 150.0,314.3 151.5,311.9 153.1,309.5 152.0,306.7 150.0,304.4 149.0,301.6 146.2,302.7 143.6,304.5 140.7,305.3Z" fill="#F8D763" stroke-width="0.95"/>
<path d="M186.4,358.3 186.4,358.4 188.9,359.7 191.6,360.5 193.4,358.6 194.8,356.3 196.6,354.4 198.1,352.3 198.1,352.1 195.2,352.7 192.2,352.0 189.2,352.5 188.3,351.1 186.8,354.6Z" fill="#FBF8CC" stroke-width="0.95"/>
<path d="M172.9,385.2 169.5,385.3 166.2,384.5 164.2,386.3 162.7,388.4 163.4,389.1 165.0,389.0 166.2,389.0 167.5,389.2 168.8,389.3 170.0,388.8 171.2,389.1 172.5,389.0 173.7,389.3Z" fill="#F8D763" stroke-width="0.95"/>
<path d="M176.7,380.8 174.5,382.0 172.9,385.2 173.7,389.3 173.8,389.3 175.0,389.0 175.9,388.0 177.2,387.6 178.5,387.3 179.6,386.6 180.4,385.5 181.7,385.2 182.8,384.6 184.0,384.0 185.2,383.3 185.9,383.0 182.9,382.1 179.7,381.8Z" fill="#F8D763" stroke-width="0.95"/>
<path d="M169.5,378.2 172.2,379.8 174.5,382.0 176.7,380.8 176.1,377.1 176.3,373.3 173.0,374.1 169.6,374.1Z" fill="#FBF8CC" stroke-width="0.95"/>
<path d="M161.0,298.5 162.3,296.2 163.1,293.7 164.6,291.5 166.2,289.4 163.8,287.7 161.0,286.6 158.6,284.9 155.9,283.6 153.2,282.3 151.2,280.0 148.5,278.8 144.9,280.6 145.1,283.2 145.9,285.7 146.1,288.4 147.4,290.7 147.6,293.4 147.7,296.0 149.3,298.3 149.3,301.0 152.1,299.8 155.2,299.7 157.9,298.5Z" fill="#F8D763" stroke-width="0.95"/>
<path d="M149.8,335.5 149.0,330.8 146.0,331.2 145.8,332.4 147.1,333.4 146.0,335.0 147.0,336.0 147.2,337.3 147.3,337.5Z" fill="#F8D763" stroke-width="0.95"/>
<path d="M166.1,366.8 164.4,368.7 165.9,373.0 168.6,373.3 169.7,370.8 170.1,368.2Z" fill="#F8D763" stroke-width="0.95"/>
<path d="M165.1,352.8 165.1,352.7 163.3,351.2 161.4,351.7 160.9,352.5 161.7,355.0 161.9,355.1 164.5,354.1Z" fill="#F8D763" stroke-width="0.95"/>
<path d="M166.6,348.3 167.9,349.4 169.9,349.6 171.2,348.1 171.2,346.5 168.7,344.0 166.2,345.6Z" fill="#F8D763" stroke-width="0.95"/>
<path d="M156.7,378.7 159.0,381.4 163.2,378.9 162.7,374.9 161.1,374.2 158.4,374.5Z" fill="#F8D763" stroke-width="0.95"/>
<path d="M155.9,356.3 156.7,355.0 156.3,353.7 154.7,353.4 154.4,353.6 154.4,354.9 155.7,356.4Z" fill="#F8D763" stroke-width="0.95"/>
<path d="M177.1,338.6 173.2,335.4 170.1,336.5 170.0,336.6 171.0,340.7 174.5,342.3Z" fill="#FBF8CC" stroke-width="0.95"/>
<path d="M168.7,354.2 165.1,352.8 164.5,354.1 165.5,356.8 167.0,357.6 168.9,356.0Z" fill="#F8D763" stroke-width="0.95"/>
<path d="M219.8,285.4 216.6,285.5 213.4,286.6 210.2,286.7 207.0,286.6 205.9,289.3 204.4,291.9 204.2,294.9 202.4,297.4 201.2,300.0 200.3,302.8 203.2,302.7 206.1,303.2 209.1,303.1 212.0,302.4 214.9,302.8 215.7,299.1 216.2,295.3 219.9,295.2 223.7,295.3 223.3,292.6 221.8,290.3 220.8,287.9Z" fill="#F8D763" stroke-width="0.95"/>
<path d="M150.7,341.4 153.7,337.3 153.8,336.9 149.8,335.5 147.3,337.5 147.9,338.5 148.2,339.7 148.0,341.1 148.5,342.0Z" fill="#F8D763" stroke-width="0.95"/>
<path d="M148.7,316.9 148.1,317.1 147.6,320.7 147.1,324.3 150.3,327.4 153.5,325.9 156.4,323.8 156.1,320.7 153.4,319.8 151.2,318.0Z" fill="#F8D763" stroke-width="0.95"/>
<path d="M165.9,373.0 162.7,374.9 163.2,378.9 165.8,380.6 169.5,378.2 169.6,374.1 168.6,373.3Z" fill="#FBF8CC" stroke-width="0.95"/>
<path d="M157.1,342.1 157.1,343.6 158.9,346.0 160.8,345.1 161.2,343.3 159.2,340.9Z" fill="#FBF8CC" stroke-width="0.95"/>
<path d="M175.8,327.6 175.9,328.0 177.8,330.1 179.9,332.0 181.3,334.6 183.9,334.2 183.0,331.0 183.0,327.6 183.0,325.4 179.4,326.6Z" fill="#FBF8CC" stroke-width="0.95"/>
<path d="M148.8,375.0 151.3,377.2 153.6,373.6 152.9,370.6 150.8,370.2 150.0,371.1 149.1,371.2Z" fill="#F8D763" stroke-width="0.95"/>
<path d="M159.8,349.5 158.6,350.0 158.3,352.3 158.8,352.8 160.9,352.5 161.4,351.7Z" fill="#F8D763" stroke-width="0.95"/>
<path d="M163.8,306.3 161.5,308.8 158.6,310.7 159.1,313.8 160.1,316.8 163.3,317.3 166.4,318.3 168.2,316.4 170.2,314.6 169.9,311.3 168.8,308.2 166.2,307.6Z" fill="#F8D763" stroke-width="0.95"/>
<path d="M164.1,360.6 166.1,360.6 166.9,359.7 167.0,357.6 165.5,356.8 162.7,357.8Z" fill="#F8D763" stroke-width="0.95"/>
<path d="M148.8,375.0 149.1,371.2 148.5,371.3 147.0,371.4 146.0,372.5 146.4,373.7 146.1,375.1 146.2,375.1Z" fill="#F8D763" stroke-width="0.95"/>
<path d="M157.7,363.0 156.3,361.7 155.2,361.8 154.4,364.6 157.1,365.5Z" fill="#FAB000" stroke-width="0.95"/>
<path d="M166.4,318.3 166.8,321.9 169.2,323.1 171.2,324.8 172.9,326.8 175.1,327.0 175.4,324.4 175.4,321.8 175.5,319.1 176.3,316.6 173.3,315.5 170.2,314.6 168.2,316.4Z" fill="#F8D763" stroke-width="0.95"/>
<path d="M166.2,384.5 165.8,380.6 163.2,378.9 159.0,381.4 158.4,385.8 158.6,386.2 160.1,386.3 161.1,387.5 162.3,388.1 162.7,388.4 164.2,386.3Z" fill="#F8D763" stroke-width="0.95"/>
<path d="M171.7,367.0 170.1,368.2 169.7,370.8 168.6,373.3 169.6,374.1 173.0,374.1 176.3,373.3 177.2,372.2 176.5,368.9 174.8,367.3Z" fill="#FBF8CC" stroke-width="0.95"/>
<path d="M156.2,350.0 156.0,351.3 157.2,352.4 158.3,352.3 158.6,350.0 157.2,349.5Z" fill="#FAB000" stroke-width="0.95"/>
<path d="M184.9,341.6 184.5,337.9 183.9,334.2 181.3,334.6 179.0,338.3 182.0,342.5Z" fill="#FBF8CC" stroke-width="0.95"/>
<path d="M153.6,373.6 151.3,377.2 151.6,378.7 156.7,378.7 158.4,374.5 158.2,374.4Z" fill="#F8D763" stroke-width="0.95"/>
<path d="M162.7,357.8 165.5,356.8 164.5,354.1 161.9,355.1 162.1,357.5Z" fill="#F8D763" stroke-width="0.95"/>
<path d="M161.2,358.0 160.6,360.3 162.6,361.7 164.1,360.6 162.7,357.8 162.1,357.5Z" fill="#F8D763" stroke-width="0.95"/>
<path d="M152.9,370.6 154.2,369.6 154.5,368.7 152.9,365.2 152.6,365.2 152.9,366.4 152.1,367.6 151.7,368.8 151.0,370.0 150.8,370.2Z" fill="#F8D763" stroke-width="0.95"/>
<path d="M244.6,275.7 244.9,272.8 244.1,269.8 244.1,266.9 245.0,263.9 245.0,260.9 244.6,258.0 241.8,258.2 239.1,258.2 236.3,258.6 233.5,258.1 230.8,258.2 228.0,257.5 225.2,257.6 222.5,257.6 219.7,258.0 220.8,260.7 222.1,263.4 223.5,265.9 224.9,268.5 226.6,270.9 227.8,273.6 230.6,273.8 233.5,273.8 236.2,274.7 239.0,275.4 241.8,275.7Z" fill="#F8D763" stroke-width="0.95"/>
<path d="M161.6,364.5 161.4,365.1 162.9,368.3 164.4,368.7 166.1,366.8 166.0,364.7 162.3,363.9Z" fill="#F8D763" stroke-width="0.95"/>
<path d="M163.7,334.5 160.3,333.4 159.2,337.8 159.9,338.9 164.1,338.7Z" fill="#F8D763" stroke-width="0.95"/>
<path d="M162.7,348.0 160.1,348.8 159.8,349.5 161.4,351.7 163.3,351.2 163.5,348.9Z" fill="#F8D763" stroke-width="0.95"/>
<path d="M140.3,314.7 140.2,315.1 141.0,316.2 142.2,317.1 142.5,318.5 142.8,319.8 143.6,320.9 143.3,322.3 144.1,323.4 143.7,324.9 144.3,325.4 147.1,324.3 147.6,320.7 148.1,317.1 145.6,316.1 143.0,315.2Z" fill="#F8D763" stroke-width="0.95"/>
<path d="M160.6,360.3 159.8,360.5 159.0,362.7 161.6,364.5 162.3,363.9 162.6,361.7Z" fill="#F8D763" stroke-width="0.95"/>
<path d="M176.8,358.5 176.0,360.6 179.2,362.3 182.5,363.7 184.7,361.3 186.4,358.4 186.4,358.3 181.9,355.8 179.2,356.9Z" fill="#FBF8CC" stroke-width="0.95"/>
<path d="M179.7,284.3 176.9,286.0 174.5,288.1 174.7,291.1 174.9,294.1 175.0,297.2 174.6,300.2 175.2,303.2 177.7,304.7 179.8,306.7 182.2,308.3 184.7,309.8 185.6,306.4 185.7,302.8 189.6,302.9 193.4,302.8 192.1,300.2 189.5,298.5 188.1,296.0 186.4,293.6 185.3,290.9 183.5,288.6 181.8,286.3Z" fill="#F8D763" stroke-width="0.95"/>
<path d="M157.2,359.5 156.3,361.7 157.7,363.0 159.0,362.7 159.8,360.5 157.6,359.3Z" fill="#F8D763" stroke-width="0.95"/>
<path d="M154.1,336.6 155.7,332.2 152.8,331.1 150.0,329.6 149.0,330.8 149.8,335.5 153.8,336.9Z" fill="#F8D763" stroke-width="0.95"/>
<path d="M198.3,364.3 198.1,363.0 198.5,360.3 198.2,357.6 198.6,355.0 198.1,352.3 196.6,354.4 194.8,356.3 193.4,358.6 191.6,360.5 192.6,362.5 195.4,363.5Z" fill="#F8D763" stroke-width="0.95"/>
<path d="M151.6,378.7 151.3,377.2 148.8,375.0 146.2,375.1 147.1,376.2 147.2,377.5 147.3,378.7 147.5,380.0 148.9,380.4 149.9,381.5 150.1,381.5Z" fill="#F8D763" stroke-width="0.95"/>
<path d="M158.3,352.3 157.2,352.4 156.3,353.7 156.7,355.0 158.7,354.8 158.8,352.8Z" fill="#F8D763" stroke-width="0.95"/>
<path d="M182.0,342.5 180.8,345.8 183.2,348.5 186.9,348.9 185.7,347.1 185.3,344.4 184.9,341.6Z" fill="#F8D763" stroke-width="0.95"/>
<path d="M160.7,369.6 162.9,368.3 161.4,365.1 158.3,366.7 159.1,369.0Z" fill="#F7713F" stroke-width="0.95"/>
<path d="M171.2,348.1 176.1,349.5 178.1,346.3 174.7,343.3 171.2,346.5Z" fill="#F8D763" stroke-width="0.95"/>
<path d="M172.2,360.2 171.0,361.1 170.2,363.8 171.7,367.0 174.8,367.3 175.3,363.9 176.0,360.6Z" fill="#FBF8CC" stroke-width="0.95"/>
<path d="M159.0,381.4 156.7,378.7 151.6,378.7 150.1,381.5 151.3,381.8 152.6,382.5 153.9,383.1 155.0,384.0 156.1,384.9 157.8,384.6 158.4,385.8Z" fill="#F8D763" stroke-width="0.95"/>
<path d="M153.4,351.0 152.2,353.1 152.3,353.2 154.4,353.6 154.7,353.4 154.9,351.8 153.5,350.9Z" fill="#F8D763" stroke-width="0.95"/>
<path d="M158.4,374.5 161.1,374.2 160.7,369.6 159.1,369.0 157.2,370.6 158.2,374.4Z" fill="#F8D763" stroke-width="0.95"/>
<path d="M148.5,342.0 148.7,342.2 149.0,343.5 149.9,344.6 149.5,345.6 152.2,346.0 153.4,345.1 153.3,342.8 150.7,341.4Z" fill="#F8D763" stroke-width="0.95"/>
<path d="M168.7,342.9 171.0,340.7 170.0,336.6 167.7,338.3 164.9,339.3 165.1,340.3Z" fill="#F8D763" stroke-width="0.95"/>
<path d="M167.9,349.4 165.1,352.7 165.1,352.8 168.7,354.2 170.3,351.6 169.9,349.6Z" fill="#F8D763" stroke-width="0.95"/>
<path d="M167.0,357.6 166.9,359.7 171.0,361.1 172.2,360.2 171.0,356.7 168.9,356.0Z" fill="#F8D763" stroke-width="0.95"/>
<path d="M161.0,298.5 157.9,298.5 155.2,299.7 152.1,299.8 149.3,301.0 149.0,301.6 150.0,304.4 152.0,306.7 153.1,309.5 155.9,310.0 158.6,310.7 161.5,308.8 163.8,306.3 162.7,303.8 162.0,301.1Z" fill="#F8D763" stroke-width="0.95"/>
<path d="M166.1,360.6 166.6,363.9 170.2,363.8 171.0,361.1 166.9,359.7Z" fill="#F8D763" stroke-width="0.95"/>
<path d="M157.2,370.6 154.2,369.6 152.9,370.6 153.6,373.6 158.2,374.4Z" fill="#F8D763" stroke-width="0.95"/>
<path d="M157.2,359.5 157.6,359.3 157.9,357.9 155.9,356.3 155.7,356.4 154.1,357.9 154.2,358.4Z" fill="#FAB000" stroke-width="0.95"/>
<path d="M166.2,384.5 169.5,385.3 172.9,385.2 174.5,382.0 172.2,379.8 169.5,378.2 165.8,380.6Z" fill="#F8D763" stroke-width="0.95"/>
<path d="M158.7,354.8 156.7,355.0 155.9,356.3 157.9,357.9 158.8,357.3 159.1,355.3Z" fill="#F8D763" stroke-width="0.95"/>
<path d="M152.9,365.2 154.4,364.6 155.2,361.8 154.8,361.6 153.8,362.4 152.9,363.5 152.6,364.8 152.6,365.2Z" fill="#FAB000" stroke-width="0.95"/>
<path d="M180.9,353.3 176.5,351.7 174.5,354.0 176.8,358.5 179.2,356.9 181.9,355.8Z" fill="#FBF8CC" stroke-width="0.95"/>
<path d="M155.7,347.0 154.3,348.6 154.5,349.2 156.2,350.0 157.2,349.5 157.0,347.4Z" fill="#FAB000" stroke-width="0.95"/>
<path d="M159.9,338.9 159.2,337.8 156.7,337.1 154.1,336.6 153.8,336.9 153.7,337.3 155.6,341.4 157.1,342.1 159.2,340.9Z" fill="#F8D763" stroke-width="0.95"/>
<path d="M170.0,336.6 170.1,336.5 168.3,334.5 167.0,332.1 163.7,334.5 164.1,338.7 164.9,339.3 167.7,338.3Z" fill="#F8D763" stroke-width="0.95"/>
<path d="M161.9,355.1 161.7,355.0 159.1,355.3 158.8,357.3 161.2,358.0 162.1,357.5Z" fill="#F8D763" stroke-width="0.95"/>
<path d="M166.6,363.9 166.0,364.7 166.1,366.8 170.1,368.2 171.7,367.0 170.2,363.8Z" fill="#F8D763" stroke-width="0.95"/>
<path d="M162.6,361.7 162.3,363.9 166.0,364.7 166.6,363.9 166.1,360.6 164.1,360.6Z" fill="#F8D763" stroke-width="0.95"/>
<path d="M153.4,351.0 151.7,350.0 151.8,350.9 151.8,352.3 152.2,353.1Z" fill="#F8D763" stroke-width="0.95"/>
<path d="M160.1,348.8 158.8,346.4 157.0,347.4 157.2,349.5 158.6,350.0 159.8,349.5Z" fill="#FAB000" stroke-width="0.95"/>
<path d="M161.2,358.0 158.8,357.3 157.9,357.9 157.6,359.3 159.8,360.5 160.6,360.3Z" fill="#F8D763" stroke-width="0.95"/>
<path d="M157.4,366.3 158.3,366.7 161.4,365.1 161.6,364.5 159.0,362.7 157.7,363.0 157.1,365.5Z" fill="#F7713F" stroke-width="0.95"/>
<path d="M171.0,356.7 174.2,354.0 170.3,351.6 168.7,354.2 168.9,356.0Z" fill="#F8D763" stroke-width="0.95"/>
<path d="M160.9,352.5 158.8,352.8 158.7,354.8 159.1,355.3 161.7,355.0Z" fill="#F8D763" stroke-width="0.95"/>
<path d="M153.4,351.0 153.5,350.9 154.5,349.2 154.3,348.6 152.8,348.0 151.6,349.4 151.7,349.6 151.7,350.0Z" fill="#F8D763" stroke-width="0.95"/>
<path d="M150.7,341.4 153.3,342.8 155.6,341.4 153.7,337.3Z" fill="#F8D763" stroke-width="0.95"/>
<path d="M154.9,351.8 154.7,353.4 156.3,353.7 157.2,352.4 156.0,351.3Z" fill="#F8D763" stroke-width="0.95"/>
<path d="M166.2,345.6 168.7,344.0 168.7,342.9 165.1,340.3 163.9,342.7 164.8,345.1Z" fill="#F8D763" stroke-width="0.95"/>
<path d="M155.2,361.8 156.3,361.7 157.2,359.5 154.2,358.4 154.2,358.8 155.0,360.0 155.0,361.4 154.8,361.6Z" fill="#FAB000" stroke-width="0.95"/>
<path d="M154.9,351.8 156.0,351.3 156.2,350.0 154.5,349.2 153.5,350.9Z" fill="#FAB000" stroke-width="0.95"/>
<path d="M159.1,369.0 158.3,366.7 157.4,366.3 154.5,368.7 154.2,369.6 157.2,370.6Z" fill="#FAB000" stroke-width="0.95"/>
<path d="M163.3,351.2 165.1,352.7 167.9,349.4 166.6,348.3 163.5,348.9Z" fill="#F8D763" stroke-width="0.95"/>
<path d="M155.0,345.5 155.7,347.0 157.0,347.4 158.8,346.4 158.9,346.0 157.1,343.6Z" fill="#FBF8CC" stroke-width="0.95"/>
<path d="M192.6,362.5 191.8,365.4 190.5,368.1 189.4,370.9 191.8,371.9 194.5,372.3 196.8,370.5 199.0,368.4 198.3,364.3 195.4,363.5Z" fill="#FBF8CC" stroke-width="0.95"/>
<path d="M163.9,342.7 161.2,343.3 160.8,345.1 162.7,346.7 164.8,345.1Z" fill="#FBF8CC" stroke-width="0.95"/>
<path d="M154.4,354.9 154.4,353.6 152.3,353.2 152.5,353.5 153.3,354.7 153.4,355.4Z" fill="#F8D763" stroke-width="0.95"/>
<path d="M473.6,479.3 471.9,479.2 470.2,481.2 471.1,482.6 471.6,482.3 473.4,482.2 474.0,482.0Z" fill="#F8D763" stroke-width="0.95"/>
<path d="M452.5,461.4 453.6,458.2 451.5,455.8 449.6,453.2 446.9,454.5 447.2,455.3 447.3,456.6 448.2,457.7 447.9,459.4 448.4,460.6 449.3,461.7 449.6,462.3Z" fill="#F8D763" stroke-width="0.95"/>
<path d="M476.4,472.3 479.6,469.7 478.6,466.1 475.3,465.2 473.6,469.4Z" fill="#FBF8CC" stroke-width="0.95"/>
<path d="M465.7,467.0 464.1,464.9 462.9,462.5 461.1,462.4 456.9,464.5 456.8,467.2 460.7,470.6 463.1,468.6Z" fill="#F8D763" stroke-width="0.95"/>
<path d="M456.8,467.2 453.1,470.6 453.6,471.0 453.6,472.6 454.7,473.7 455.1,474.5 457.7,474.0 460.3,474.1 460.6,473.5 460.7,470.6Z" fill="#FAB000" stroke-width="0.95"/>
<path d="M469.1,459.5 471.7,463.0 474.1,463.3 475.5,460.6 477.2,458.1 475.7,453.9 475.5,454.0 474.4,454.9 472.8,454.5 471.5,454.7 470.7,455.5Z" fill="#F8D763" stroke-width="0.95"/>
<path d="M453.6,458.2 452.5,461.4 454.8,462.9 456.9,464.5 461.1,462.4 459.1,457.7 454.0,457.8Z" fill="#F8D763" stroke-width="0.95"/>
<path d="M460.3,474.1 461.1,477.8 464.8,478.8 466.6,477.9 466.9,474.7 466.1,473.8 463.4,473.5 460.6,473.5Z" fill="#F8D763" stroke-width="0.95"/>
<path d="M474.5,478.3 473.7,475.2 471.7,474.7 470.5,477.7 471.9,479.2 473.6,479.3Z" fill="#F8D763" stroke-width="0.95"/>
<path d="M477.2,458.1 475.5,460.6 474.1,463.3 475.3,465.2 478.6,466.1 480.9,464.1 483.6,462.8 483.5,462.0 483.7,460.8 480.4,459.6Z" fill="#F8D763" stroke-width="0.95"/>
<path d="M466.9,467.5 469.2,465.1 471.7,463.0 469.1,459.5 464.9,460.0 462.9,462.5 464.1,464.9 465.7,467.0Z" fill="#F8D763" stroke-width="0.95"/>
<path d="M477.2,458.1 480.4,459.6 483.7,460.8 483.7,460.6 484.2,459.2 483.7,457.8 483.1,456.4 483.5,455.0 482.0,453.9 480.8,452.4 479.4,452.5 478.2,453.2 476.8,453.4 475.7,453.9Z" fill="#FBF8CC" stroke-width="0.95"/>
<path d="M470.2,481.2 468.9,480.8 466.8,483.7 467.3,483.6 468.8,483.6 470.2,483.3 471.1,482.6Z" fill="#FBF8CC" stroke-width="0.95"/>
<path d="M477.2,478.6 478.7,475.3 476.4,473.2 473.7,475.2 474.5,478.3Z" fill="#F8D763" stroke-width="0.95"/>
<path d="M466.9,474.7 470.9,473.9 471.0,470.2 467.1,467.9 466.3,470.8 466.1,473.8Z" fill="#F8D763" stroke-width="0.95"/>
<path d="M471.0,470.2 473.6,469.4 475.3,465.2 474.1,463.3 471.7,463.0 469.2,465.1 466.9,467.5 467.1,467.9Z" fill="#F8D763" stroke-width="0.95"/>
<path d="M468.9,480.8 467.6,478.4 466.6,477.9 464.8,478.8 464.9,483.6 465.9,483.8 466.8,483.7Z" fill="#FBF8CC" stroke-width="0.95"/>
<path d="M456.9,464.5 454.8,462.9 452.5,461.4 449.6,462.3 449.9,463.0 450.6,464.3 450.9,465.7 452.1,466.8 452.1,468.4 452.1,470.0 453.1,470.6 456.8,467.2Z" fill="#FAB000" stroke-width="0.95"/>
<path d="M481.2,470.4 481.5,469.9 482.4,468.7 482.4,467.3 482.3,465.9 483.1,464.7 483.8,463.4 483.6,462.8 480.9,464.1 478.6,466.1 479.6,469.7Z" fill="#F8D763" stroke-width="0.95"/>
<path d="M449.6,453.2 450.6,450.9 449.8,450.1 448.9,448.7 447.3,449.7 446.3,451.2 446.2,452.9 446.7,454.1 446.9,454.5Z" fill="#F8D763" stroke-width="0.95"/>
<path d="M461.1,462.4 462.9,462.5 464.9,460.0 463.9,456.0 462.7,456.6 461.4,456.2 460.2,455.7 459.1,457.7Z" fill="#F8D763" stroke-width="0.95"/>
<path d="M479.6,469.7 476.4,472.3 476.4,473.2 478.7,475.3 481.1,475.3 480.8,474.0 481.4,472.6 480.7,471.1 481.2,470.4Z" fill="#FBF8CC" stroke-width="0.95"/>
<path d="M461.1,477.8 459.6,479.7 460.1,480.5 461.6,481.2 462.4,482.3 463.9,482.2 464.6,483.5 464.9,483.6 464.8,478.8Z" fill="#FBF8CC" stroke-width="0.95"/>
<path d="M449.6,453.2 451.5,455.8 453.6,458.2 454.0,457.8 455.8,453.9 455.2,453.2 453.5,453.1 452.1,452.4 451.0,451.3 450.6,450.9Z" fill="#F8D763" stroke-width="0.95"/>
<path d="M464.9,460.0 469.1,459.5 470.7,455.5 470.4,455.8 469.1,456.1 467.9,456.5 466.6,456.6 465.2,456.1 463.9,456.0 463.9,456.0Z" fill="#F8D763" stroke-width="0.95"/>
<path d="M478.0,480.0 479.3,479.7 479.5,478.1 480.3,476.9 481.2,475.6 481.1,475.3 478.7,475.3 477.2,478.6Z" fill="#F8D763" stroke-width="0.95"/>
<path d="M471.9,479.2 470.5,477.7 467.6,478.4 468.9,480.8 470.2,481.2Z" fill="#FBF8CC" stroke-width="0.95"/>
<path d="M477.2,478.6 474.5,478.3 473.6,479.3 474.0,482.0 474.9,481.8 476.4,481.1 477.6,480.1 478.0,480.0Z" fill="#F8D763" stroke-width="0.95"/>
<path d="M461.1,477.8 460.3,474.1 457.7,474.0 455.1,474.5 455.3,474.9 456.3,475.8 457.0,477.0 457.9,478.0 459.2,479.0 459.6,479.7Z" fill="#FAB000" stroke-width="0.95"/>
<path d="M470.5,477.7 471.7,474.7 470.9,473.9 466.9,474.7 466.6,477.9 467.6,478.4Z" fill="#F8D763" stroke-width="0.95"/>
<path d="M471.7,474.7 473.7,475.2 476.4,473.2 476.4,472.3 473.6,469.4 471.0,470.2 470.9,473.9Z" fill="#FBF8CC" stroke-width="0.95"/>
<path d="M454.0,457.8 459.1,457.7 460.2,455.7 460.1,455.7 458.6,456.1 457.4,455.4 456.3,454.5 455.8,453.9Z" fill="#F8D763" stroke-width="0.95"/>
<path d="M460.6,473.5 463.4,473.5 466.1,473.8 466.3,470.8 467.1,467.9 466.9,467.5 465.7,467.0 463.1,468.6 460.7,470.6Z" fill="#F8D763" stroke-width="0.95"/>
<path d="M399.6,194.7 397.4,199.2 397.7,202.2 398.7,205.1 398.9,208.1 399.6,211.0 404.0,210.4 408.4,210.2 409.9,212.4 413.3,213.0 416.6,213.7 420.0,214.2 423.2,215.4 429.1,215.4 426.7,213.4 423.9,211.8 421.7,209.5 418.7,208.9 415.8,208.0 414.4,204.1 412.1,200.6 408.7,199.6 405.9,197.5 402.6,196.4Z" fill="#F8D763"/>
<path d="M400.8,191.4 400.5,191.3 400.1,191.2 399.8,191.2 399.4,191.2 399.1,191.2 398.8,191.3 398.4,191.4 398.1,191.5 397.8,191.7 397.5,191.9 397.3,192.1 397.2,192.1 398.1,192.8 398.1,192.9 398.2,192.9 400.9,194.3 400.9,194.3 400.9,194.3 401.0,194.3 401.0,194.3 401.0,194.3 401.0,194.3 404.3,193.8 404.4,193.8 404.4,193.8 404.4,193.8 404.5,193.8 404.5,193.7 404.5,193.7 404.9,193.3 401.1,191.5Z" fill="#F8D763"/>
<path d="M435.0,239.0 438.6,240.8 441.9,242.8 445.3,244.9 448.4,243.7 451.2,241.9 453.6,239.9 455.6,237.5 461.5,237.5 462.7,241.3 464.5,244.9 463.5,249.3 463.0,253.7 461.6,256.9 459.7,259.7 458.6,263.0 446.8,263.0 444.1,260.9 440.9,259.6 440.0,256.1 438.7,252.8 437.9,249.3 438.9,246.4 439.4,243.4 437.5,240.9Z" fill="#F8D763"/>
<path d="M412.9,240.5 416.3,237.8 420.2,236.0 424.7,237.5 428.8,237.2 432.8,236.0 435.0,239.0 437.5,240.9 439.4,243.4 438.9,246.4 437.9,249.3 434.9,250.8 432.0,252.3 430.4,255.9 429.1,259.6 426.3,261.1 423.2,261.9 420.2,263.0 411.4,263.0 410.6,259.0 409.2,255.2 410.8,251.7 411.4,247.8 409.2,244.9Z" fill="#F8D763"/>
<path d="M474.8,214.9 474.6,214.7 474.4,214.4 470.3,210.3 468.8,207.6 467.5,204.8 466.1,202.0 466.0,201.7 465.8,201.5 465.6,201.2 465.3,201.0 465.1,200.8 464.8,200.6 464.5,200.4 464.2,200.3 463.9,200.2 463.6,200.1 462.6,200.0 464.7,205.1 464.7,205.1 464.8,205.2 464.8,205.2 464.8,205.2 467.5,207.5 469.9,210.1 472.2,212.8 474.8,215.2 474.8,215.2 474.8,215.3 475.0,215.4 475.0,215.2Z" fill="#F8D763"/>
<path d="M449.7,222.8 451.2,225.6 452.4,228.6 453.6,231.5 454.1,234.7 455.6,237.5 461.5,237.5 464.3,236.0 466.5,233.6 468.9,231.6 469.7,227.2 470.4,222.8 471.4,219.9 471.9,216.9 469.9,214.4 467.4,212.4 465.6,209.7 464.5,206.5 463.0,203.6 458.5,203.2 454.2,202.1 451.1,203.3 448.3,205.1 447.0,208.5 445.3,211.7 446.8,215.4 448.0,219.2Z" fill="#F8D763"/>
<path d="M436.5,216.1 440.9,214.7 445.3,211.7 446.8,215.4 448.0,219.2 449.7,222.8 451.2,225.6 452.4,228.6 453.6,231.5 454.1,234.7 455.6,237.5 453.6,239.9 451.2,241.9 448.4,243.7 445.3,244.9 441.9,242.8 438.6,240.8 435.0,239.0 432.8,236.0 433.6,232.6 434.7,229.2 435.0,225.7 435.3,222.5 436.0,219.3Z" fill="#F8D763"/>
<path d="M423.2,215.4 429.1,215.4 432.8,215.4 436.5,216.1 436.0,219.3 435.3,222.5 435.0,225.7 434.7,229.2 433.6,232.6 432.8,236.0 428.8,237.2 424.7,237.5 420.2,236.0 421.0,232.6 422.4,229.4 423.2,226.0 424.7,222.8 424.2,219.1Z" fill="#F8D763"/>
<path d="M409.9,212.4 413.3,213.0 416.6,213.7 420.0,214.2 423.2,215.4 424.2,219.1 424.7,222.8 423.2,226.0 422.4,229.4 421.0,232.6 420.2,236.0 416.3,237.8 412.9,240.5 411.4,239.0 410.9,236.0 409.9,233.1 410.0,230.0 408.9,227.2 408.4,224.2 409.4,219.8 409.9,215.4Z" fill="#F8D763"/>
<path d="M248.8,174.8 253.0,175.7 257.3,175.6 258.0,181.0 262.3,181.8 266.5,183.3 270.4,186.4 274.3,184.8 275.8,187.9 279.4,187.4 282.8,186.4 288.6,185.6 288.6,163.3 292.1,163.3 292.1,163.2 292.1,162.9 292.0,162.5 291.9,162.2 291.8,161.9 291.7,161.6 291.5,161.3 291.3,161.0 291.1,160.7 290.8,160.5 290.5,160.3 290.2,160.1 289.9,160.0 289.6,159.9 289.3,159.8 288.9,159.7 288.6,159.7 284.1,159.7 284.1,159.7 283.9,159.4 283.7,159.1 283.4,158.9 279.2,155.4 276.7,152.6 274.8,149.5 274.6,149.3 274.4,149.0 274.1,148.8 273.8,148.6 273.5,148.5 273.2,148.3 272.9,148.2 267.4,146.7 267.1,146.6 266.7,146.6 266.3,146.6 265.9,146.6 265.6,146.7 260.2,148.2 259.8,148.3 259.5,148.5 259.2,148.7 258.9,148.9 258.6,149.1 258.4,149.4 256.6,151.6 254.9,151.3 254.6,151.2 254.2,151.2 253.9,151.2 253.5,151.3 253.2,151.3 252.9,151.5 252.5,151.6 252.2,151.8 252.0,152.0 249.5,153.7 247.3,155.9 247.0,156.2 246.8,156.4 246.5,156.7 246.4,157.0 244.4,160.9 241.5,162.8 238.9,165.0 238.7,165.2 238.4,165.4 238.2,165.7 238.0,166.0 237.8,166.3 237.7,166.6 237.6,166.9 237.5,167.2 237.5,167.6 237.5,167.9 237.5,168.3 237.6,168.6 237.7,168.9 237.8,169.2 238.0,169.5 238.1,169.8 238.3,170.1 238.6,170.3 238.8,170.5 239.1,170.7 239.4,170.9 240.1,171.3 239.9,172.5 239.8,172.8 239.8,173.2 239.8,175.6 239.8,176.0 239.9,176.3 239.9,176.3 243.3,175.9 243.4,175.9 243.4,175.9 243.4,175.9 243.4,175.9 243.5,175.8 243.5,175.8 243.5,175.8 243.5,175.8 243.6,175.8 243.6,175.7 243.6,175.7 243.6,175.7 243.6,175.7 243.6,175.6 243.6,175.6 243.6,175.6Z" fill="#FAB000"/>
<path d="M160.0,235.0 160.0,250.0 162.9,252.3 166.1,254.2 169.4,255.9 172.6,257.8 288.6,257.8 288.6,233.5 258.8,233.5 258.8,216.3 206.4,216.3 209.3,214.9 211.8,213.0 211.8,212.9 211.8,212.9 211.8,212.9 211.8,212.9 211.9,212.8 211.9,212.8 211.9,212.8 203.0,212.8 202.6,212.8 202.2,212.9 201.9,213.0 197.8,214.4 197.7,214.4 194.5,215.2 191.5,216.7 186.9,218.3 186.4,218.5 183.4,219.7 180.6,221.4 176.5,222.4 172.4,223.6 172.1,223.7 171.8,223.8 171.5,224.0 167.8,226.0 164.3,228.3 164.9,228.1 168.8,228.0 172.7,227.4 169.6,229.4 166.2,230.9 163.4,233.5Z" fill="#F7713F"/>
<path d="M143.2,251.8 145.5,257.2 149.1,257.7 152.5,258.7 156.3,262.6 158.8,260.7 161.8,259.5 166.4,261.0 169.5,261.7 172.6,261.8 174.1,257.9 177.2,257.2 180.3,256.4 184.2,253.3 186.5,247.9 191.1,244.8 188.1,243.0 184.9,241.7 182.4,238.8 179.5,236.3 178.8,233.2 178.0,230.1 173.3,227.8 169.0,227.8 164.8,228.6 161.0,230.2 157.1,231.6 155.0,233.7 152.5,235.5 148.9,236.8 145.5,238.6 143.8,241.1 141.6,243.2 142.2,247.5Z" fill="#C00000"/>
<path d="M174.5,224.5 174.2,224.4 173.9,224.4 173.6,224.3 173.3,224.3 173.0,224.3 168.7,224.7 164.5,225.1 164.2,225.2 163.8,225.2 163.5,225.3 159.7,227.0 155.8,228.3 155.5,228.5 155.1,228.7 154.8,228.9 150.6,232.5 147.5,234.3 144.1,235.4 143.8,235.5 143.5,235.7 143.3,235.9 143.0,236.1 142.8,236.3 139.6,240.1 144.8,238.1 144.8,238.1 147.7,236.2 151.0,235.0 151.1,235.0 154.3,233.3 157.2,231.2 161.1,229.8 164.9,228.1 169.1,228.1 173.3,227.3 173.4,227.3 173.4,227.3 177.8,226.1 174.8,224.7Z" fill="#C00000"/>
<path d="M214.9,302.8 211.5,302.6 208.2,302.0 204.8,301.8 201.4,302.4 198.1,301.9 195.0,302.5 191.9,302.7 188.8,302.9 185.7,302.8 184.7,307.2 183.9,311.6 183.2,315.1 183.2,318.7 183.0,322.3 183.0,327.6 183.2,331.2 183.9,334.7 186.5,340.0 185.9,343.5 185.7,347.1 187.3,349.9 189.2,352.5 193.6,352.0 198.1,352.1 198.1,359.6 199.0,363.1 199.0,368.4 194.5,370.2 192.8,373.8 198.1,375.5 201.4,375.0 204.8,374.7 201.3,375.5 198.0,377.1 194.5,378.0 197.0,378.8 197.4,378.9 197.8,379.0 198.1,379.0 198.5,379.0 202.5,378.4 206.5,378.1 206.8,378.0 207.2,377.9 207.5,377.8 207.8,377.7 208.1,377.5 208.3,377.3 208.6,377.1 208.8,376.8 209.0,376.5 209.2,376.2 209.3,375.9 209.5,375.6 209.5,375.6 205.1,374.7 206.1,374.6 206.1,361.0 209.3,360.9 212.5,360.7 215.7,360.8 219.0,361.2 222.2,360.9 225.4,360.2 228.6,360.8 231.8,360.4 232.7,364.0 235.9,364.7 238.9,365.8 240.6,365.4 239.9,365.7 239.8,365.7 239.8,365.8 239.8,365.8 239.8,365.8 239.8,365.8 239.7,365.9 239.7,365.9 239.7,365.9 238.7,369.3 239.0,369.3 239.4,369.3 239.8,369.2 243.4,368.4 246.8,366.9 250.5,366.5 250.9,366.3 254.5,365.3 257.9,363.9 261.2,362.1 264.6,361.4 268.1,361.3 271.5,360.4 271.8,360.3 272.0,360.2 275.4,358.6 279.0,357.6 282.6,356.6 282.8,356.6 286.5,355.5 289.9,353.8 290.2,353.6 290.5,353.4 290.8,353.2 291.0,353.0 291.3,352.7 291.5,352.5 291.7,352.2 291.8,351.9 291.9,351.5 292.0,351.2 292.1,350.8 292.1,350.5 292.1,349.4 289.9,350.2 288.6,350.5 288.6,295.3 216.2,295.3 215.7,299.1Z" fill="#FAB000"/>
<path d="M199.0,302.8 214.9,302.8 217.6,304.5 216.3,307.9 215.8,311.6 216.9,315.6 217.6,319.6 222.9,322.3 221.2,325.8 218.3,324.7 215.7,323.1 213.2,321.4 209.2,320.3 205.2,319.6 201.6,315.2 199.0,313.4Z" fill="#F7713F"/>
<path d="M198.1,334.7 201.1,334.4 204.1,335.3 207.2,334.7 210.2,334.8 213.2,334.8 216.2,334.8 219.2,334.5 222.2,334.4 225.2,335.4 228.3,334.6 231.3,335.3 234.3,334.7 237.3,335.0 240.3,335.1 243.3,334.8 246.4,335.5 249.4,335.0 252.4,334.9 255.4,335.7 258.4,335.3 261.4,335.1 264.5,334.8 267.5,335.1 270.5,335.2 273.5,335.7 276.5,335.1 279.6,335.3 282.6,335.8 285.6,335.2 288.6,335.6 288.6,347.1 279.7,347.1 275.4,346.2 270.9,346.2 267.3,348.0 264.0,348.3 260.8,347.9 257.6,347.5 254.3,347.9 251.1,347.1 247.8,347.1 244.6,346.5 241.3,346.7 238.1,346.3 234.9,346.6 231.7,346.2 228.5,345.3 225.3,345.1 222.0,345.4 221.6,348.5 221.2,351.6 217.9,351.8 214.6,351.7 211.3,351.5 208.0,351.4 204.7,351.8 201.4,351.9 198.1,352.1Z" fill="#F7713F"/>
<path d="M206.1,374.9 205.1,374.7 205.0,374.7 205.0,374.7 205.0,374.7 204.9,374.7 204.9,374.7 202.6,375.4 202.7,375.7 202.7,376.0 202.9,376.3 203.0,376.6 203.2,376.9 203.4,377.2 203.6,377.4 203.8,377.7 204.1,377.9 204.4,378.1 204.7,378.2 205.0,378.3 205.4,378.4 209.1,379.6 212.9,380.6 216.8,380.9 217.1,381.0 220.2,381.2 223.3,382.1 226.4,382.6 229.6,382.5 229.9,382.5 230.3,382.5 230.6,382.4 231.0,382.4 231.3,382.2 231.6,382.1 231.9,381.9 234.2,379.9 237.1,378.9 239.4,376.9 239.7,376.7 240.0,376.5 240.2,376.2 240.4,375.9 240.6,375.6 240.8,375.3 240.9,374.9 241.0,374.6 241.6,370.5 242.4,366.4 242.4,366.1 242.4,365.7 242.4,365.4 242.3,365.0 242.2,364.7 242.2,364.6 239.9,365.7 239.8,365.7 239.8,365.8 239.8,365.8 239.8,365.8 239.8,365.8 239.7,365.9 239.7,365.9 239.7,365.9 238.8,368.8 237.9,371.8 238.4,368.8 238.9,365.8 235.9,364.7 232.7,364.0 231.8,360.4 228.6,360.8 225.4,360.2 222.2,360.9 219.0,361.2 215.7,360.8 212.5,360.7 209.3,360.9 206.1,361.0Z" fill="#F8D763"/>
<path d="M288.6,205.1 299.2,205.1 299.2,197.4 304.6,197.4 304.6,201.2 307.9,200.6 311.4,201.1 314.7,200.5 314.7,195.8 320.1,195.1 320.9,189.6 323.2,185.0 324.0,180.0 322.4,176.8 320.1,173.9 320.1,170.8 319.5,167.7 319.3,164.6 317.8,159.9 316.2,156.8 317.5,154.0 318.2,151.0 319.6,148.2 320.1,145.2 316.2,145.2 313.2,146.8 313.7,150.3 313.9,153.8 311.6,153.0 310.8,147.6 306.2,146.8 301.6,145.2 300.3,145.2 300.3,145.2 300.3,145.1 300.3,145.1 300.3,145.1 299.0,141.8 298.7,141.9 298.4,142.1 298.2,142.2 294.3,144.6 294.0,144.8 293.7,145.1 293.4,145.3 293.2,145.6 293.0,145.9 292.9,146.3 291.5,149.3 290.8,152.6 289.1,155.5 289.0,155.8 288.9,156.1 288.8,156.4 288.8,156.7 288.8,157.1 288.8,157.4 288.9,157.7 289.0,158.0 289.6,159.5 288.6,159.5 288.3,159.5 287.9,159.6 287.6,159.7 287.3,159.8 287.0,159.9 286.7,160.1 286.4,160.3 286.1,160.5 285.9,160.8 285.7,161.1 285.5,161.4 285.4,161.7 285.3,162.0 285.2,162.3 285.1,162.7 285.1,163.0 285.1,163.4 288.5,163.3 288.6,163.3Z" fill="#FBF8CC"/>
<path d="M316.2,156.8 320.9,155.3 325.5,158.4 324.7,163.8 319.3,164.6 319.5,167.7 320.1,170.8 320.1,173.9 322.4,176.8 324.0,180.0 327.2,182.3 330.9,183.9 334.0,187.8 338.3,187.4 342.5,186.2 344.9,183.1 349.5,180.8 351.0,186.2 354.1,185.6 357.2,184.7 360.3,189.3 363.8,190.3 367.4,190.8 371.1,190.9 375.3,191.9 379.5,192.4 379.5,182.0 376.7,180.5 374.2,178.5 371.5,175.8 368.3,173.8 371.3,176.1 374.8,177.7 377.4,179.8 379.8,182.1 379.8,182.1 379.8,182.2 379.9,182.2 383.0,183.6 383.0,182.0 383.0,181.7 382.9,181.3 382.8,181.0 382.7,180.7 382.6,180.3 382.4,180.0 382.2,179.8 382.0,179.5 381.7,179.3 381.4,179.1 379.0,177.1 376.3,175.7 373.6,173.9 371.3,171.6 368.7,169.6 366.1,167.6 363.8,165.2 361.0,163.4 357.4,160.3 358.3,157.0 358.3,156.7 358.4,156.4 358.4,156.1 358.4,155.7 358.3,155.4 358.2,155.1 358.1,154.8 358.0,154.5 357.8,154.2 357.6,153.9 357.4,153.7 357.2,153.4 355.7,152.2 354.6,155.9 350.3,152.2 350.3,144.5 347.2,142.2 343.6,142.2 340.1,142.9 336.5,142.1 332.9,142.5 329.4,142.9 327.8,145.2 320.1,145.2 319.6,148.2 318.2,151.0 317.5,154.0Z" fill="#FBF8CC"/>
<path d="M296.9,139.8 296.7,140.1 296.6,140.4 296.6,140.8 296.5,141.1 296.5,141.4 296.5,141.8 296.6,142.1 296.7,142.4 296.8,142.8 298.4,146.6 300.2,145.5 300.2,145.4 300.2,145.4 300.2,145.4 300.2,145.4 300.3,145.3 300.3,145.3 300.3,145.3 300.3,145.3 300.3,145.2 300.3,145.2 300.3,145.2 300.3,145.1 300.3,145.1 300.3,145.1 298.9,141.5 301.1,139.3 303.3,137.0 308.6,135.5 308.6,135.5 308.6,135.5 308.7,135.5 308.7,135.4 308.7,135.4 308.7,135.4 308.7,135.4 308.8,135.4 308.8,135.3 308.8,135.3 308.8,135.3 309.5,132.5 313.8,133.6 313.9,133.6 313.9,133.6 313.9,133.6 319.3,133.2 319.4,133.2 319.4,133.2 319.4,133.2 319.4,133.2 319.5,133.2 322.1,131.5 322.0,131.4 321.8,131.2 321.6,130.9 321.3,130.7 321.0,130.5 320.7,130.4 320.3,130.3 320.0,130.2 319.6,130.1 319.3,130.1 313.9,130.1 313.5,130.1 313.2,130.2 312.8,130.3 312.5,130.4 312.2,130.6 311.9,130.8 307.4,134.0 303.1,134.0 302.8,134.0 302.4,134.1 302.1,134.2 301.7,134.3 301.4,134.4 301.1,134.6 300.8,134.8 300.6,135.1 300.4,135.3 297.3,139.2 297.1,139.5Z" fill="#F7713F"/>
<path d="M301.6,145.2 306.2,146.8 310.8,147.6 311.6,153.0 313.9,153.8 313.7,150.3 313.2,146.8 316.2,145.2 319.3,143.7 318.6,139.1 319.3,133.6 313.9,133.6 311.2,135.6 308.5,137.5 303.1,137.5 300.0,141.4Z" fill="#F7713F"/>
<path d="M308.5,139.1 310.8,139.1 310.8,133.6 309.2,133.6 309.5,132.5 313.8,133.6 313.9,133.6 313.9,133.6 313.9,133.6 314.3,133.6 314.3,133.3 314.2,132.9 314.1,132.6 314.0,132.3 313.9,132.0 313.7,131.7 313.5,131.4 313.3,131.1 313.0,130.9 312.7,130.7 312.4,130.5 312.1,130.4 311.8,130.3 311.5,130.2 311.1,130.1 310.8,130.1 308.5,130.1 308.2,130.1 307.8,130.2 307.5,130.3 307.2,130.4 306.9,130.5 306.6,130.7 306.3,130.9 306.0,131.1 305.8,131.4 305.6,131.7 305.4,132.0 305.3,132.3 305.2,132.6 305.1,132.9 305.0,133.3 305.0,133.6 305.0,136.5 308.5,135.5Z" fill="#FAB000"/>
<path d="M308.3,140.0 310.6,140.0 310.6,143.0 308.3,143.0Z" fill="#F8D763"/>
<path d="M347.2,142.2 350.3,144.5 350.3,152.2 354.6,155.9 354.6,156.0 354.6,156.0 353.7,159.4 353.8,159.4 354.2,159.5 354.5,159.6 354.9,159.6 355.2,159.6 355.6,159.5 355.9,159.5 356.2,159.3 356.5,159.2 356.8,159.0 357.1,158.8 357.4,158.6 357.6,158.3 357.8,158.0 358.0,157.7 358.1,157.4 358.3,157.1 359.8,153.5 360.4,149.7 363.0,145.2 367.2,141.8 367.5,141.6 367.8,141.3 368.0,140.9 369.5,137.6 371.8,134.7 371.9,134.4 372.1,134.1 372.2,133.8 372.3,133.5 372.3,133.1 372.3,132.8 372.3,132.5 372.2,132.1 372.1,131.8 372.0,131.5 371.8,131.2 371.7,130.9 368.7,126.7 369.4,123.6 369.9,120.4 370.0,120.0 370.0,119.7 370.0,119.3 369.9,119.0 369.8,118.7 369.7,118.3 369.6,118.0 369.4,117.7 369.2,117.5 369.0,117.2 368.7,117.0 368.4,116.8 368.1,116.6 367.8,116.5 367.5,116.3 367.1,116.3 366.8,116.2 366.5,116.2 366.1,116.2 365.8,116.3 365.4,116.4 365.1,116.5 364.8,116.6 364.5,116.8 364.2,117.0 364.0,117.3 363.8,117.5 362.2,120.2 359.7,122.2 358.0,124.8 354.4,126.3 351.4,128.7 346.7,129.4 346.4,129.5 346.0,129.6 345.7,129.7 345.4,129.9 345.2,130.1 344.9,130.3 344.7,130.5 344.4,130.7 344.3,131.0 344.1,131.3 343.9,131.6 343.9,131.8 347.1,133.2 347.1,133.2 347.1,133.2 347.2,133.2 347.2,133.2 347.2,133.2Z" fill="#FAB000"/>
<path d="M288.6,253.0 317.8,253.0 320.1,251.5 322.4,253.0 326.1,253.2 329.8,253.4 333.4,253.3 337.1,253.8 341.0,256.1 342.5,260.8 346.1,259.5 349.5,257.7 352.7,259.0 355.7,260.8 357.1,263.6 358.8,266.2 362.6,264.5 366.5,263.1 369.8,262.7 372.9,261.8 376.3,262.2 379.5,261.5 379.5,287.4 288.6,287.4Z" fill="#FBF8CC"/>
<path d="M379.5,199.2 381.7,201.6 382.8,204.8 384.8,207.3 388.5,206.5 391.4,208.0 394.4,209.5 395.7,212.4 396.6,215.4 397.6,211.9 398.1,208.8 398.5,205.7 398.9,202.6 398.2,199.4 398.3,196.2 398.4,193.0 400.9,194.3 400.9,194.3 400.9,194.3 401.0,194.3 401.0,194.3 401.0,194.3 401.0,194.3 401.9,194.2 401.8,191.8 401.8,191.5 401.7,191.1 401.6,190.8 401.5,190.5 401.3,190.2 401.1,189.9 400.9,189.7 400.7,189.4 400.4,189.2 397.9,186.9 394.8,185.6 392.4,183.2 392.1,183.0 391.8,182.8 386.5,180.3 386.4,180.3 383.7,178.9 380.9,177.8 380.6,177.7 380.3,177.6 379.9,177.5 379.6,177.5 379.2,177.5 378.9,177.6 378.6,177.6 378.2,177.7 377.9,177.9 377.6,178.1 377.3,178.3 377.1,178.5 376.8,178.7 376.6,179.0 376.5,179.2 379.5,181.9Z" fill="#FBF8CC"/>
<path d="M379.5,199.2 381.7,201.6 382.8,204.8 384.8,207.3 388.5,206.5 391.4,208.0 394.4,209.5 395.7,212.4 396.6,215.4 395.2,218.3 397.6,220.4 399.6,222.8 397.4,227.9 392.2,229.4 389.6,231.2 387.1,233.1 381.9,230.9 379.5,234.6Z" fill="#F7713F"/>
<path d="M399.6,211.0 404.0,210.6 408.4,210.2 409.9,215.4 409.4,219.8 408.4,224.2 409.1,227.2 409.3,230.2 409.8,233.2 411.0,236.0 411.4,239.0 410.6,242.1 409.2,244.9 395.2,244.9 393.3,242.1 392.2,239.0 393.8,236.1 395.2,233.1 397.4,227.9 399.6,222.8 397.6,220.4 395.2,218.3 396.6,215.4 399.6,214.7Z" fill="#FAB000"/>
<path d="M379.5,234.6 381.9,230.9 387.1,233.1 389.6,231.2 392.2,229.4 395.2,233.1 393.8,236.1 392.2,239.0 393.3,242.1 395.2,244.9 409.2,244.9 411.4,247.8 410.8,251.7 409.2,255.2 406.4,256.5 403.4,257.4 400.7,258.7 398.1,260.4 394.4,260.1 390.8,260.0 387.1,259.6 383.1,260.8 379.5,263.0Z" fill="#FAB000"/>
<path d="M412.9,193.3 415.8,192.0 418.8,191.1 421.0,193.7 423.2,196.2 425.4,198.9 426.9,202.1 429.8,204.7 432.0,208.0 432.5,211.0 433.5,213.9 429.1,215.4 426.7,213.4 423.9,211.8 421.7,209.5 418.8,208.4 415.8,208.0 413.8,204.4 412.1,200.6 412.1,196.9Z" fill="#FBF8CC"/>
<path d="M423.2,196.2 426.1,195.0 429.0,193.6 432.0,192.5 434.9,193.1 438.0,193.0 440.9,194.0 443.9,196.5 446.8,199.2 447.4,202.2 448.3,205.1 447.0,208.5 445.3,211.7 440.9,214.7 437.2,214.7 433.5,213.9 432.5,211.0 432.0,208.0 429.8,204.7 426.9,202.1 425.4,198.9Z" fill="#FBF8CC"/>
<path d="M421.2,125.0 420.1,128.7 419.0,132.5 420.0,136.2 420.5,140.0 420.1,143.3 420.6,146.5 420.2,149.8 421.3,153.0 421.1,156.2 421.0,159.5 420.7,162.8 421.0,166.0 424.3,167.4 427.5,169.0 428.6,171.9 429.0,175.0 432.2,174.9 435.2,176.1 438.4,176.5 441.6,176.2 444.7,177.1 447.8,177.6 451.0,177.5 453.6,175.2 454.8,178.8 456.1,177.6 456.4,177.4 456.6,177.1 456.8,176.9 456.9,176.6 457.1,176.3 457.2,176.0 457.2,175.7 457.3,175.3 457.3,175.0 457.3,162.5 457.3,162.1 457.2,161.8 457.1,161.5 457.0,161.1 456.9,160.8 456.7,160.5 456.5,160.2 456.2,160.0 456.0,159.7 455.7,159.5 452.6,157.0 449.1,155.2 445.7,153.2 445.6,153.2 440.8,150.4 440.3,147.0 440.0,143.6 439.9,143.4 439.6,139.7 438.6,136.1 438.6,135.8 438.5,135.5 438.4,135.2 438.2,134.9 436.2,132.0 434.7,128.8 432.3,124.0 431.0,118.2 430.9,117.9 430.8,117.6 430.6,117.3 430.5,117.0 428.4,114.0 428.2,113.7 427.9,113.5 427.7,113.2 427.4,113.1 427.1,112.9 426.8,112.7 426.4,112.6 426.1,112.6 423.3,112.1 423.0,112.0 422.6,112.0 422.3,112.0 421.9,112.1 421.6,112.2 421.3,112.3 421.0,112.5 420.7,112.6 420.4,112.9 420.1,113.1 419.9,113.4 419.7,113.7 419.6,114.0 419.4,114.3 419.3,114.6 419.2,115.0 418.4,118.0 417.8,121.1 417.8,124.2 416.9,127.9 415.6,131.5 415.6,131.8 415.5,132.2 415.5,132.5 415.5,132.9 415.6,133.2 416.6,136.7 417.0,140.4 417.1,145.3 417.5,140.0 417.5,140.0 417.8,135.1 418.4,131.6 420.1,128.5 420.9,125.1 420.9,125.1 421.9,120.4Z" fill="#FBF8CC"/>
<path d="M415.5,165.0 421.0,166.0 420.7,162.8 421.0,159.5 421.1,156.2 421.3,153.0 420.2,149.8 420.6,146.5 420.1,143.3 420.5,140.0 417.5,140.0 417.7,136.5 416.0,136.5 415.7,136.5 415.3,136.6 415.0,136.6 414.7,136.8 414.4,136.9 414.1,137.1 413.8,137.3 413.5,137.5 413.3,137.7 413.1,138.0 412.9,138.3 412.8,138.6 412.7,138.9 412.6,139.3 412.5,139.6 412.5,139.9 412.5,143.0 412.3,146.2 412.5,149.3 412.0,152.4 412.5,155.5 412.2,158.7 412.6,161.8 412.0,164.9 412.0,165.3 412.1,165.6 412.1,166.0 412.3,166.3 412.4,166.6 412.6,166.9 412.8,167.2 413.0,167.5 413.3,167.7 413.6,167.9 413.9,168.1 414.2,168.2 414.5,168.4 414.9,168.4 415.0,168.5 415.3,166.7 415.3,166.6 415.5,164.2Z" fill="#FBF8CC"/>
<path d="M419.5,134.0 420.0,137.5 423.5,137.5Z" fill="#F7713F"/>
<path d="M419.0,130.5 418.6,130.6 418.3,130.7 418.0,130.8 417.7,131.0 417.4,131.2 417.1,131.4 416.9,131.7 416.7,131.9 416.5,132.2 416.3,132.5 416.2,132.8 416.1,133.1 416.0,133.5 416.0,133.8 416.0,134.2 416.0,134.5 416.5,138.0 416.6,138.3 416.7,138.6 416.8,139.0 417.0,139.2 417.1,139.5 417.4,139.8 417.5,139.9 417.8,135.1 419.2,130.5Z" fill="#F7713F"/>
<path d="M470.0,238.8 473.6,236.9 476.7,234.4 480.0,232.2 483.2,231.3 486.6,231.1 489.3,234.0 491.6,237.1 494.4,239.9 495.9,243.9 497.7,247.7 494.7,250.3 492.2,253.3 489.3,254.1 486.6,255.5 483.7,253.4 481.1,251.0 477.9,253.5 474.4,255.5 470.3,257.0 466.0,257.7 464.9,254.7 463.1,252.0 462.8,248.7 461.0,246.0 464.0,241.0 467.1,240.1Z" fill="#F7713F"/>
<path d="M474.4,255.5 477.9,253.5 481.1,251.0 483.7,253.4 486.6,255.5 489.3,254.1 492.2,253.3 494.5,255.4 496.6,257.8 498.8,259.9 501.1,264.3 499.1,267.5 497.7,271.0 493.3,274.3 491.0,276.4 488.9,278.8 486.1,276.6 483.3,274.3 480.0,272.7 476.7,271.0 472.9,270.1 469.0,270.0 471.1,266.4 472.5,262.5 473.8,259.1Z" fill="#F7713F"/>
<path d="M501.1,264.3 506.6,263.2 508.4,265.9 509.9,268.8 507.8,271.6 505.5,274.3 505.5,284.3 501.8,284.8 498.1,285.2 494.4,285.4 492.7,281.6 491.1,277.7 493.3,274.3 497.7,271.0 499.1,267.5Z" fill="#FAB000"/>
<path d="M486.6,231.1 489.3,234.0 491.6,237.1 494.4,239.9 493.9,236.9 493.4,233.9 494.7,236.3 494.8,236.4 494.8,236.4 494.8,236.4 497.9,239.5 497.9,239.3 497.1,236.0 496.8,232.7 496.7,232.4 496.6,232.0 496.4,231.7 496.2,231.4 496.0,231.1 493.4,227.5 490.4,224.4 490.2,224.1 489.9,223.9 489.6,223.7 489.4,223.5 489.0,223.4 488.7,223.3 488.4,223.2 488.1,223.1 487.7,223.1 487.5,223.1 489.5,226.1 490.6,229.6 492.6,232.5 489.8,229.8 487.7,226.6 483.3,230.0Z" fill="#FAB000"/>
<path d="M511.0,267.7 514.3,270.0 517.7,272.1 520.9,268.9 523.4,271.3 523.5,271.3 523.7,271.0 523.9,270.7 524.1,270.5 524.2,270.1 524.3,269.8 524.4,269.5 524.5,269.2 524.5,268.8 524.5,268.5 524.4,268.1 524.4,267.8 524.2,267.5 524.1,267.2 523.9,266.9 523.7,266.6 523.5,266.3 521.2,264.1 519.4,261.6 516.8,259.7 514.7,257.4 514.4,257.2 514.2,257.0 513.9,256.8 513.6,256.7 513.3,256.6 513.0,256.5 512.6,256.4 512.3,256.4 512.0,256.4 511.7,256.4 513.2,259.3 514.6,262.3 512.2,259.9 507.7,263.2Z" fill="#FAB000"/>
<path d="M449.0,267.7 452.9,265.7 457.1,264.7 460.8,264.0 464.5,268.4 466.9,270.5 468.9,273.0 471.9,275.8 468.9,277.1 466.0,278.8 462.4,280.8 458.6,282.4 454.2,280.2 451.7,277.9 449.7,275.1 447.5,270.6Z" fill="#FBF8CC"/>
<path d="M506.6,274.3 510.1,273.0 513.3,271.0 516.2,273.0 519.3,274.5 522.1,276.5 523.1,279.8 523.3,283.2 520.0,285.4 516.6,287.6 512.8,286.0 508.8,285.4 507.2,282.6 505.5,279.9Z" fill="#FBF8CC"/>
<path d="M443.8,306.0 446.6,304.2 449.7,303.1 453.4,298.7 458.6,298.7 461.5,299.6 464.5,300.1 466.9,302.6 468.9,305.3 471.1,309.0 469.7,313.4 468.9,317.1 468.9,321.0 446.8,321.0 447.9,317.3 448.3,313.4 446.1,311.9 445.2,308.8Z" fill="#FBF8CC"/>
<path d="M471.1,309.0 476.0,306.5 479.2,306.1 482.4,305.6 485.7,306.0 488.9,305.4 492.2,305.4 492.2,321.0 468.9,321.0 468.9,317.1 469.7,313.4Z" fill="#FBF8CC"/>
<path d="M441.0,349.0 443.4,347.1 445.8,345.3 447.6,342.8 450.0,341.0 453.5,341.3 457.0,341.6 460.5,342.4 464.0,342.5 464.1,346.3 465.0,350.0 465.6,353.2 465.7,356.4 466.6,359.6 467.1,362.8 467.5,366.0 463.7,366.6 460.0,367.5 457.3,364.0 454.0,361.0 451.6,359.1 449.1,357.3 446.3,356.1 444.0,354.0Z" fill="#FAB000"/>
<path d="M409.6,321.4 444.2,321.4 443.2,324.4 442.1,327.4 441.7,331.0 441.6,334.6 435.9,334.6 432.9,336.0 429.7,336.6 427.2,340.8 426.6,344.9 427.1,348.1 428.2,351.1 426.2,353.5 424.6,356.2 421.0,360.4 422.5,364.5 418.9,365.3 415.3,366.5 411.2,368.6 409.6,368.6Z" fill="#F8D763"/>
<path d="M429.7,336.6 432.9,336.0 435.9,334.6 441.6,334.6 443.7,336.9 446.2,338.7 446.2,342.8 441.1,345.9 444.7,350.6 443.1,354.2 445.8,356.7 448.3,359.3 449.2,362.5 450.4,365.5 446.2,367.6 443.2,366.5 440.1,365.5 437.0,365.2 433.9,364.5 428.7,362.4 425.5,363.2 422.5,364.5 421.0,360.4 424.6,356.2 426.2,353.5 428.2,351.1 427.1,348.1 426.6,344.9 427.2,340.8Z" fill="#F8D763"/>
<path d="M444.2,321.4 464.3,321.4 465.1,324.9 465.8,328.4 464.3,333.6 464.4,336.7 464.8,339.7 461.2,339.7 456.5,342.3 451.9,340.3 449.1,341.7 446.2,342.8 446.2,338.7 443.7,336.9 441.6,334.6 441.7,331.0 442.1,327.4 443.2,324.4Z" fill="#F8D763"/>
<path d="M379.2,258.8 382.8,258.6 386.3,258.1 390.7,256.6 394.4,258.4 398.1,260.3 402.0,258.4 405.5,255.9 409.6,255.9 411.5,258.7 412.9,261.8 415.8,263.4 418.8,264.7 416.0,266.8 414.2,270.0 411.4,272.1 407.0,273.6 407.3,278.0 407.7,282.4 409.6,287.3 379.2,287.3Z" fill="#F8D763"/>
<path d="M411.4,272.1 414.2,270.0 416.0,266.8 418.8,264.7 421.1,262.6 423.2,260.3 428.4,261.1 430.0,265.2 432.0,269.2 435.0,272.1 439.4,275.1 441.6,279.5 438.2,280.3 435.0,281.7 430.6,283.9 427.7,284.6 424.7,284.9 421.7,285.4 421.2,288.4 420.2,291.3 416.6,294.2 413.7,295.1 410.7,295.7 410.4,291.5 409.6,287.3 407.7,282.4 407.3,278.0 407.0,273.6Z" fill="#F8D763"/>
<path d="M428.4,261.1 429.6,256.9 431.3,252.9 434.5,251.3 437.9,250.0 446.8,250.0 447.6,252.9 448.4,255.8 449.0,258.8 449.0,267.7 447.5,270.6 449.7,275.1 445.3,275.1 441.6,279.5 439.4,275.1 435.0,272.1 432.0,269.2 430.0,265.2Z" fill="#F8D763"/>
<path d="M409.6,255.9 410.1,252.9 410.7,250.0 414.2,250.0 417.6,250.4 421.1,251.0 424.4,252.5 427.9,252.0 431.3,252.9 429.6,256.9 428.4,261.1 423.2,260.3 421.1,262.6 418.8,264.7 415.8,263.4 412.9,261.8 411.5,258.7Z" fill="#F8D763"/>
<path d="M416.6,294.2 420.2,291.3 421.2,288.4 421.7,285.4 424.7,284.9 427.7,284.6 430.6,283.9 435.0,281.7 438.2,280.3 441.6,279.5 445.3,275.1 449.7,275.1 451.7,277.9 454.2,280.2 454.9,285.4 454.0,288.3 453.2,291.2 452.7,294.2 453.4,298.7 449.7,303.1 446.6,304.2 443.8,306.0 439.4,304.6 435.9,303.7 432.4,302.9 429.1,301.6 426.7,299.6 424.7,297.2 420.8,295.3Z" fill="#F8D763"/>
<path d="M410.7,295.7 413.7,295.1 416.6,294.2 420.8,295.3 424.7,297.2 426.7,299.6 429.1,301.6 432.4,302.9 435.9,303.7 439.4,304.6 443.8,306.0 444.8,309.0 446.1,311.9 445.9,315.0 445.3,318.0 445.3,321.1 409.6,321.1 409.6,287.3 410.4,291.5Z" fill="#F8D763"/>
<path d="M505.1,363.9 507.9,361.6 511.0,359.9 513.9,357.7 516.3,360.4 513.4,362.6 509.9,363.9 507.1,366.3Z" fill="#F7713F"/>
<path d="M500.6,365.3 504.5,363.5 506.3,366.8 505.9,369.8 505.5,372.8 501.5,373.2 500.2,369.0Z" fill="#FAB000"/>
<path d="M508.9,383.9 509.3,383.8 509.6,383.7 509.9,383.6 510.2,383.4 510.5,383.2 510.8,383.0 511.0,382.7 511.2,382.5 511.4,382.2 511.6,381.9 511.7,381.6 511.8,381.2 511.9,380.9 511.9,380.6 512.1,376.1 512.1,375.9 509.7,379.8 509.7,379.9 509.7,379.9 509.7,379.9 508.9,383.9Z" fill="#FAB000"/>
<path d="M503.4,375.7 503.8,380.2 508.4,380.4 508.6,375.9Z" fill="#FAB000"/>
</g>
<g stroke="#111" stroke-width="0.85" fill="none" stroke-linejoin="round" clip-path="url(#land)">
<path d="M178.0,230.1 180.2,228.0 181.9,225.5 184.8,223.6 188.0,222.4 192.7,220.8 191.1,223.9 189.6,227.0 186.5,230.1 186.5,233.3 187.1,236.4 188.0,239.4 189.2,242.3 191.1,244.8"/>
<path d="M227.9,183.0 227.9,195.7 229.5,198.8 231.4,201.6 232.5,204.9 232.4,208.7 232.2,212.5 231.8,216.3"/>
<path d="M258.0,181.0 260.6,182.8 263.3,184.4 265.8,186.4 263.5,188.8 261.9,191.7 259.6,194.1 262.7,198.8 260.0,201.1 257.3,203.4 259.8,206.7 262.7,209.6 260.3,212.7 258.8,216.3"/>
<path d="M244.6,257.8 244.6,295.3"/>
<path d="M205.2,335.6 207.9,338.6 210.9,341.2 213.2,344.5 217.2,345.4 221.2,346.2"/>
<path d="M222.9,321.4 288.6,321.4"/>
<path d="M183.0,327.6 185.9,328.7 188.6,330.3 191.5,331.1 194.5,332.0 198.1,334.7 201.1,335.1 204.1,334.1 207.1,334.1 210.2,335.0 213.2,334.1 216.2,334.3 219.2,334.1 222.2,334.2 225.2,334.6 228.3,334.8 231.3,334.0 234.3,334.8 237.3,334.1 240.3,334.6 243.3,334.0 246.4,333.9 249.4,334.0 252.4,334.1 255.4,334.0 258.4,334.1 261.4,334.5 264.5,334.5 267.5,333.9 270.5,333.8 273.5,334.4 276.5,333.6 279.6,334.0 282.6,334.2 285.6,334.0 288.6,333.8"/>
<path d="M199.0,313.4 196.3,316.1 193.6,320.5 189.8,322.3 185.7,323.2 183.0,322.3"/>
<path d="M198.1,352.1 198.1,363.1 206.1,363.1"/>
<path d="M231.8,360.4 228.6,360.8 225.4,360.8 222.2,360.2 218.9,360.5 215.8,361.2 212.5,360.5 209.3,360.8 206.1,361.0"/>
<path d="M316.2,156.8 317.8,159.9 319.3,164.6 324.7,163.8 325.5,158.4 320.9,155.3 316.2,156.8"/>
<path d="M319.3,133.6 318.6,139.1 319.3,143.7"/>
<path d="M319.3,201.2 319.3,222.9 321.6,226.0 324.6,228.4 327.1,231.4 331.7,231.4 331.7,228.3 335.6,228.3 335.6,236.0 338.9,238.0 342.5,239.1 344.9,243.8 345.6,248.4 347.2,244.5 351.0,244.5 351.0,248.4 359.5,248.4 359.5,243.8 362.9,243.8 366.1,242.7 369.6,243.1 372.8,242.1 376.2,241.9 379.5,241.4"/>
<path d="M288.6,287.4 409.6,287.4"/>
<path d="M329.7,287.4 330.4,291.2 330.7,295.0 333.6,295.8 336.7,296.0 335.8,299.0 334.7,302.0 335.5,304.9 335.7,308.0 332.6,309.4 329.7,311.2 329.7,337.7 326.5,337.4 323.4,338.5 320.2,338.4 317.0,337.9 313.9,338.9 310.7,338.8 307.6,338.2 304.4,338.4 301.3,339.5 298.1,339.7 294.9,339.4 291.8,340.0 288.6,339.6"/>
<path d="M288.6,311.2 329.7,311.2"/>
<path d="M313.4,328.7 318.8,328.7 318.8,335.7 313.4,335.7 313.4,328.7"/>
<path d="M409.6,287.4 409.6,421.0"/>
<path d="M379.5,287.4 379.5,181.5"/>
<path d="M409.6,320.7 490.0,320.7 493.4,321.1 496.6,322.7 500.0,323.0 503.2,321.8 506.7,321.9 510.0,321.0 513.2,322.5 516.8,322.6 520.0,324.0 523.4,323.6 526.6,322.2 530.0,322.0 537.0,322.0"/>
<path d="M288.6,160.0 288.6,352.0"/>
<path d="M385.0,191.3 389.0,191.3 389.0,197.3 385.0,197.3 385.0,191.3"/>
<path d="M509.5,367.5 513.0,364.0 516.5,362.5 518.8,364.8 516.0,370.5 514.0,375.5 511.5,379.5 509.0,377.5 510.5,372.5Z" fill="#17100a" stroke-width="0.6"/>
<path d="M449.8,419.0 452.5,417.8 455.0,420.5 455.5,424.5 453.5,426.3 451.8,423.0 450.0,421.5Z" fill="#17100a" stroke-width="0.6"/>
<path d="M531.0,301.5 533.5,300.5 534.8,303.5 533.8,306.5 531.5,306.0 530.8,303.5Z" fill="#17100a" stroke-width="0.6"/>
<path d="M153.2,352.2 155.2,352.0 155.8,355.5 154.3,357.5 153.0,355.5Z" fill="#17100a" stroke-width="0.6"/>
<path d="M384.6,386.3 386.8,386.0 387.8,389.0 386.3,391.3 384.6,389.5Z" fill="#17100a" stroke-width="0.6"/>
</g>
<path d="M288.5,163.0 290.0,162.9 291.6,163.9 293.1,163.0 294.6,163.0 293.5,162.0 293.9,160.4 292.4,159.6 291.9,158.3 292.3,156.8 293.6,155.8 294.4,154.6 294.2,153.0 293.2,151.0 295.1,150.3 294.9,148.7 296.1,147.6 296.9,145.9 298.6,145.9 300.0,145.2 299.5,143.9 299.0,142.7 298.5,141.4 299.4,140.4 301.1,140.3 301.8,139.1 301.9,137.4 303.1,136.7 304.2,135.5 306.0,136.5 307.4,136.3 308.5,135.2 309.9,133.9 309.3,132.1 311.1,131.4 312.1,133.8 313.9,133.3 315.3,134.2 316.5,132.2 318.0,133.6 319.3,132.9 320.0,131.3 322.3,132.2 323.0,130.5 323.0,128.8 323.0,127.2 325.7,126.9 325.8,125.3 324.6,125.0 323.2,125.6 322.0,124.8 320.2,125.1 318.8,123.8 319.5,121.8 320.5,120.5 321.9,120.3 323.8,121.3 324.7,119.9 326.1,120.4 327.4,121.1 327.8,123.2 329.4,123.4 331.1,123.5 332.2,124.5 332.8,126.4 334.8,126.0 335.6,127.5 337.2,127.3 338.3,128.2 339.4,129.1 340.1,130.9 341.8,130.6 343.1,131.3 344.8,131.1 345.5,133.2 347.2,132.9 348.5,132.2 350.0,133.0 351.1,131.6 352.6,132.1 354.1,132.2 354.6,130.5 355.4,129.3 356.7,129.0 357.8,128.4 359.3,128.3 360.3,127.5 360.5,126.0 361.1,124.8 362.8,124.5 363.7,123.5 364.3,122.3 366.1,121.6 366.5,119.7 367.4,121.3 366.4,122.6 366.0,124.0 366.5,125.4 365.4,126.6 365.4,128.0 366.5,129.1 366.2,131.1 367.6,131.9 368.8,132.9 369.2,134.9 368.2,135.9 366.1,136.4 366.7,138.4 365.0,139.1 363.9,140.1 362.9,141.3 362.1,142.7 360.3,142.9 359.1,144.0 358.3,145.3 357.4,146.6 357.2,148.3 357.1,149.7 355.6,150.7 356.2,152.2 354.9,153.3 355.0,154.7 354.9,156.1 354.4,157.4 355.0,159.1 352.7,159.9 353.4,161.5 354.1,162.8 355.2,163.7 356.7,164.2 358.3,164.5 358.8,166.1 360.6,166.2 361.0,167.8 362.0,168.9 363.1,169.7 364.6,170.2 365.5,171.3 366.5,172.3 367.9,172.8 368.7,174.1 370.2,174.5 371.4,175.1 372.7,175.8 373.6,177.0 375.0,177.5 375.8,178.7 376.9,179.3 378.2,179.9 378.8,181.3 380.0,181.9 381.2,182.7 382.6,182.8 383.8,183.6 385.0,184.2 386.4,184.5 387.6,185.5 389.1,185.8 390.3,186.6 391.1,187.7 392.8,187.4 393.1,189.3 394.5,189.5 395.6,190.7 397.1,191.4 398.3,192.6 399.9,192.9 401.0,194.0 402.6,193.7 404.3,193.5 405.9,192.5 407.0,191.0 407.6,189.7 409.0,189.3 409.6,188.0 410.1,186.7 410.8,185.4 411.0,184.0 411.6,182.7 411.8,181.3 411.7,179.8 412.8,178.7 413.0,177.3 413.0,175.9 413.7,174.7 413.9,173.3 413.9,171.9 415.0,170.8 414.9,169.3 414.4,167.9 415.0,166.6 415.2,165.3 415.1,163.9 415.7,162.6 415.9,161.3 415.8,160.0 415.9,158.6 416.0,157.3 415.7,155.9 416.6,154.7 416.2,153.3 416.3,152.0 416.2,150.6 416.9,149.3 416.2,147.9 416.8,146.7 416.8,145.3 417.4,144.0 417.3,142.7 416.9,141.3 417.2,140.0 416.9,138.7 417.4,137.5 417.8,136.3 417.5,135.0 418.3,133.9 419.1,132.7 418.4,131.2 418.9,129.9 419.6,128.8 420.1,127.6 420.0,126.2 420.6,125.0 421.2,123.7 420.9,122.2 422.0,121.0 421.9,119.6 422.1,118.2 422.6,116.9 422.7,115.5 423.9,116.6 425.5,116.0 426.7,117.4 427.6,119.0 427.8,120.3 427.6,121.6 428.4,122.7 427.9,124.1 429.0,125.2 430.0,126.3 430.9,127.5 430.4,129.4 431.6,130.5 432.4,131.7 433.5,132.7 433.1,134.6 433.7,135.9 435.2,136.7 436.0,138.1 435.4,139.7 436.2,141.0 436.9,142.4 436.5,144.0 437.3,145.3 437.3,146.8 436.9,148.3 437.4,149.6 437.3,151.1 437.5,152.5 439.0,152.8 439.9,154.2 441.0,155.3 442.2,156.0 443.8,156.2 444.7,157.3 445.6,158.2 447.3,158.0 448.5,158.6 449.0,160.3 450.7,160.0 452.0,160.4 452.4,162.3 453.8,162.5 453.3,163.8 454.0,165.0 454.7,166.2 453.5,167.5 452.3,168.8 453.8,170.0 453.8,171.2 454.8,172.5 455.1,173.8 453.8,175.0 454.1,176.3 454.5,177.5 455.6,178.6 454.9,180.2 454.6,181.7 457.1,182.2 456.8,183.7 457.4,184.9 457.5,186.3 457.7,187.6 458.0,188.9 458.8,190.0 459.9,191.0 459.4,192.7 460.9,193.5 460.8,195.0 460.7,196.5 461.6,197.6 462.2,198.8 462.8,200.1 462.6,201.6 464.4,202.3 464.1,203.9 465.0,205.0 465.5,206.3 466.3,207.3 467.5,208.0 468.3,209.0 469.0,210.1 470.7,210.2 472.0,210.7 472.1,212.4 473.5,212.8 473.9,214.3 475.0,215.0 476.0,215.9 477.2,216.4 477.9,217.8 479.4,218.0 479.9,219.7 481.7,219.3 483.2,219.4 484.5,219.8 485.4,220.8 486.6,221.4 487.5,222.5 488.1,223.7 488.0,225.2 488.6,226.3 489.1,227.6 490.5,228.3 492.0,229.0 492.4,230.2 493.0,231.3 492.8,232.9 493.1,234.3 494.3,235.1 495.0,236.2 496.1,237.0 496.7,238.3 498.1,238.8 499.2,239.5 500.3,240.4 501.1,241.5 501.7,242.7 502.5,243.8 502.8,245.3 503.7,246.2 505.7,245.9 506.2,247.2 506.4,248.8 507.9,249.1 508.8,250.0 509.0,251.3 509.2,252.7 510.2,253.6 510.9,254.6 512.5,255.3 512.1,256.8 512.8,257.9 513.4,259.1 513.7,260.3 514.0,261.6 515.0,262.5 515.3,264.1 516.6,264.7 518.3,264.8 518.4,266.6 519.9,267.0 520.4,268.4 521.5,269.2 522.5,270.0 523.1,271.3 524.7,271.6 524.8,273.3 527.3,272.7 527.5,274.4 527.8,275.9 529.0,276.7 530.0,277.5 531.0,278.6 530.4,280.0 531.0,281.2 531.5,282.4 530.8,283.8 532.9,284.7 531.2,286.4 531.5,287.6 532.4,288.7 532.5,290.0 532.2,291.4 532.7,292.6 533.6,293.7 533.1,295.1 533.9,296.2 534.7,297.4 535.6,298.5 534.4,300.0 534.5,301.3 535.0,302.5 534.6,303.8 535.5,305.0 535.8,306.2 535.2,307.5 535.8,308.7 535.9,310.0 536.1,311.2 535.7,312.5 535.6,313.8 536.2,315.0 536.0,316.5 536.4,317.9 537.2,319.2 536.8,320.7 537.5,322.0 537.6,323.4 537.2,324.7 537.0,326.0 537.0,327.4 536.1,328.6 536.2,330.0 535.5,331.2 535.9,332.6 534.9,333.6 535.5,335.1 534.6,336.2 533.9,337.4 533.5,338.6 533.7,340.0 534.2,341.4 532.9,342.4 533.2,343.9 532.5,345.0 532.1,346.3 531.0,347.2 530.7,348.6 529.8,349.5 529.2,350.7 528.0,351.6 527.7,353.0 526.8,354.0 526.0,355.0 525.4,356.2 525.0,357.5 523.9,358.3 523.2,359.3 522.4,360.2 522.0,361.5 521.0,362.3 520.6,363.6 519.5,364.3 519.1,365.6 518.5,366.7 517.5,367.5 517.0,368.8 516.5,370.0 515.8,371.1 514.5,371.9 514.5,373.4 513.3,374.3 513.5,375.9 512.3,376.8 511.6,377.9 510.6,378.8 510.0,380.0 510.1,381.3 509.9,382.6 509.4,383.8 508.7,384.9 509.0,386.3 508.1,387.4 508.2,388.7 508.0,390.0 508.2,391.4 507.5,392.5 506.7,393.6 506.5,395.0 506.2,396.3 505.3,397.4 505.5,398.9 504.6,400.1 503.8,401.2 503.9,402.6 503.2,403.8 502.5,405.0 501.8,406.2 501.8,407.5 501.9,408.9 501.8,410.2 501.6,411.5 500.5,412.6 501.0,414.0 499.9,415.1 500.0,416.5 498.7,416.8 497.3,416.6 496.0,417.0 494.7,417.3 493.2,417.0 492.0,417.9 490.8,418.5 489.6,419.4 488.2,419.2 486.9,419.5 485.6,419.9 484.2,419.5 482.9,419.7 481.5,420.1 480.2,419.7 478.8,419.3 477.5,420.5 476.1,419.6 474.8,420.0 473.9,420.9 473.6,422.4 471.9,422.6 471.3,423.8 470.7,425.0 469.9,426.0 469.0,426.9 468.0,427.8 467.0,429.0 465.4,429.4 464.1,430.2 463.3,431.6 462.4,430.6 461.5,429.5 459.5,430.3 459.0,428.6 457.6,428.6 456.9,427.1 455.6,426.8 454.2,426.5 453.1,425.6 452.2,424.6 451.6,423.1 450.1,422.8 449.0,422.0 447.8,422.5 447.1,423.7 446.1,424.5 445.1,425.2 444.0,425.9 442.6,426.0 441.7,427.1 441.1,428.5 439.8,428.8 438.9,429.8 437.5,430.0 436.4,430.7 435.3,429.8 433.7,430.3 432.8,428.9 431.3,429.2 429.9,429.0 429.0,427.5 427.6,427.4 426.1,427.6 425.0,426.8 423.8,426.6 422.5,427.3 421.2,426.5 420.0,426.8 418.7,426.7 417.5,427.0 416.2,427.0 415.0,426.4 414.0,425.4 412.9,424.4 412.2,423.1 411.1,422.2 409.7,421.6 408.2,421.2 407.1,420.2 405.9,419.5 404.9,418.4 404.3,417.1 403.1,416.4 401.5,416.1 401.6,414.0 400.1,413.6 399.7,412.2 399.1,410.9 398.0,409.8 398.3,408.1 396.9,407.2 396.1,406.0 395.7,404.8 396.1,403.3 395.6,402.1 395.3,400.8 394.4,399.6 393.7,398.3 392.6,397.3 392.0,395.8 390.5,395.2 389.1,395.2 387.7,395.0 386.3,394.8 384.9,395.2 385.9,394.4 387.4,394.0 388.1,392.8 387.6,391.6 387.4,390.4 386.9,389.2 386.5,388.0 386.1,386.8 385.4,385.6 385.9,384.1 385.6,382.8 384.9,381.6 384.7,380.2 384.1,379.1 382.8,378.2 382.8,376.8 381.6,375.9 381.7,374.4 381.3,375.8 381.2,377.3 381.2,378.8 380.1,380.0 379.3,381.2 379.5,382.5 379.7,383.9 379.9,385.2 379.3,386.4 378.0,386.8 377.0,388.0 375.7,388.4 373.8,387.1 373.0,388.8 371.3,388.9 369.7,388.8 368.2,388.0 369.8,387.7 370.5,386.3 371.9,385.8 373.0,384.8 372.7,383.2 373.5,382.0 374.9,381.0 374.6,379.4 374.7,378.0 375.4,376.8 376.6,375.8 377.1,374.5 377.2,372.9 378.4,371.9 378.5,370.4 378.2,369.1 378.3,367.8 377.7,366.4 379.5,365.3 379.3,364.0 379.8,362.6 379.3,361.4 379.1,360.1 378.5,358.9 378.5,357.6 378.1,358.9 376.7,359.5 376.2,360.8 376.0,362.3 374.7,363.2 374.5,364.7 373.1,365.6 373.0,367.2 373.0,368.5 371.6,369.4 372.1,370.9 371.4,372.0 371.1,373.6 369.9,374.4 368.9,375.6 368.2,376.8 367.3,377.8 366.9,379.2 366.3,380.4 364.7,380.8 364.5,382.4 363.4,383.2 362.5,384.6 360.1,384.1 359.8,386.2 358.6,387.2 357.3,386.7 356.2,385.9 355.0,385.1 353.7,384.7 352.8,383.5 351.4,383.2 350.7,382.0 350.2,380.6 349.9,379.2 349.0,378.2 348.1,377.1 347.1,376.1 346.9,374.6 345.8,373.6 344.8,372.5 344.1,371.2 343.9,369.8 343.4,368.4 342.6,367.2 341.9,366.1 340.6,365.4 339.6,364.5 339.3,363.0 338.3,362.1 337.8,360.8 336.4,360.4 336.1,358.9 335.4,357.7 333.7,357.5 332.7,356.8 332.4,355.2 331.4,354.4 330.0,354.8 328.6,355.1 327.1,355.0 325.7,355.1 324.2,354.4 322.8,354.6 321.4,354.4 320.1,353.7 319.0,352.6 317.5,352.6 316.2,351.8 314.8,351.6 313.6,351.0 312.3,350.6 311.3,349.6 310.0,349.3 308.8,348.6 307.5,348.7 306.3,348.9 305.0,348.4 303.8,348.8 302.5,348.6 301.2,348.6 299.9,348.7 298.7,348.3 297.4,348.9 296.2,348.4 294.9,348.6 293.7,349.2 292.4,349.4 291.1,349.8 290.0,350.5 288.8,350.8 287.5,351.0 286.3,351.4 285.1,351.9 283.8,352.2 282.6,352.6 281.3,352.9 280.0,353.2 278.7,353.2 277.4,353.6 276.3,354.3 275.0,354.5 273.8,355.2 272.6,355.5 271.3,355.7 270.0,356.0 268.7,356.2 267.5,356.7 266.2,356.7 265.0,357.1 263.6,357.1 262.5,358.0 261.3,358.4 260.0,358.6 258.7,358.8 257.5,359.2 256.3,359.7 255.0,359.6 253.8,360.2 252.5,360.4 251.2,360.6 250.0,361.0 248.7,361.5 247.6,362.4 246.3,363.0 245.0,363.6 243.7,363.9 242.6,364.9 241.4,365.6 240.0,366.0 239.9,367.4 239.1,368.6 238.5,369.9 238.2,371.3 238.1,372.7 237.5,374.0 236.4,374.6 235.2,375.2 234.2,375.9 233.2,376.9 232.4,377.9 231.2,378.4 230.0,379.0 228.7,379.1 227.5,378.8 226.2,378.9 224.9,378.9 223.7,378.4 222.5,378.4 221.3,377.8 220.0,377.4 218.7,377.8 217.5,377.5 216.2,377.7 214.9,377.4 213.8,376.7 212.5,376.7 211.2,376.7 210.1,375.6 208.7,376.0 207.4,375.8 206.3,375.1 205.0,375.0 203.8,375.5 202.4,375.4 201.2,376.1 200.0,376.7 198.8,377.2 197.4,377.0 196.0,377.1 195.1,378.6 193.8,378.8 192.5,379.0 191.0,379.3 190.2,380.7 188.8,381.0 187.9,382.3 186.5,382.7 185.2,383.3 184.0,384.0 182.8,384.6 181.7,385.2 180.4,385.5 179.6,386.6 178.5,387.3 177.2,387.6 175.9,388.0 175.0,389.0 173.8,389.3 172.5,389.0 171.2,389.1 170.0,388.8 168.8,389.3 167.5,389.2 166.2,389.0 165.0,389.0 163.4,389.1 162.3,388.1 161.1,387.5 160.1,386.3 158.6,386.2 157.8,384.6 156.1,384.9 155.0,384.0 153.9,383.1 152.6,382.5 151.3,381.8 149.9,381.5 148.9,380.4 147.5,380.0 147.3,378.7 147.2,377.5 147.1,376.2 146.1,375.1 146.4,373.7 146.0,372.5 147.0,371.4 148.5,371.3 150.0,371.1 151.0,370.0 151.7,368.8 152.1,367.6 152.9,366.4 152.6,364.8 152.9,363.5 153.8,362.4 155.0,361.4 155.0,360.0 154.2,358.8 154.0,357.4 153.4,356.1 153.3,354.7 152.5,353.5 151.8,352.3 151.8,350.9 151.7,349.6 151.0,348.4 150.7,347.1 149.2,346.2 149.9,344.6 149.0,343.5 148.7,342.2 148.0,341.1 148.2,339.7 147.9,338.5 147.2,337.3 147.0,336.0 146.0,335.0 147.1,333.4 145.8,332.4 146.0,331.0 145.6,329.8 145.0,328.6 144.9,327.3 144.9,325.9 143.7,324.9 144.1,323.4 143.3,322.3 143.6,320.9 142.8,319.8 142.5,318.5 142.2,317.1 141.0,316.2 140.2,315.1 140.3,313.6 139.8,312.3 138.9,311.2 139.9,309.4 138.5,308.5 138.3,307.1 137.5,306.0 137.2,304.8 137.5,303.4 137.9,302.1 137.2,300.9 136.7,299.7 137.1,298.4 136.1,297.2 135.7,296.0 135.8,294.7 135.3,293.5 135.0,292.3 135.0,291.0 136.2,290.4 136.4,288.8 137.9,288.4 138.6,287.3 138.2,285.9 137.5,284.6 136.2,283.7 135.8,282.2 134.8,281.1 134.7,279.6 133.9,278.4 133.4,277.0 132.4,275.9 131.9,274.6 131.0,273.4 130.8,271.9 130.8,270.6 130.7,269.2 131.4,267.9 131.0,266.6 131.9,265.3 131.1,263.9 131.6,262.6 132.7,261.5 132.8,260.1 133.3,258.8 133.8,257.4 134.6,256.3 134.7,254.8 134.4,253.6 133.5,252.5 134.0,251.1 133.7,249.8 133.1,248.7 133.5,247.2 134.4,246.0 134.9,244.6 135.5,243.2 136.7,242.3 137.7,241.3 138.6,240.2 140.1,240.4 141.0,239.2 142.4,239.1 143.6,238.6 144.7,237.8 145.9,237.0 146.9,236.0 148.4,235.9 149.9,235.8 150.9,234.7 152.5,234.5 153.6,233.6 155.4,233.6 156.2,232.2 157.1,230.9 158.2,230.0 159.6,229.8 161.2,229.9 162.1,228.5 163.3,227.7 164.8,227.8 166.3,228.1 167.6,227.1 169.1,228.0 170.5,227.3 171.9,227.6 173.3,227.0 174.4,226.3 175.6,225.6 177.1,226.6 178.1,225.1 179.4,225.2 180.7,225.2 181.9,224.7 182.8,223.5 184.1,223.0 185.8,223.4 186.6,221.8 188.0,221.6 189.5,220.9 191.1,220.3 192.7,220.0 194.0,219.7 195.2,219.2 196.2,218.1 197.8,218.4 198.9,217.7 200.0,216.4 201.7,217.9 202.8,216.8 204.3,217.5 205.5,216.5 206.9,216.1 207.8,214.7 208.9,213.7 210.3,213.4 211.6,212.7 211.9,211.3 212.5,210.1 212.7,208.6 213.0,207.2 213.5,205.9 213.9,204.6 214.7,203.4 215.8,202.5 216.9,201.6 217.6,200.5 218.3,199.2 219.2,198.2 220.2,197.2 219.9,195.9 219.5,194.7 219.6,193.3 219.1,192.1 220.2,190.5 218.6,189.5 219.4,188.2 221.4,187.8 221.8,186.2 222.5,184.8 222.5,182.9 223.4,181.9 225.1,181.7 226.3,181.0 227.8,180.5 229.4,180.2 228.6,176.9 230.6,177.2 231.8,176.3 233.3,176.2 234.8,176.9 236.4,177.9 237.9,176.3 239.5,177.8 240.7,177.1 242.0,176.4 243.3,175.6 243.3,173.2 242.1,171.6 243.5,170.6 244.1,169.4 242.1,169.4 241.0,167.8 241.4,166.2 242.3,165.3 245.0,166.7 244.5,163.8 246.4,164.3 247.2,163.2 247.0,161.7 249.1,161.2 247.8,159.2 249.5,158.6 249.6,156.4 252.8,157.8 252.0,154.4 254.2,154.7 255.4,155.1 257.0,153.9 258.0,155.5 258.5,153.8 259.1,152.1 261.1,151.6 261.8,149.0 263.8,150.9 265.4,151.4 266.5,150.1 268.0,150.0 269.5,149.9 270.6,151.4 272.0,151.6 271.0,153.9 272.6,154.4 273.0,155.7 275.3,155.5 274.8,157.5 276.6,157.8 278.1,158.3 279.6,158.8 279.5,161.3 281.2,161.6 282.0,163.2 283.4,165.0 281.0,165.9 279.5,167.1 279.7,168.6 279.1,166.5 280.0,165.2 280.9,163.9 282.8,163.2 284.2,162.6 285.7,163.6 287.1,164.6Z" stroke-width="0.9" stroke="#111" fill="none" stroke-linejoin="round"/>
<path d="M447.3,449.7 448.9,448.7 449.8,450.1 451.0,451.3 452.1,452.4 453.5,453.1 455.2,453.2 456.3,454.5 457.4,455.4 458.6,456.1 460.1,455.7 461.4,456.2 462.7,456.6 463.9,456.0 465.2,456.1 466.6,456.6 467.9,456.5 469.1,456.1 470.4,455.8 471.5,454.7 472.8,454.5 474.4,454.9 475.5,454.0 476.8,453.4 478.2,453.2 479.4,452.5 480.8,452.4 482.0,453.9 483.5,455.0 483.1,456.4 483.7,457.8 484.2,459.2 483.7,460.6 483.5,462.0 483.8,463.4 483.1,464.7 482.3,465.9 482.4,467.3 482.4,468.7 481.5,469.9 480.7,471.1 481.4,472.6 480.8,474.0 481.2,475.6 480.3,476.9 479.5,478.1 479.3,479.7 477.6,480.1 476.4,481.1 474.9,481.8 473.4,482.2 471.6,482.3 470.2,483.3 468.8,483.6 467.3,483.6 465.9,483.8 464.6,483.5 463.9,482.2 462.4,482.3 461.6,481.2 460.1,480.5 459.2,479.0 457.9,478.0 457.0,477.0 456.3,475.8 455.3,474.9 454.7,473.7 453.6,472.6 453.6,471.0 452.1,470.0 452.1,468.4 452.1,466.8 450.9,465.7 450.6,464.3 449.9,463.0 449.3,461.7 448.4,460.6 447.9,459.4 448.2,457.7 447.3,456.6 447.2,455.3 446.7,454.1 446.2,452.9 446.3,451.2Z" stroke-width="0.9" stroke="#111" fill="none" stroke-linejoin="round"/>
<path d="M288.5,164.8 289.5,165.8 290.5,163.2 291.6,163.1 292.6,162.2 293.6,162.2 292.5,163.8 294.8,161.9 294.0,161.2 293.0,160.6 294.0,159.2 293.4,158.4 293.8,157.2 293.0,157.1 292.8,156.0 292.2,154.8 293.3,154.3 293.9,153.6 294.4,152.8 293.6,151.4 295.5,151.3 293.4,149.4 294.2,148.8 295.9,148.5 295.9,147.2 296.6,146.6 298.1,147.3 298.1,145.6 299.6,146.3 300.8,144.9 299.7,144.2 299.5,143.2 298.0,142.7 297.6,140.6 298.2,139.8 300.2,140.4 301.1,140.0 301.2,138.8 302.3,138.5 303.4,138.3 302.7,135.3 304.0,136.4 305.2,137.3 305.6,135.2 306.7,135.8 307.6,135.6 307.8,135.0 309.8,134.4 308.6,133.0 309.1,132.9 310.1,132.8 311.0,133.1 312.0,133.2 313.1,132.5 314.0,134.1 314.8,133.4 315.6,132.1 316.6,132.6 317.6,133.9 318.6,135.1 319.4,133.0 319.8,131.7 321.1,131.6 322.6,132.0 322.7,130.3 322.6,129.2 323.2,128.4 323.6,127.5 324.6,126.9 325.8,126.4 325.9,124.8 324.9,125.0 323.8,125.6 322.8,126.0 322.3,123.8 321.2,123.7 319.9,123.9 318.3,123.6 318.6,122.6 319.4,121.4 320.3,121.3 321.2,121.1 321.9,120.2 322.6,119.5 323.6,119.6 324.7,119.9 325.5,120.4 326.2,121.2 326.5,122.4 327.3,123.0 327.8,123.9 330.1,122.3 330.5,123.4 331.5,123.6 332.4,124.0 332.7,125.2 333.8,125.2 333.4,127.4 335.3,126.2 335.1,128.5 337.1,126.8 337.8,127.5 338.3,128.8 339.1,129.4 339.6,130.5 340.8,130.4 342.5,129.0 342.3,131.9 343.7,131.2 344.4,132.1 345.0,133.0 346.4,132.2 347.3,133.6 348.0,132.2 349.2,133.9 349.8,131.5 350.9,133.1 351.5,131.0 352.9,132.6 353.5,131.7 354.1,130.7 354.9,130.1 356.5,130.8 356.8,129.3 357.5,128.6 358.5,128.4 359.9,128.8 361.3,128.3 361.1,127.0 361.7,126.2 363.1,126.1 362.3,124.3 363.9,124.4 363.3,122.7 363.3,121.5 366.0,122.3 366.2,120.9 367.1,119.8 365.9,120.7 366.0,121.8 366.0,122.9 367.2,124.2 366.8,125.1 366.2,126.1 364.9,126.9 365.3,128.1 366.3,128.6 367.1,129.3 367.1,130.4 367.0,131.7 366.5,133.3 368.1,132.5 367.4,133.1 367.4,134.2 367.0,135.0 365.9,135.4 367.3,137.3 367.6,138.6 364.8,137.9 364.2,138.1 364.2,139.7 363.3,140.2 362.4,140.7 362.4,142.3 360.4,141.4 359.5,142.5 360.9,144.5 358.9,144.5 356.8,144.5 357.5,146.1 357.6,147.3 356.4,148.1 357.9,149.4 357.1,150.2 356.4,150.9 356.4,151.8 357.0,153.0 355.2,153.4 354.5,154.1 354.4,155.0 355.9,156.4 354.4,156.9 354.1,157.8 354.1,158.8 353.8,159.7 353.4,160.5 352.9,162.1 354.6,161.7 354.4,163.5 354.9,164.4 357.1,163.3 357.5,164.5 358.0,165.4 358.0,167.1 360.0,166.2 359.7,168.2 361.7,167.2 M424.7,114.9 425.3,116.1 425.5,117.1 427.2,117.0 426.8,118.4 427.8,119.0 426.9,120.1 427.5,120.9 427.6,121.8 429.3,122.3 428.6,123.4 429.0,124.3 429.2,125.1 430.1,125.8 428.3,127.7 429.6,128.2 430.3,128.9 430.7,129.8 431.4,130.6 431.2,131.9 431.8,132.8 433.5,132.9 433.6,134.1 433.9,135.1 434.4,135.9 435.4,136.7 435.1,137.7 435.9,138.5 436.8,139.2 436.6,140.2 436.0,141.3 435.2,142.3 436.0,143.2 437.0,143.9 436.4,145.0 435.6,146.0 436.0,146.9 437.9,147.7 436.6,148.8 436.2,149.8 436.9,150.7 436.3,151.7 437.2,152.9 438.0,153.4 439.0,153.5 439.2,155.0 440.8,154.1 441.1,155.4 442.7,154.4 443.4,155.0 443.4,156.9 445.1,155.9 445.5,156.8 445.8,158.1 446.6,158.6 447.2,159.3 447.9,159.9 449.4,159.2 449.6,160.6 450.4,161.0 451.1,161.7 452.0,162.0 453.1,162.0 452.9,162.5 453.9,163.5 452.9,164.4 455.0,165.4 452.9,166.3 454.7,167.3 453.6,168.3 453.1,169.2 453.8,170.2 453.6,171.2 453.1,172.1 454.5,173.1 454.9,174.0 452.8,175.3 454.8,175.7 455.0,176.6 454.4,177.7 456.1,178.2 456.0,179.2 454.1,180.8 455.8,181.2 455.4,182.3 456.7,182.8 457.8,183.5 457.4,184.6 456.9,185.7 456.8,186.7 457.3,187.6 459.1,187.9 459.4,188.8 460.1,189.5 458.4,191.1 459.5,191.7 458.7,192.9 461.1,192.9 461.6,193.7 460.6,195.1 462.2,195.4 461.9,196.5 462.9,197.1 461.3,198.7 462.2,199.3 462.2,200.3 463.3,200.8 463.0,201.9 463.6,202.7 463.3,203.7 465.1,204.0 465.4,204.6 464.6,206.8 465.8,206.9 466.9,207.1 467.0,208.3 469.0,207.7 469.4,208.6 470.7,208.6 470.1,210.5 471.4,210.6 472.3,211.0 471.2,213.4 472.5,213.5 473.1,214.3 473.9,214.7 475.3,214.5 476.0,215.2 476.2,216.5 476.9,217.2 477.6,217.8 479.3,216.7 480.2,216.9 480.4,218.3 481.6,218.2 482.1,219.1 482.7,219.8 483.3,220.6 484.0,221.2 484.8,221.7 485.9,221.7 486.8,221.9 486.6,223.0 488.3,223.1 487.7,224.5 488.5,225.1 488.0,226.4 489.6,226.6 489.4,227.8 491.2,227.8 491.9,228.4 490.9,230.1 492.5,230.3 492.9,231.0 493.1,232.0 492.9,233.2 494.0,233.6 493.2,235.1 494.9,235.2 495.3,235.9 495.2,237.4 496.0,237.9 496.9,238.4 497.6,239.1 498.2,239.8 498.6,240.8 499.9,240.9 501.3,240.9 501.7,241.8 502.5,242.5 503.1,243.1 502.9,244.8 504.0,245.1 504.2,246.2 504.7,247.2 505.5,247.7 506.9,247.7 507.0,249.0 508.6,248.8 509.2,249.8 510.0,250.4 510.4,251.3 511.0,252.0 510.0,253.6 510.0,254.6 510.8,255.2 511.0,256.2 512.6,256.4 513.5,257.0 512.8,258.4 512.9,259.4 514.2,259.8 514.7,260.6 514.6,261.7 514.4,263.1 515.9,263.0 517.0,263.2 516.4,265.2 518.0,265.0 518.0,266.3 519.5,266.2 519.5,267.5 520.4,268.0 520.8,269.0 521.7,269.4 522.3,270.2 522.4,271.5 523.4,271.8 524.8,271.8 525.6,272.3 526.0,273.3 526.6,274.1 527.0,275.0 527.9,275.5 528.0,276.7 529.1,277.1 530.2,277.5 529.8,278.5 531.3,279.1 532.2,279.8 531.0,281.0 531.0,281.9 531.7,282.7 531.7,283.7 531.5,284.6 533.2,285.2 531.9,286.4 531.7,287.4 531.1,288.4 531.6,289.2 533.5,289.8 532.0,291.0 531.4,292.1 532.1,292.9 533.4,293.5 533.3,294.5 534.3,295.2 534.5,296.1 535.5,296.8 534.9,297.9 534.4,298.9 535.5,299.6 M494.6,418.1 493.6,417.9 492.9,418.9 491.6,417.6 490.9,418.3 490.1,419.2 489.2,419.4 488.2,419.3 487.3,419.7 486.3,418.8 485.3,418.5 484.3,418.8 483.4,418.8 482.4,418.9 481.5,419.8 480.5,419.2 479.6,420.4 478.7,420.7 477.7,420.9 476.7,420.2 475.7,419.2 474.5,419.7 474.4,420.9 474.2,421.9 473.2,422.4 472.9,423.4 472.1,423.9 471.7,424.8 470.2,424.7 470.3,426.1 469.9,426.9 468.2,426.7 467.6,427.3 467.1,428.3 466.3,428.9 465.3,429.2 464.8,430.2 464.6,431.6 463.2,431.8 463.0,430.4 461.4,431.1 461.0,430.2 460.0,430.0 459.9,428.5 458.7,428.6 458.1,427.9 457.4,427.3 456.1,427.8 456.1,426.1 455.3,425.7 454.3,425.5 453.6,424.9 452.5,424.9 451.9,424.1 451.8,422.8 450.2,423.4 449.4,422.9 449.1,422.1 448.1,422.4 448.1,423.7 447.3,424.2 446.2,424.3 445.9,425.5 445.1,425.8 443.7,425.4 443.0,426.2 442.5,427.3 441.3,427.2 440.0,427.1 440.1,429.1 439.2,429.5 438.1,429.6 437.4,430.4 436.3,431.0 435.3,431.0 434.4,430.7 433.5,430.6 433.1,429.0 431.9,429.5 431.3,428.4 430.3,428.4 429.3,428.6 428.4,428.4 427.6,427.7 426.5,428.3 425.6,427.9 425.0,427.4 424.1,426.2 423.2,426.5 422.2,427.4 421.4,426.2 420.4,426.9 419.6,426.2 418.6,426.7 417.7,426.4 416.8,427.1 415.9,425.7 414.6,426.8 414.4,425.6 413.4,425.1 412.9,424.2 411.9,423.7 411.2,423.0 410.3,422.5 409.8,421.4 408.3,422.0 408.0,420.7 407.4,419.9 406.5,419.5 406.2,418.2 404.6,418.7 404.4,417.5 403.2,417.4 402.9,416.3 402.6,415.2 401.2,415.3 400.7,414.4 399.5,413.9 399.1,413.0 399.5,411.6 397.5,411.4 397.7,410.2 397.0,409.4 396.5,408.6 397.5,407.1 397.3,406.1 397.0,405.2 396.9,404.3 396.5,403.4 394.9,402.8 394.9,401.9 395.3,400.8 394.6,400.2 394.8,398.9 393.6,398.6 393.5,397.5 392.4,397.2 391.2,397.1 391.3,395.7 390.5,395.9 389.6,395.9 388.6,394.6 387.7,394.4 386.8,395.4 385.8,395.7 384.9,395.1 384.9,393.5 387.4,395.2 387.6,393.8 389.0,392.5 387.7,391.9 387.8,390.8 386.2,390.2 386.9,388.9 386.6,388.0 385.5,387.3 386.9,385.9 385.4,385.4 386.5,384.1 385.0,383.5 384.5,382.7 384.1,381.9 383.3,381.2 384.6,379.6 383.1,379.2 384.0,377.7 382.5,377.3 383.2,375.9 382.1,375.3 382.0,374.5 381.9,375.5 381.2,376.3 380.4,377.1 381.6,378.4 379.6,378.8 380.7,380.1 380.7,381.0 379.9,381.8 379.8,382.8 379.3,383.6 378.6,384.4 379.4,385.5 379.4,386.8 378.1,385.9 377.8,387.8 376.7,387.6 375.4,386.9 374.7,387.7 373.6,387.7 373.1,388.3 372.1,388.2 371.0,388.7 370.2,388.1 369.2,388.0 368.2,388.0 368.9,387.3 369.0,385.7 369.9,385.4 371.3,385.6 372.1,385.2 373.4,384.9 373.6,384.0 374.5,383.3 372.9,381.9 373.8,381.1 375.2,380.6 374.6,379.5 375.0,378.6 374.4,377.5 374.5,376.4 376.5,376.2 376.9,375.3 376.6,374.0 377.1,373.1 377.1,372.0 378.0,371.3 378.7,370.4 378.8,369.5 378.1,368.5 379.4,367.7 379.5,366.8 378.9,365.8 379.3,364.9 380.5,363.9 379.6,363.0 379.9,362.1 378.8,361.3 378.3,360.4 379.5,359.3 379.3,358.4 377.8,357.1 377.9,358.4 377.7,359.4 377.6,360.6 375.9,360.6 375.9,361.8 375.2,362.6 374.6,363.4 374.2,364.4 374.8,365.8 374.3,366.7 373.5,367.4 373.1,368.3 372.7,369.2 372.6,370.3 372.2,371.2 370.7,371.6 370.1,372.3 370.9,374.0 370.3,374.7 369.6,375.4 368.6,375.9 368.5,377.0 368.0,377.9 367.3,378.7 367.5,380.0 366.2,380.3 365.5,381.0 364.2,381.3 364.4,382.7 363.6,383.4 362.8,384.1 361.7,384.4 361.7,386.1 360.5,386.2 358.9,385.9 358.2,387.9 358.2,386.0 356.9,386.6 356.2,385.9 355.9,384.6 354.6,385.0 354.0,384.2 353.4,383.3 351.9,384.2 351.4,383.2 351.1,382.3 350.0,381.9 349.6,381.0 349.5,380.0 349.5,378.9 349.0,378.2 348.1,377.6 347.6,376.8 346.7,376.3 347.4,374.8 346.1,374.5 345.4,373.8 346.0,372.3 344.9,371.8 344.2,371.0 344.1,369.9 343.8,368.9 343.1,368.1 343.0,366.9 342.5,366.1 341.0,365.9 341.6,364.2 340.3,363.9 339.4,363.4 338.4,362.8 337.6,362.2 336.8,361.8 337.4,359.9 336.1,360.0 336.5,358.2 334.8,358.7 334.0,358.2 334.4,356.5 332.8,356.9 332.7,355.7 331.6,355.5 331.4,355.1 330.5,355.8 329.5,353.7 328.5,354.6 327.6,354.6 326.6,353.9 325.7,354.9 M134.3,254.9 134.5,253.9 134.5,253.0 134.1,252.2 134.0,251.2 134.5,250.2 133.3,249.6 132.5,248.4 133.0,247.6 134.3,247.0 134.2,245.9 134.5,245.0 135.8,244.4 135.3,243.0 136.8,243.0 136.4,241.1 137.7,240.8 138.7,240.5 139.4,239.6 140.4,239.7 141.3,239.5 142.0,238.7 142.7,237.9 143.7,237.9 144.4,237.3 145.7,237.6 146.4,236.7 147.6,237.0 148.4,236.4 148.9,235.1 149.6,234.3 151.0,234.9 151.8,234.4 152.8,234.3 153.0,232.9 153.8,232.4 154.7,232.2 155.5,231.8 156.5,231.7 157.1,230.9 157.9,230.5 158.9,230.5 159.3,228.9 160.5,229.4 161.1,228.6 162.0,228.2 163.0,228.2 163.9,228.1 164.8,227.2 165.8,228.8 166.6,227.1 167.6,226.7 168.6,228.1 169.6,227.8 170.5,228.0 171.4,227.4 172.4,227.5 173.2,226.8 174.2,226.6 175.4,227.1 176.2,226.3 177.2,226.4 178.1,225.7 178.9,225.0 179.8,224.6 181.1,225.5 181.8,224.5 182.7,224.1 183.9,224.3 184.1,222.6 185.6,223.3 186.5,223.0 187.0,221.7 187.7,220.7 189.2,222.1 189.8,220.6 190.5,219.7 191.5,219.5 192.5,219.6 193.8,220.4 194.5,219.4 195.4,219.0 196.3,218.8 197.4,219.2 197.8,217.6 199.1,218.6 199.8,217.2 200.9,218.0 201.8,217.4 202.7,217.3 203.5,216.2 204.7,217.5 205.7,216.8 206.2,215.7 207.5,215.9 207.8,214.4 208.9,214.2 210.2,214.4 210.9,213.5 210.3,212.3 211.0,211.5 212.5,210.9 213.3,210.2 213.2,209.1 212.8,207.9 213.1,207.0 214.1,206.3 213.8,205.2 213.9,204.2 214.4,203.1 M218.4,191.6 220.3,190.1 217.5,188.6 217.8,187.5 218.7,186.9 221.4,187.8 220.7,185.9 221.9,185.6 223.1,185.4 224.6,185.4 222.6,181.8 224.5,182.3 225.5,181.7 225.0,179.5 227.7,181.3 228.7,181.0 228.8,179.8 227.7,177.1 229.2,177.4 231.0,178.1 230.2,175.9 231.8,177.7 232.8,175.6 233.8,178.3 234.8,176.3 235.9,176.9 236.9,177.5 237.8,175.1 238.7,175.4 239.5,174.5 240.7,176.6 241.6,176.5 242.4,175.5 242.1,175.6 245.3,174.4 243.9,173.3 243.2,172.2 241.8,170.9 243.4,170.2 245.0,167.7 242.1,170.7 241.7,169.0 239.7,166.1 242.2,167.8 242.1,166.1 241.8,164.0 242.9,163.9 245.7,166.0 246.7,165.7 247.2,164.8 247.8,163.5 248.8,162.9 247.8,161.2 247.0,159.7 247.4,158.7 250.0,159.2 250.7,158.4 251.1,157.3 250.8,155.3 251.7,154.9 252.9,154.8 254.3,154.3 255.1,155.2 256.4,153.8 257.1,155.1 256.4,154.2 257.6,153.9 258.2,153.1 260.8,153.9 262.1,153.7 261.5,153.1 261.8,150.6 262.6,150.2 263.6,150.2 264.9,151.1 265.3,149.1 266.8,149.2 267.6,149.7 268.2,151.2 268.8,152.4 270.2,151.0 271.6,149.5 271.4,152.0 272.8,152.2 271.8,154.2 274.5,153.3 276.0,153.5 275.4,155.1 274.8,156.8 276.2,156.9 277.6,156.6 277.8,158.0 276.9,160.5 279.0,159.6 278.8,161.4 279.4,162.3 282.4,161.8 282.9,163.0 281.0,163.7 278.7,164.2 278.4,165.2 281.6,166.9 282.6,168.2 280.3,168.9 280.8,168.1 281.3,167.2 281.9,166.3 283.1,165.8 281.8,163.8 282.7,161.5 283.7,162.1 284.6,160.4 285.7,164.8 286.6,163.9 287.5,162.8 M447.1,449.4 448.0,449.1 449.4,448.3 449.1,449.9 450.0,450.7 451.0,451.3 452.1,451.4 453.0,452.0 453.4,453.3 454.3,453.8 455.6,453.7 456.2,454.8 456.9,455.7 458.1,455.2 459.0,455.4 460.0,455.6 460.7,456.6 461.8,456.4 462.7,457.2 463.7,457.1 464.5,456.5 465.4,456.5 466.3,455.8 467.3,457.0 468.1,455.5 469.0,455.8 470.0,455.8 471.1,456.2 471.8,455.1 472.8,455.1 473.6,454.4 474.5,454.1 475.7,454.5 476.2,453.1 477.4,453.8 478.0,452.9 478.9,452.5 479.7,452.1 480.4,452.8 481.2,453.3 482.6,453.2 482.4,454.8 483.6,455.0 483.3,456.0 483.8,457.0 483.6,458.0 483.7,459.0 483.9,460.0 484.1,461.0 483.1,461.9 483.8,463.0 482.5,463.6 483.6,464.8 483.4,465.7 482.3,466.4 483.0,467.4 482.6,468.4 482.5,469.5 481.4,470.4 480.9,471.4 481.8,472.7 481.8,473.8 481.2,474.8 480.1,475.7 480.8,477.3 479.9,477.9 479.2,478.7 478.9,479.9 477.3,479.6 476.4,479.9 475.7,480.4 474.9,481.0 474.2,481.8 473.5,482.6 472.1,482.0 471.3,483.1 470.1,482.9 469.1,483.0 468.0,483.3 467.0,484.0 466.5,482.9 465.4,482.7 464.4,482.4 463.6,481.8 462.8,481.2 461.2,481.7 461.0,480.4 460.4,479.7 458.9,479.8 459.3,477.9 458.3,477.7 457.6,476.9 457.0,476.0 456.4,475.1 455.5,474.4 455.2,473.5 454.2,472.8 452.8,472.4 453.5,471.0 453.4,469.9 452.1,469.5 452.4,468.3 451.1,467.8 452.1,466.3 451.1,465.7 451.0,464.6 449.9,464.0 450.9,462.6 449.0,462.3 449.7,461.0 448.7,460.3 449.0,459.1 448.5,458.2 447.4,457.6 447.2,456.6 446.6,455.8 446.3,454.9 446.5,453.8 446.3,452.9 447.0,452.0 446.7,450.7" stroke-width="0.7" stroke="#111" fill="none" stroke-linejoin="round"/>
<path d="M227.1,180.8 224.0,179.1 M229.0,179.7 227.4,178.3 M229.4,178.9 228.1,177.6 M231.2,177.4 230.4,175.5 M233.3,176.9 232.3,173.5 M236.3,176.5 232.3,174.9 M237.1,176.8 234.2,175.4 M238.6,176.8 236.3,173.8 M241.1,176.1 239.4,175.4 M243.3,176.2 241.2,174.2 M244.0,175.1 240.4,172.4 M244.1,173.6 241.7,170.5 M244.3,170.2 240.6,167.5 M243.8,169.7 242.7,167.6 M242.9,169.3 240.6,165.6 M243.0,167.3 239.8,164.8 M244.2,166.8 240.8,163.3 M245.3,165.7 244.1,163.8 M246.8,164.2 245.8,160.0 M247.9,163.2 246.8,161.5 M249.0,161.8 246.9,160.8 M249.7,160.5 246.9,158.6 M250.4,159.3 247.6,156.5 M252.6,156.9 251.6,154.3 M253.3,155.9 251.8,151.7 M255.2,155.2 252.9,153.7 M257.8,155.7 256.2,154.7 M258.9,155.8 255.9,151.8 M259.8,153.8 257.7,150.9 M261.4,152.7 259.3,148.3 M262.4,152.0 260.7,150.4 M263.4,151.2 261.3,150.3 M265.7,150.6 264.2,150.0 M266.3,150.7 268.4,149.7 M269.3,151.4 270.5,148.6 M272.6,153.5 274.0,151.5 M273.4,154.3 274.9,153.3 M274.6,156.8 275.8,154.2 M277.1,159.7 277.9,157.1 M278.4,160.4 280.2,158.6 M298.0,147.5 295.7,146.5 M298.4,146.6 296.0,145.2 M299.7,143.5 298.2,142.3 M300.5,140.0 298.2,138.7 M302.5,138.7 299.5,138.2 M354.0,131.8 352.3,129.7 M356.2,130.4 355.4,127.8 M358.3,130.0 356.3,128.1 M361.0,127.9 357.9,126.2 M361.3,127.3 359.0,125.2 M363.0,125.5 361.9,123.3 M364.3,122.7 363.9,120.1 M364.8,122.6 361.9,120.7 M367.8,133.7 370.1,134.8 M366.5,134.8 369.1,135.3 M364.6,138.1 367.2,139.2 M363.6,139.1 366.0,139.7 M361.8,140.6 363.6,141.9 M359.5,143.8 362.0,144.3 M358.4,145.5 360.1,147.0" stroke-width="0.9" stroke="#111" fill="none" stroke-linecap="round"/>
<path d="M230.5,177.2 L234.3,176.8 L236.2,182.5 L235.3,187.5 L233.2,183.5Z" fill="#fff" stroke="#111" stroke-width="0.8"/>
<g stroke="#111" stroke-width="0.8" stroke-linejoin="round">
<path d="M298.5,127.5 302.3,122.1 305.0,123.8 307.7,123.6 312.4,121.3 313.9,124.4 310.1,127.5 306.2,129.0 304.5,126.5 302.3,126.7Z" fill="#FBF8CC"/>
<path d="M364.0,150.0 367.5,149.3 368.3,153.0 366.5,156.0 363.6,155.0 363.2,152.0Z" fill="#FAB000"/>
<path d="M365.0,397.0 368.0,395.5 374.0,395.8 378.0,396.5 380.0,398.0 377.0,399.5 371.0,400.0 366.0,399.5Z" fill="#FBF8CC"/>
<path d="M438.6,440.0 440.6,439.7 441.6,442.0 441.0,445.4 439.0,445.6 438.4,442.5Z" fill="#F8D763"/>
<path d="M479.0,441.0 482.0,440.3 484.0,444.0 485.3,448.0 483.0,450.0 480.0,447.0 478.0,444.0Z" fill="#FBF8CC"/>
<path d="M482.0,451.0 485.0,451.0 485.0,452.6 482.5,452.6Z" fill="#FBF8CC"/>
<path d="M126.3,280.5 127.5,280.0 129.3,286.0 130.2,291.0 129.0,291.5 127.3,286.0Z" fill="#F8D763"/>
<path d="M131.0,282.0 132.3,282.0 133.5,289.0 132.3,289.5Z" fill="#F8D763"/>
<path d="M392.5,180.3 394.5,179.0 396.8,180.5 395.3,182.6 393.0,182.2Z" fill="#F8D763"/>
<path d="M532.8,272.4 534.0,272.8 535.0,277.0 534.6,281.5 533.4,281.3 533.6,277.0Z" fill="#F8D763"/>
</g>
<g fill="#111">
<circle cx="490.3" cy="222.2" r="0.9"/>
<circle cx="498.6" cy="233.1" r="0.6"/>
<circle cx="503.9" cy="237.7" r="0.6"/>
<circle cx="500.6" cy="241" r="0.6"/>
<circle cx="507.3" cy="246.2" r="1.1"/>
<circle cx="509.8" cy="255.5" r="0.6"/>
<circle cx="520.5" cy="256.6" r="0.6"/>
<circle cx="512.6" cy="259.8" r="0.5"/>
<circle cx="495.5" cy="228.5" r="0.5"/>
<circle cx="501.5" cy="235" r="0.5"/>
<circle cx="397.3" cy="184.5" r="0.7"/>
<circle cx="395.5" cy="185.8" r="0.6"/>
<circle cx="393" cy="186.5" r="0.5"/>
<circle cx="369" cy="158" r="0.5"/>
<circle cx="358" cy="147.5" r="0.5"/>
<circle cx="366" cy="169.5" r="0.9"/>
<circle cx="368" cy="170.5" r="0.7"/>
<circle cx="421.9" cy="99.4" r="0.8"/>
<circle cx="427.2" cy="100.8" r="0.8"/>
<circle cx="422.7" cy="103" r="0.7"/>
<circle cx="413.9" cy="106.4" r="0.6"/>
<circle cx="421.4" cy="108.8" r="1.3"/>
<circle cx="428" cy="107" r="0.6"/>
<circle cx="433.8" cy="105.6" r="1.1"/>
<circle cx="435.6" cy="103" r="0.6"/>
<circle cx="440.5" cy="107" r="0.7"/>
<circle cx="423.2" cy="113.5" r="1.6"/>
<circle cx="424.5" cy="111" r="0.9"/>
<circle cx="430" cy="106.5" r="0.5"/>
<circle cx="425" cy="109.5" r="0.5"/>
<circle cx="151" cy="224.5" r="0.7"/>
<circle cx="151.8" cy="228" r="0.6"/>
<circle cx="150.2" cy="231" r="0.5"/>
<circle cx="147" cy="234" r="0.5"/>
<circle cx="166" cy="224.5" r="0.5"/>
<circle cx="168.5" cy="223.5" r="0.5"/>
<circle cx="467" cy="438" r="0.5"/>
<circle cx="470.2" cy="435.3" r="0.5"/>
<circle cx="473.4" cy="438" r="0.5"/>
<circle cx="462" cy="433.5" r="0.9"/>
<circle cx="464.5" cy="432.5" r="0.7"/>
<circle cx="308" cy="277.7" r="0.95"/>
<circle cx="337.5" cy="261.7" r="0.95"/>
<circle cx="346.2" cy="320.6" r="0.85"/>
<circle cx="368.1" cy="338.1" r="0.95"/>
<circle cx="414.2" cy="354" r="0.95"/>
</g>

<g stroke="#222" stroke-width="0.7" fill="none">
<path d="M139.4,336.4 154.0,354.5"/>
<path d="M139.4,448.0 154.0,354.5"/>
<path d="M233.8,418.4 385.0,388.5"/>
<path d="M365.5,418.4 385.0,388.5"/>
<path d="M518.8,419.3 452.0,422.5"/>
<path d="M518.8,531.8 452.0,422.5"/>
<path d="M543.4,269.3 514.0,375.0"/>
<path d="M543.4,382.5 514.0,375.0"/>
<path d="M518.4,215.2 533.0,304.0"/>
<path d="M650.5,215.2 533.0,304.0"/>
</g>
<clipPath id="c0"><rect x="6.6" y="336.4" width="132.8" height="111.6"/></clipPath>
<rect x="6.6" y="336.4" width="132.8" height="111.6" fill="#fff"/>
<g clip-path="url(#c0)" stroke="#111" stroke-width="0.95" stroke-linejoin="round">
<path d="M55.2,333.4 55.3,337.0 55.4,340.5 55.5,344.1 56.3,347.6 57.4,352.0 57.4,356.5 58.0,360.0 59.6,363.1 59.8,366.9 61.7,370.3 61.8,374.1 61.5,377.5 63.0,380.7 62.2,384.1 62.9,387.4 63.2,390.5 62.5,393.6 62.9,396.7 62.5,399.8 61.8,402.8 60.8,406.5 59.3,410.0 58.5,413.8 60.1,416.7 61.6,419.6 62.9,422.7 62.6,426.1 60.9,429.2 60.0,432.5 59.6,435.9 62.2,438.3 65.1,440.3 65.9,443.8 65.2,447.5 66.2,451.0 69.2,450.8 72.3,450.8 75.3,450.7 78.4,451.3 81.4,451.4 84.5,451.1 87.5,450.7 90.6,451.7 93.6,450.8 96.7,450.8 99.7,450.3 102.8,450.7 105.8,450.5 108.9,451.4 111.9,450.8 115.0,451.7 118.0,450.7 121.1,450.6 124.1,450.8 127.2,450.9 130.2,450.4 133.3,450.7 136.3,451.3 139.3,450.8 142.4,451.0 142.9,448.0 142.6,445.0 143.1,441.9 142.5,438.9 141.8,435.9 142.3,432.9 142.2,429.9 141.7,426.9 142.2,423.9 142.9,420.9 142.6,417.8 141.9,414.8 142.2,411.8 142.6,408.8 142.0,405.8 142.7,402.8 142.0,399.7 142.2,396.7 142.1,393.7 142.6,390.7 142.6,387.7 143.0,384.7 142.6,381.6 142.7,378.6 142.8,375.6 141.9,372.6 142.9,369.6 141.8,366.6 141.9,363.6 142.6,360.5 142.7,357.5 142.7,354.5 141.9,351.5 141.9,348.5 142.6,345.5 142.7,342.4 142.2,339.4 142.4,336.4 142.4,333.4 139.4,333.4 136.4,333.7 133.4,333.4 130.4,333.7 127.4,332.8 124.4,332.8 121.3,333.7 118.3,333.7 115.3,333.1 112.3,333.4 109.3,333.7 106.3,333.8 103.3,333.5 100.3,333.8 97.3,332.8 94.3,333.5 91.3,333.7 88.3,333.1 85.3,333.7 82.3,333.0 79.3,334.0 76.2,333.7 73.2,333.1 70.2,333.4 67.2,332.9 64.2,333.8 61.2,333.0 58.2,334.0Z" fill="#FAB000"/>
<path d="M109.2,403.9 112.9,405.4 116.9,406.1 119.5,408.1 121.8,410.4 123.1,413.6 126.0,415.4 128.4,417.6 129.8,420.7 132.4,422.7 135.7,422.4 139.1,423.1 142.4,422.7 142.8,425.8 142.2,429.0 142.6,432.1 141.7,435.3 142.8,438.4 142.8,441.6 141.9,444.7 142.3,447.9 142.4,451.0 139.2,451.2 136.1,451.6 132.9,451.3 129.7,450.7 126.5,451.0 123.3,450.7 120.2,451.3 117.0,450.4 113.8,451.0 110.7,451.2 107.5,451.1 104.3,450.4 101.1,450.8 98.0,451.7 94.8,451.4 91.6,451.0 92.1,447.6 92.5,444.1 92.1,440.6 92.4,437.2 92.7,433.7 93.8,430.6 96.0,428.0 97.1,424.9 98.8,421.4 99.8,417.6 100.4,413.8 102.7,411.4 104.6,408.7 107.2,406.5Z" fill="#F8D763"/>
<path d="M62.2,379.6 66.2,381.8 70.6,382.5 75.0,382.9 79.4,379.6 84.9,381.8 86.4,384.5 87.1,387.4 90.4,388.5 91.3,392.3 90.9,396.2 91.0,399.6 90.4,402.9 89.3,406.1 84.9,409.4 82.7,405.0 82.6,400.5 81.6,396.2 79.1,399.3 77.2,402.8 74.5,404.5 71.2,404.5 68.4,406.1 67.1,409.4 66.2,412.7 62.9,412.7 62.7,409.4 61.7,406.1 61.8,402.8 62.1,399.7 62.1,396.6 61.6,393.5 62.4,390.5 62.4,387.4 62.8,383.5Z" fill="#F7713F"/>
<path d="M67.3,400.6 69.9,398.2 72.8,396.2 77.2,397.3 80.5,392.9 83.8,392.8 87.1,392.9 88.2,395.1 82.7,397.3 81.6,401.7 79.4,404.5 77.2,407.2 73.8,407.1 70.6,406.1 67.3,403.9Z" fill="#fff"/>
<path d="M60.7,397.3 64.0,397.3 64.2,400.6 64.0,403.9 60.7,403.9 60.5,400.6Z" fill="#C00000"/>
<path d="M3.6,401.7 6.7,400.5 9.9,399.5 13.2,399.9 16.5,400.2 19.9,402.8 17.6,406.8 13.2,405.0 8.8,406.1 6.1,404.0Z" fill="#FAB000"/>
<path d="M40.8,441.4 44.1,441.4 44.4,444.6 45.0,447.8 45.2,451.0 41.5,451.0 41.4,447.8 41.2,444.6Z" fill="#FAB000"/>
<path d="M69.5,336.2 70.1,339.8 72.1,342.9 73.4,346.3 73.9,349.9 74.8,352.9 75.4,356.0 76.4,359.0 77.2,362.0 80.2,362.0 83.2,362.8 86.3,362.8 89.3,363.1 89.3,359.7 89.3,356.4 88.7,353.0 89.1,349.6 88.7,346.3 89.5,342.9 89.6,339.6 89.3,336.2" fill="none"/>
<path d="M61.8,363.1 64.8,362.3 68.0,362.7 71.1,363.0 74.1,361.8 77.2,362.0" fill="none"/>
<path d="M89.3,363.1 88.8,367.5 88.2,371.9 88.5,374.9 89.1,377.9 90.4,380.7 89.7,384.0 89.3,387.4" fill="none"/>
<path d="M89.3,369.7 92.6,369.9 96.0,370.3 99.3,369.7 100.4,373.0 104.3,373.4 108.1,374.1 105.9,379.6 102.4,380.9 99.3,382.9 96.8,385.5 94.9,388.5" fill="none"/>
<path d="M110.3,382.9 113.2,380.6 115.3,377.4 118.1,375.0 120.2,371.9 122.0,369.3 125.1,367.9 126.6,365.0 129.4,363.4 131.3,360.9 135.3,362.1 139.4,362.0" fill="none"/>
<path d="M120.2,371.9 122.0,374.6 123.5,377.4 119.1,379.6 123.5,382.9 126.4,384.5 129.4,386.0 132.4,387.4 135.9,386.7 139.4,386.3" fill="none"/>
<path d="M100.4,382.9 103.7,382.3 107.0,383.1 110.3,382.9 110.5,386.0 110.0,389.1 109.1,392.2 108.8,395.2 109.2,398.4 109.2,403.9" fill="none"/>
<path d="M90.4,394.0 93.1,396.1 96.2,397.2 99.3,398.4 102.6,397.9 106.0,398.1 109.2,397.3" fill="none"/>
<path d="M99.3,398.4 96.7,400.2 95.0,403.0 93.0,405.4 90.2,406.9 88.2,409.4 87.1,412.7" fill="none"/>
<path d="M87.1,412.7 89.3,415.1 91.0,417.9 92.0,421.1 93.8,423.8 95.8,426.3 97.1,429.3 97.1,424.9" fill="none"/>
<path d="M64.0,419.3 67.3,419.6 70.6,419.9 73.9,419.2 77.2,420.2 80.5,420.2 83.8,420.4 87.2,421.3 90.6,422.1 93.8,423.8 97.1,424.9 99.7,427.0 101.9,429.5 104.7,431.3 107.0,433.7 109.9,431.3 112.9,429.1 116.0,427.0 119.1,424.9 122.4,424.5 125.7,424.1 129.0,423.4 132.4,423.8" fill="none"/>
<path d="M72.8,407.2 73.9,411.0 75.5,414.6 77.2,418.2" fill="none"/>
<path d="M66.2,412.7 69.6,412.7 72.8,413.8 76.4,414.2 80.0,413.5 83.6,413.7 87.1,412.7" fill="none"/>
<path d="M109.2,403.9 107.2,406.5 104.6,408.7 102.7,411.4 100.4,413.8 99.8,417.6 98.8,421.4 97.1,424.9" fill="none"/>
<path d="M66.2,381.8 67.2,384.8 66.9,387.9 67.1,390.9 67.3,394.0 72.8,396.2" fill="none"/>
<path d="M75.0,382.9 75.6,386.2 75.3,389.6 76.1,392.9 80.5,392.9" fill="none"/>
<path d="M84.9,381.8 84.4,385.1 83.8,388.4 83.8,391.8 87.1,392.9" fill="none"/>
<path d="M62.4,388.5 67.3,389.1" fill="none"/>
<path d="M62.4,396.2 67.3,397.3" fill="none"/>
<path d="M89.3,396.2 90.9,396.2" fill="none"/>
</g>
<rect x="6.6" y="336.4" width="132.8" height="111.6" fill="none" stroke="#4a4a4a" stroke-width="1.0"/>
<clipPath id="c1"><rect x="233.8" y="418.4" width="131.7" height="112.9"/></clipPath>
<rect x="233.8" y="418.4" width="131.7" height="112.9" fill="#fff"/>
<g clip-path="url(#c1)" stroke="#111" stroke-width="0.95" stroke-linejoin="round">
<path d="M285.7,415.4 287.9,417.9 288.9,421.2 291.2,423.7 289.9,427.0 289.4,430.5 286.3,433.4 284.6,437.6 284.6,441.5 285.7,445.3 284.8,448.2 284.0,451.1 283.5,454.1 284.6,456.9 284.4,460.1 285.7,462.9 287.6,466.4 288.8,470.2 290.1,474.0 291.0,477.6 291.3,481.3 291.2,485.0 291.3,489.5 292.3,493.8 292.9,498.2 293.4,502.7 290.7,506.1 287.9,509.3 286.9,512.5 284.7,515.0 283.5,518.1 283.4,521.3 282.6,524.5 283.6,527.8 282.5,531.0 282.8,534.3 285.9,533.6 288.9,534.7 292.0,534.4 295.0,534.7 298.1,534.9 301.2,534.3 304.2,534.2 307.3,533.8 310.4,533.9 313.4,533.9 316.5,534.0 319.5,534.9 322.6,534.5 325.6,534.8 328.7,533.8 331.8,534.0 334.8,534.4 337.9,534.7 340.9,534.3 344.0,534.1 347.1,534.0 350.1,534.7 353.2,534.6 356.3,534.9 359.3,534.3 362.4,534.7 365.4,534.0 368.5,534.3 368.9,531.2 368.3,528.2 368.5,525.1 368.4,522.1 368.1,519.1 369.2,516.0 368.1,513.0 368.9,509.9 368.4,506.9 369.0,503.8 368.6,500.8 368.7,497.7 368.7,494.7 369.1,491.6 368.5,488.6 369.1,485.5 368.2,482.5 368.6,479.4 368.5,476.4 368.8,473.3 368.3,470.3 369.1,467.2 368.8,464.2 368.8,461.1 368.4,458.1 368.8,455.0 368.8,452.0 368.5,448.9 369.0,445.9 368.5,442.8 368.3,439.8 367.9,436.7 368.4,433.7 368.5,430.6 368.1,427.6 369.2,424.6 368.2,421.5 368.6,418.4 368.5,415.4 365.4,415.0 362.4,414.7 359.3,415.5 356.2,415.7 353.2,414.8 350.1,415.8 347.0,416.0 344.0,415.1 340.9,415.5 337.8,415.9 334.8,415.4 331.7,415.7 328.6,415.0 325.6,414.8 322.5,415.8 319.4,414.9 316.4,415.4 313.3,415.6 310.2,415.0 307.2,415.8 304.1,415.3 301.0,415.4 298.0,415.7 294.9,415.6 291.8,415.9 288.8,415.9Z" fill="#F8D763"/>
<path d="M306.6,459.6 309.9,460.8 313.2,461.8 316.6,461.8 322.1,464.0 321.1,467.3 321.0,470.7 324.3,471.3 327.6,471.3 330.9,470.7 330.4,475.1 326.5,478.4 327.6,481.6 327.6,485.0 325.4,487.2 325.5,491.0 327.0,494.5 327.6,498.2 322.1,500.4 319.4,502.2 315.9,502.0 313.2,503.8 307.7,501.6 303.3,499.3 303.6,495.7 304.9,492.2 305.4,488.6 305.5,485.0 305.3,481.7 304.9,478.4 306.0,474.8 305.8,471.1 306.2,467.4 307.0,463.5Z" fill="#FAB000"/>
<path d="M291.6,483.9 295.2,483.9 295.5,487.4 295.1,491.0 295.7,494.5 294.9,498.1 295.6,501.6 292.5,502.7 292.2,499.6 292.2,496.4 291.4,493.3 291.6,490.2 291.4,487.1Z" fill="#FAB000"/>
<path d="M291.2,423.7 292.6,426.4 294.5,428.8 296.7,434.3 297.9,438.2 298.7,442.2 296.9,443.5 296.2,439.9 294.7,436.5 292.3,431.4 289.4,430.5 289.9,427.0Z" fill="#fff"/>
<path d="M321.0,418.4 320.1,421.4 319.8,424.5 319.9,427.6 323.0,427.8 325.9,428.5 328.7,429.9 328.6,433.1 327.0,436.1 326.8,439.3 326.4,442.5 325.4,445.6 324.2,448.6 324.3,451.9 322.1,457.4" fill="none"/>
<path d="M328.7,429.9 331.6,428.3 334.6,427.0 337.5,425.4 341.4,425.9 345.2,426.5 345.8,422.3 347.4,418.4" fill="none"/>
<path d="M345.2,426.5 346.3,429.8 346.3,433.2 350.2,433.4 354.1,434.3 354.6,431.0 356.1,428.0 356.4,424.7 358.1,421.7 358.5,418.4" fill="none"/>
<path d="M346.3,433.2 344.6,436.6 342.2,439.6 340.8,443.1 340.1,446.1 339.6,449.1 340.6,452.2 339.7,455.2 336.4,456.4 333.1,457.4 329.4,457.4 325.8,457.4 322.1,457.4" fill="none"/>
<path d="M297.8,443.1 301.0,444.2 304.2,445.2 306.9,447.3 310.1,448.5 313.2,449.7 316.5,450.5 320.0,450.7 323.2,451.9" fill="none"/>
<path d="M291.2,454.1 295.7,454.2 300.0,455.2 301.8,458.1 304.5,460.3 306.6,462.9" fill="none"/>
<path d="M291.2,472.9 294.6,471.3 298.4,470.9 302.0,469.7 305.5,468.5" fill="none"/>
<path d="M292.3,483.9 295.3,483.0 298.3,483.1 301.3,482.6 304.4,482.8" fill="none"/>
<path d="M339.7,455.2 341.9,457.4 338.4,460.1 334.2,461.8 333.3,465.2 332.6,468.7 330.9,471.8" fill="none"/>
<path d="M327.6,498.2 327.6,501.4 328.4,504.5 328.2,507.7 328.7,510.8 328.6,514.0 328.1,517.2 328.7,520.3 330.6,523.8 331.6,527.6 333.1,531.3" fill="none"/>
<path d="M333.1,518.1 335.3,515.2 337.7,512.4 339.7,509.3 341.3,506.5 343.0,503.9 344.7,501.2 346.8,498.8 349.4,496.8 350.7,493.8 353.5,495.6 356.7,496.6 359.6,498.2 365.5,498.2" fill="none"/>
<path d="M293.4,502.7 296.9,501.6 300.2,500.1 303.3,498.2" fill="none"/>
<path d="M283.5,518.1 286.5,517.1 289.0,515.0 292.0,513.9 295.2,513.4 297.8,511.5 298.8,508.5 300.1,505.7 302.0,503.2 303.3,500.4" fill="none"/>
<path d="M305.5,483.9 309.2,483.5 312.9,484.3 316.6,483.9 322.1,486.1 325.4,487.2" fill="none"/>
<path d="M306.2,474.0 309.2,474.8 312.3,475.2 315.4,475.1 315.9,479.5 316.6,483.9" fill="none"/>
<path d="M313.2,461.8 312.4,465.1 312.1,468.5 314.3,471.5 315.4,475.1" fill="none"/>
<path d="M315.4,468.5 318.4,465.7 322.1,464.0" fill="none"/>
<path d="M317.7,476.2 319.2,473.4 321.0,470.7" fill="none"/>
</g>
<rect x="233.8" y="418.4" width="131.7" height="112.9" fill="none" stroke="#4a4a4a" stroke-width="1.0"/>
<clipPath id="c2"><rect x="518.8" y="419.3" width="131.7" height="112.5"/></clipPath>
<rect x="518.8" y="419.3" width="131.7" height="112.5" fill="#fff"/>
<g clip-path="url(#c2)" stroke="#111" stroke-width="0.95" stroke-linejoin="round">
<path d="M515.8,416.3 518.9,416.6 521.9,416.5 525.0,416.5 528.0,415.7 531.1,416.4 534.2,416.2 537.2,415.9 540.3,416.2 543.3,416.2 546.4,416.5 549.5,416.8 552.5,416.3 555.6,416.2 558.6,416.1 561.7,416.8 564.8,416.3 567.8,416.1 570.9,416.7 573.9,415.9 577.0,415.9 580.1,416.2 583.1,415.9 586.2,417.0 589.2,417.0 592.3,417.0 595.4,416.4 598.4,416.0 601.5,415.9 604.5,416.9 607.6,415.7 610.7,416.2 613.7,415.9 616.8,415.8 619.8,416.7 622.9,416.0 626.0,416.1 629.0,416.6 632.1,416.1 635.1,416.1 638.2,416.1 641.3,416.2 644.3,415.8 647.4,416.2 650.4,416.2 653.5,416.3 653.1,419.3 653.1,422.4 653.9,425.4 653.7,428.4 653.8,431.5 653.3,434.5 653.1,437.6 653.2,440.6 653.7,443.6 653.7,446.7 654.0,449.7 653.1,452.8 653.7,455.8 653.9,458.8 653.6,461.9 653.1,464.9 653.4,467.9 653.5,471.0 653.8,474.0 654.2,477.1 653.5,480.1 653.7,483.1 653.2,486.2 653.7,489.2 653.8,492.3 653.9,495.3 652.8,498.3 653.9,501.4 652.8,504.4 653.8,507.4 653.3,510.5 653.2,513.5 653.9,516.6 653.2,519.6 652.9,522.6 653.6,525.7 652.8,528.7 653.8,531.8 653.5,534.8 650.4,535.1 647.4,535.4 644.3,534.7 641.3,534.2 638.2,534.9 635.1,534.9 632.1,535.4 629.0,534.4 626.0,534.8 622.9,534.3 619.8,534.1 616.8,535.4 613.7,535.0 610.7,535.1 607.6,535.0 604.5,534.5 601.5,534.8 598.4,535.2 595.4,535.2 592.3,535.1 589.2,535.0 586.2,534.7 583.1,534.3 580.1,534.6 577.0,534.7 573.9,534.3 570.9,535.5 567.8,534.4 564.8,534.3 561.7,535.0 558.6,534.5 555.6,534.9 552.5,534.3 549.5,535.3 546.4,534.8 543.3,534.8 540.3,534.7 537.2,534.6 534.2,534.3 531.1,534.7 528.0,535.3 525.0,534.6 521.9,535.1 518.9,535.5 515.8,534.8 516.2,531.8 516.0,528.7 515.4,525.7 515.8,522.6 515.1,519.6 515.7,516.6 515.2,513.5 516.0,510.5 516.5,507.4 515.3,504.4 515.2,501.4 515.7,498.3 515.6,495.3 516.1,492.3 515.5,489.2 515.3,486.2 516.0,483.1 515.7,480.1 516.5,477.1 515.9,474.0 515.6,471.0 515.3,467.9 515.4,464.9 516.5,461.9 515.1,458.8 516.2,455.8 516.4,452.8 515.2,449.7 515.3,446.7 515.4,443.6 516.1,440.6 516.4,437.6 515.9,434.5 515.9,431.5 516.2,428.4 516.5,425.4 515.1,422.4 515.9,419.3Z" fill="#F8D763"/>
<path d="M515.8,513.5 519.8,513.7 523.6,512.6 527.6,512.4 530.2,510.1 533.3,508.3 536.5,506.9 539.7,504.6 542.3,501.6 545.3,499.1 548.9,496.4 553.0,494.7 553.5,491.2 555.2,488.1 558.4,486.0 561.8,484.3 565.2,482.6 569.0,482.5 572.9,482.6 576.2,478.2 579.7,480.1 582.8,482.6 585.0,485.6 586.1,489.2 587.5,492.9 588.3,496.9 590.7,500.7 592.7,504.7 594.9,510.2 597.7,511.7 599.7,514.4 602.7,515.7 604.9,518.4 606.2,521.7 608.2,524.5 609.0,527.9 609.1,531.5 610.4,534.8 607.4,535.1 604.3,535.3 601.2,534.2 598.2,535.0 595.1,534.2 592.1,534.1 589.0,534.9 586.0,534.9 582.9,535.3 579.9,534.4 576.8,534.3 573.8,534.4 570.7,535.1 567.7,534.8 564.6,534.6 561.6,535.5 558.5,535.0 555.5,534.9 552.4,534.9 549.4,534.6 546.3,534.2 543.3,534.9 540.2,534.6 537.2,534.5 534.1,534.4 531.1,535.4 528.0,534.7 525.0,534.2 521.9,534.6 518.9,535.2 515.8,534.8 515.8,531.8 515.8,528.7 516.2,525.7 516.2,522.6 516.5,519.6 516.1,516.5Z" fill="#fff"/>
<path d="M613.7,416.3 616.8,416.9 619.8,416.9 622.9,416.8 626.0,415.7 629.0,415.8 632.1,416.0 635.1,416.7 638.2,416.0 641.2,416.7 644.3,416.7 647.4,416.4 650.4,416.6 653.5,416.3 653.4,419.9 653.7,423.4 653.6,427.0 653.8,430.5 653.5,434.1 654.1,437.3 653.7,440.4 653.6,443.6 653.5,446.8 653.3,449.9 653.0,453.1 654.2,456.3 654.1,459.4 653.5,462.6 653.1,465.8 653.8,469.0 653.2,472.1 653.1,475.3 653.2,478.5 654.1,481.6 653.5,484.8 650.3,484.4 647.1,484.1 643.9,484.6 640.7,484.1 637.5,484.7 634.3,484.9 631.1,484.7 627.9,485.2 624.7,484.8 625.0,484.0 620.6,484.0 616.3,482.7 613.2,481.7 610.3,480.3 607.0,480.0 606.6,476.7 606.3,473.3 605.3,470.2 604.3,467.2 603.7,464.0 600.6,464.3 598.1,466.3 595.0,466.7 595.1,463.4 595.0,460.0 597.4,457.6 599.0,454.7 600.7,450.8 601.7,446.7 605.7,442.7 607.1,438.5 606.8,435.4 605.2,432.7 604.9,429.6 608.5,427.9 611.5,425.2 611.6,422.1 612.6,419.2Z" fill="#FAB000"/>
<path d="M629.1,455.0 631.9,452.2 634.9,449.8 638.0,447.3 640.7,445.3 643.8,444.1 646.8,442.9 649.0,439.9 651.4,437.2 653.5,434.1 655.6,434.1 655.9,437.2 655.3,440.2 655.5,443.3 655.7,446.4 655.5,449.5 655.4,452.5 655.8,455.6 656.2,458.7 656.1,461.8 655.8,464.8 655.4,467.9 655.9,471.0 655.4,474.1 655.8,477.1 655.4,480.2 655.3,483.3 656.0,486.3 656.2,489.4 655.4,492.5 655.2,495.6 655.1,498.6 655.8,501.7 655.4,504.8 655.7,507.9 656.2,510.9 655.7,514.0 656.2,517.1 656.1,520.1 655.8,523.2 656.2,526.3 655.8,529.4 655.4,532.4 655.6,535.5 652.5,535.7 649.4,535.3 646.3,535.4 643.2,535.7 640.1,535.4 637.1,535.8 634.0,534.9 630.9,535.6 627.8,536.1 624.7,535.5 625.3,532.4 624.9,529.3 624.3,526.1 625.1,523.0 624.8,519.9 624.5,516.8 624.8,513.6 624.4,510.5 625.1,507.4 624.6,504.3 624.2,501.2 624.2,498.0 625.0,494.9 624.9,491.8 624.9,488.7 625.4,485.5 624.5,482.4 624.7,479.3 624.0,476.0 625.0,472.7 624.7,469.4 625.4,466.5 626.9,463.8 626.7,460.6 628.9,458.1Z" fill="#F8D763"/>
<path d="M591.7,470.0 595.0,466.7 598.1,466.3 600.6,464.3 603.7,464.0 604.3,467.2 605.3,470.2 606.3,473.3 605.5,476.6 605.7,480.0 603.0,485.3 599.0,481.3 596.6,478.1 593.7,475.3Z" fill="#F7713F"/>
<path d="M586.3,478.7 591.7,476.7 593.7,475.3 596.6,478.1 599.0,481.3 603.0,485.3 604.3,487.3 599.0,486.0 595.8,484.0 592.3,482.7 587.7,481.3Z" fill="#F7713F"/>
<path d="M589.0,484.0 592.3,482.7 595.8,484.0 599.0,486.0 601.7,489.3 602.5,493.3 602.3,497.3 597.7,498.7 593.7,498.7 592.4,495.7 590.3,493.3 589.2,489.9 587.7,486.7Z" fill="#FAB000"/>
<path d="M597.7,498.7 602.3,497.3 606.6,497.8 611.0,498.0 611.3,501.1 612.3,504.0 613.7,509.3 612.3,515.0 613.2,518.9 614.2,522.8 614.8,526.7 614.1,530.7 613.7,534.8 610.4,534.8 609.1,531.5 609.0,527.9 608.2,524.5 606.2,521.7 604.9,518.4 602.7,515.7 600.6,512.5 598.3,509.3 597.7,505.3 596.1,501.7 593.7,498.7Z" fill="#FAB000"/>
<path d="M574.3,475.3 579.7,475.3 583.7,478.0 587.7,481.3 589.0,484.0 587.7,486.7 589.2,489.9 590.3,493.3 592.4,495.7 593.7,498.7 596.1,501.7 597.7,505.3 598.3,509.3 595.0,511.3 591.7,506.7 589.8,502.8 588.3,498.7 587.4,494.7 586.3,490.7 584.8,486.8 583.7,482.7 581.7,480.0 579.0,478.0 575.0,477.3Z" fill="#F7713F"/>
<path d="M572.3,472.0 575.0,466.7 579.7,464.0 583.7,464.7 587.0,466.0 588.3,470.7 590.3,476.0 586.3,478.7 583.7,478.0 579.7,475.3 574.3,475.3Z" fill="#FAB000"/>
<path d="M563.0,457.3 565.4,453.7 567.7,450.0 572.3,450.7 574.1,454.4 577.0,457.3 577.7,462.7 573.7,463.3 571.0,460.0 567.7,459.3 565.7,462.0 563.7,461.3Z" fill="#FAB000"/>
<path d="M545.3,482.6 549.0,480.2 553.0,478.2 555.0,476.0 559.1,475.6 563.0,474.0 567.0,473.2 571.0,473.3 574.3,475.3 575.0,477.3 571.0,479.3 572.3,482.7 567.0,482.7 563.6,482.0 560.3,481.3 558.0,484.9 555.2,488.1 553.0,490.3 549.9,488.7 546.4,488.1Z" fill="#FAB000"/>
<path d="M532.1,419.3 533.8,421.9 535.8,424.3 537.1,427.1 539.6,429.2 541.2,431.8 543.1,434.3 545.1,436.7 546.4,439.6 549.7,440.7 553.0,441.9 556.3,442.9 558.2,445.4 560.7,447.3 564.1,446.9 567.3,445.6 570.7,445.1 574.4,445.0 578.0,445.5 581.7,445.1 585.0,445.7 588.3,445.4 591.6,445.6 594.9,445.2 598.2,445.1" fill="none"/>
<path d="M546.4,439.6 546.8,442.8 545.8,446.0 546.7,449.2 546.1,452.4 545.4,455.6 545.5,458.8 545.7,462.0 545.4,465.2 545.8,468.4 545.3,471.6" fill="none"/>
<path d="M518.8,467.2 522.1,467.9 525.4,468.4 528.8,468.5 532.0,469.5 535.5,469.3 538.6,471.1 541.9,471.3 545.3,471.6 548.6,471.7 551.9,471.6 555.2,472.4 558.5,472.3 561.8,472.7" fill="none"/>
<path d="M580.6,419.3 580.4,422.8 579.6,426.1 579.5,429.6 581.7,432.9 583.9,436.3 583.7,440.7 583.9,445.1 584.4,448.2 584.1,451.4 584.6,454.5 585.3,457.6 586.2,460.6 586.1,463.8" fill="none"/>
<path d="M560.7,447.3 561.0,450.8 561.8,454.3 560.7,457.9 561.1,461.4 561.8,464.9 562.0,468.8 561.8,472.7" fill="none"/>
<path d="M624.7,469.4 627.9,468.2 630.8,466.5 633.7,464.7 636.4,462.5 639.6,461.4 642.4,459.4 642.1,456.0 641.0,452.8 640.2,449.5" fill="none"/>
<path d="M624.7,478.2 628.2,477.4 631.7,476.7 635.3,476.7 638.8,476.2 642.4,476.0 645.2,477.3 648.0,478.6 650.5,480.4" fill="none"/>
<path d="M602.7,487.0 605.9,485.9 609.2,485.3 612.3,484.2 615.1,482.1 618.3,481.1 621.5,480.3 624.7,479.3 624.2,483.2 623.6,487.0 624.3,490.0 624.4,493.0 624.4,496.1 624.7,499.1 621.4,498.3 618.1,498.3 614.8,498.1 611.5,498.2 608.2,498.0 604.9,498.1 601.6,498.0" fill="none"/>
<path d="M624.7,499.1 630.2,500.2 633.2,501.4 636.3,501.9 639.3,503.1 642.4,503.6 646.5,504.4 650.5,505.8" fill="none"/>
<path d="M642.4,459.4 642.7,462.7 642.2,466.0 642.4,469.4 642.9,472.6 642.6,476.0 643.3,479.3 642.7,482.6 643.8,485.9 643.5,489.2 642.9,492.8 643.1,496.4 642.0,499.9 642.4,503.6" fill="none"/>
<path d="M630.2,500.2 630.3,503.9 628.8,507.5 629.1,511.3 631.3,515.7 630.8,518.9 631.1,522.2 630.0,525.3 630.2,528.6 630.2,531.8" fill="none"/>
<path d="M612.6,504.7 615.8,506.2 619.2,507.4 622.3,509.2 625.9,509.8 629.1,511.3" fill="none"/>
<path d="M614.8,526.7 617.9,527.1 621.0,527.1 624.0,528.2 627.0,529.1 630.2,528.9" fill="none"/>
<path d="M577.3,458.3 579.9,460.6 583.3,461.8 586.1,463.8" fill="none"/>
<path d="M585.0,463.8 589.0,465.2 592.7,467.2" fill="none"/>
<path d="M604.9,459.4 607.7,457.6 610.8,456.6 613.7,455.0 616.8,455.6 619.9,454.5 622.9,455.2 626.0,455.7 629.1,455.0" fill="none"/>
<path d="M594.9,456.1 598.1,453.2 600.4,449.5 602.8,447.4 604.9,445.1 608.2,444.6 611.5,444.0 608.9,441.6 607.1,438.5" fill="none"/>
<path d="M613.7,455.0 617.5,454.8 621.1,454.1 624.7,452.8 629.1,455.0" fill="none"/>
<path d="M606.0,476.0 609.0,477.0 612.3,476.2 615.4,477.1 618.4,478.0 621.6,477.2 624.7,478.2" fill="none"/>
<path d="M624.7,452.8 628.2,452.0 631.6,450.6 634.4,448.1 638.0,447.3" fill="none"/>
</g>
<rect x="518.8" y="419.3" width="131.7" height="112.5" fill="none" stroke="#4a4a4a" stroke-width="1.0"/>
<clipPath id="c3"><rect x="543.4" y="269.3" width="132.6" height="113.2"/></clipPath>
<rect x="543.4" y="269.3" width="132.6" height="113.2" fill="#fff"/>
<g clip-path="url(#c3)" stroke="#111" stroke-width="0.95" stroke-linejoin="round">
<path d="M540.4,266.3 543.5,266.0 546.6,266.1 549.7,266.4 552.8,265.9 555.9,265.9 558.9,266.5 562.0,266.6 565.1,265.9 568.2,267.0 571.3,266.5 574.4,265.8 577.5,266.2 580.6,265.7 583.7,266.3 586.8,266.9 589.9,265.8 592.9,267.0 596.0,265.6 599.1,265.8 602.2,266.4 605.3,266.7 608.4,266.7 611.5,266.5 614.6,266.0 617.7,266.8 620.8,265.6 623.8,266.2 626.9,266.9 630.0,266.6 633.1,265.8 636.2,266.3 637.4,269.5 637.7,273.1 639.3,276.2 638.8,281.4 636.9,284.8 635.7,288.6 634.4,291.6 633.6,294.8 633.5,298.5 632.1,302.0 633.6,307.2 630.5,311.3 631.0,316.5 632.3,320.7 630.1,323.9 628.3,327.3 629.1,330.4 629.3,333.5 629.0,336.7 628.8,340.8 627.7,344.7 626.8,348.9 625.0,352.7 624.6,356.2 624.4,359.8 624.3,363.3 621.0,367.3 616.3,368.7 618.3,374.0 615.0,376.7 609.7,378.0 607.3,380.2 605.2,382.6 603.7,385.5 600.7,385.2 597.7,385.7 594.7,386.1 591.6,385.5 588.6,385.0 585.6,385.4 582.6,385.5 579.6,385.2 576.6,385.9 573.6,385.1 570.5,386.0 567.5,385.1 564.5,385.6 561.5,385.4 558.5,385.9 555.5,385.0 552.5,384.9 549.4,385.4 546.4,385.2 543.4,385.9 540.4,385.5 539.7,382.4 540.1,379.4 540.3,376.3 540.0,373.3 541.1,370.2 539.8,367.2 539.9,364.1 540.1,361.1 541.0,358.0 540.8,354.9 540.5,351.9 539.8,348.8 540.7,345.8 539.8,342.7 540.1,339.6 540.3,336.6 540.3,333.5 540.6,330.5 541.1,327.4 540.4,324.4 541.0,321.3 540.4,318.3 540.5,315.2 540.6,312.1 540.0,309.1 541.1,306.0 539.9,303.0 539.9,299.9 540.0,296.9 540.3,293.8 541.1,290.8 540.8,287.7 539.8,284.6 540.6,281.6 540.4,278.5 540.7,275.5 540.3,272.4 540.4,269.4Z" fill="#F8D763"/>
<path d="M557.0,266.3 560.0,266.6 563.1,266.2 566.1,265.9 569.2,266.4 572.2,266.7 575.3,266.1 578.3,266.4 581.4,266.9 584.4,266.4 587.5,266.5 590.5,266.7 593.5,266.8 596.6,266.3 599.6,265.8 602.7,265.7 605.7,266.7 608.8,267.0 611.8,266.0 614.9,266.7 617.9,266.1 621.0,266.5 624.0,265.7 627.1,266.5 630.1,266.2 633.1,266.3 636.2,266.3 637.4,269.5 637.7,273.1 639.3,276.2 638.8,281.4 636.9,284.8 635.7,288.6 634.4,291.6 633.6,294.8 633.5,298.5 632.1,302.0 633.6,307.2 630.5,311.3 631.0,316.5 632.3,320.7 630.1,323.9 628.3,327.3 629.1,330.4 629.3,333.5 629.0,336.7 627.5,333.9 625.0,331.9 623.2,329.4 621.3,326.9 619.0,324.7 615.4,324.6 611.9,325.8 608.3,326.0 606.2,328.2 603.7,330.0 598.3,330.0 597.1,332.9 596.3,336.0 592.3,335.4 588.3,336.0 587.8,331.6 588.3,327.3 587.9,322.9 586.3,318.7 585.7,314.9 582.4,315.5 579.1,316.4 575.8,317.1 572.5,314.9 569.7,313.6 566.7,312.9 563.6,312.7 563.1,309.5 561.9,306.5 561.5,303.3 559.6,300.5 559.2,297.3 556.8,294.9 555.1,291.9 553.0,289.3 551.5,286.2 552.7,282.9 553.6,279.6 554.3,276.3 555.4,273.0 556.1,269.6Z" fill="#F7713F"/>
<path d="M601.7,332.7 605.0,332.1 608.3,331.3 611.4,333.6 615.0,335.3 611.6,335.3 608.3,336.0 608.3,340.7 605.0,341.2 601.7,340.7 601.8,336.7Z" fill="#F7713F"/>
<path d="M617.7,340.7 621.2,339.8 624.7,339.2 628.3,339.3 627.3,343.2 627.7,347.3 625.9,350.6 624.3,354.0 623.7,357.1 624.3,360.2 623.7,363.3 620.3,367.3 617.4,364.9 615.0,362.0 616.6,357.8 619.0,354.0 617.2,349.9 615.0,346.0Z" fill="#F7713F"/>
<path d="M603.7,324.9 607.3,324.2 611.0,324.7 611.3,328.0 615.0,330.0 615.7,331.1 612.0,330.3 608.3,330.2 604.6,329.5 603.7,330.0Z" fill="#F7713F"/>
<path d="M604.7,288.6 606.5,291.3 608.8,293.8 609.9,296.9 610.9,299.9 610.9,303.1 607.8,307.2 610.2,310.6 612.0,314.4 614.0,316.5 610.9,317.0 607.8,317.8 604.7,318.5 601.8,316.1 599.1,313.4 595.9,311.2 593.1,308.7 590.8,305.6 593.3,302.4 595.5,298.9 597.5,296.1 599.7,293.4 602.1,290.9Z" fill="#C00000"/>
<path d="M611.0,324.7 615.0,324.3 619.0,323.3 623.7,326.0 621.7,330.0 618.4,330.4 615.0,330.0 611.3,328.0Z" fill="#C00000"/>
<path d="M598.3,324.7 603.7,324.9 603.7,330.0 598.7,330.0Z" fill="#C00000"/>
<path d="M617.7,336.0 621.0,335.5 624.4,335.7 627.7,335.3 628.3,340.4 625.2,340.7 622.1,340.7 619.0,340.9Z" fill="#C00000"/>
<path d="M586.3,318.7 588.8,315.2 592.3,312.7 595.6,313.7 599.0,314.7 601.0,319.3 599.2,323.2 597.7,327.3 593.7,326.0 589.7,324.7 587.6,321.9Z" fill="#FAB000"/>
<path d="M595.7,337.3 598.7,336.9 601.7,337.3 602.0,341.0 601.7,344.7 596.3,344.4 596.5,340.8Z" fill="#FAB000"/>
<path d="M600.3,340.9 604.0,340.7 607.7,340.7 607.6,345.0 607.7,349.3 604.4,348.9 601.0,349.1 600.3,345.0Z" fill="#FAB000"/>
<path d="M608.3,336.0 611.4,335.9 614.6,336.3 617.7,336.0 617.8,339.2 618.2,342.4 618.2,345.5 617.7,348.7 614.6,348.3 611.4,348.8 608.3,348.7 608.7,345.5 608.9,342.4 607.9,339.2Z" fill="#FAB000"/>
<path d="M607.0,348.7 610.6,349.3 614.1,349.3 617.7,348.7 617.2,352.7 617.4,356.7 614.2,356.0 610.9,356.4 607.7,356.4 607.9,352.5Z" fill="#FAB000"/>
<path d="M561.4,385.5 562.3,381.8 562.3,378.0 563.6,374.4 565.7,371.8 567.7,369.1 570.8,367.4 572.5,364.5 575.8,363.7 579.1,363.4 580.6,360.0 582.4,356.8 585.6,355.8 589.1,355.7 592.3,354.6 594.1,357.2 596.6,359.1 598.9,361.2 602.1,363.0 605.0,365.3 607.7,367.8 612.0,367.8 616.3,368.7 618.3,374.0 615.0,376.7 609.7,378.0 607.3,380.2 605.2,382.6 603.7,385.5 600.7,386.1 597.7,385.7 594.6,384.8 591.6,385.3 588.6,385.9 585.6,385.8 582.5,385.2 579.5,386.2 576.5,386.1 573.5,386.0 570.5,385.6 567.4,385.4 564.4,385.8Z" fill="#FAB000"/>
<path d="M628.3,322.0 629.9,324.0 627.9,326.3 625.5,328.2 623.9,330.9 622.2,333.5 619.7,335.3 617.4,334.3 615.0,332.4 611.4,331.9 608.0,330.4 604.3,330.3 604.6,329.5 608.3,330.2 612.0,330.3 615.7,331.1 619.0,332.0 621.3,329.5 623.8,327.1 626.2,324.7Z" fill="#fff"/>
<path d="M605.9,356.9 608.9,357.7 611.9,358.0 615.0,357.7 616.9,360.3 617.9,363.3 621.0,367.3 616.3,368.7 611.0,368.4 607.0,369.7 602.3,372.9 599.3,371.6 603.0,367.3 604.1,362.7 604.8,359.7Z" fill="#fff"/>
<path d="M636.2,266.3 637.7,272.0 636.0,274.7 634.9,277.6 633.4,280.5 631.5,283.0 629.5,285.5 629.0,283.5 630.2,280.6 631.0,277.5 632.4,274.7 634.0,272.0 634.7,269.0Z" fill="#fff"/>
<path d="M614.0,275.6 618.0,272.5 621.0,269.7 623.3,266.3 623.6,271.0 618.5,273.8 614.5,276.6Z" fill="#fff"/>
<path d="M575.8,269.3 576.2,272.5 576.1,275.7 576.2,278.9 577.3,282.0 578.1,285.2 578.0,288.4 577.8,291.9 576.1,295.0 576.0,298.5 574.7,301.7 577.8,304.3 581.3,306.1 581.7,309.4 582.2,312.7 582.4,316.0" fill="none"/>
<path d="M543.4,325.9 546.8,325.6 550.2,324.9 553.5,324.5 557.0,324.8 560.2,327.7 563.6,330.3 565.7,332.7 568.1,334.7 570.5,332.4 573.6,330.8 575.8,328.1 579.1,328.0 582.4,328.4 585.7,328.4 589.0,328.1" fill="none"/>
<path d="M557.0,324.8 559.3,321.6 561.2,318.1 563.6,314.9" fill="none"/>
<path d="M543.4,341.3 546.3,342.2 549.1,343.5 552.0,344.5 554.8,345.7 558.6,345.6 562.3,344.8 565.9,343.5 566.5,340.5 567.4,337.6 568.1,334.7" fill="none"/>
<path d="M565.9,343.5 566.7,347.5 569.1,350.8 570.3,354.6 573.7,354.2 577.0,353.7 580.2,352.3 582.5,348.7 585.7,345.7 587.0,342.8 587.9,339.9 589.0,336.9" fill="none"/>
<path d="M575.8,328.1 576.1,331.9 576.7,335.5 578.0,339.1 580.1,341.8 583.3,343.3 585.7,345.7" fill="none"/>
<path d="M543.4,359.0 546.6,358.8 549.4,356.9 552.6,356.8 553.5,359.8 554.7,362.7 555.9,365.6 554.7,368.6 553.0,371.5 551.5,374.4 554.6,375.8 558.0,376.4 561.4,376.6" fill="none"/>
<path d="M570.3,354.6 571.3,357.8 571.8,361.2 572.5,364.5" fill="none"/>
<path d="M580.2,352.3 582.4,356.8" fill="none"/>
<path d="M604.7,288.6 605.6,285.1 605.7,281.4 608.6,279.8 610.9,277.3 614.0,275.2" fill="none"/>
<path d="M615.0,277.3 616.8,281.1 619.2,284.5 622.3,286.6 622.0,289.7 621.8,292.8 624.3,293.8 625.4,298.9 630.5,298.9" fill="none"/>
<path d="M610.9,303.1 611.1,306.6 613.1,309.7 612.7,313.3 614.0,316.5" fill="none"/>
<path d="M614.0,316.5 619.0,318.0 622.0,317.1 625.0,316.0 628.0,315.9 631.0,316.5" fill="none"/>
<path d="M601.0,319.3 606.0,317.5 610.1,317.6 614.0,316.5" fill="none"/>
<path d="M588.3,336.0 589.4,338.9 589.7,342.0 592.9,343.5 596.3,344.7" fill="none"/>
<path d="M589.7,342.0 586.3,342.5 583.0,343.3" fill="none"/>
<path d="M601.7,344.7 601.0,349.1" fill="none"/>
<path d="M607.7,349.3 608.1,352.9 607.7,356.4" fill="none"/>
<path d="M596.3,344.4 592.5,346.7 589.7,350.0 586.3,351.9 583.0,354.0" fill="none"/>
<path d="M589.7,350.0 592.7,352.3 595.0,355.3 597.6,351.8 601.0,349.1" fill="none"/>
<path d="M595.0,355.3 598.3,357.6 600.4,361.0 603.7,363.3" fill="none"/>
<path d="M583.0,354.0 582.9,357.4 581.7,360.7 585.0,361.9 588.3,363.3 590.8,360.9 593.1,358.2 595.0,355.3" fill="none"/>
</g>
<path d="M650.5,215.2 533.0,304.0" stroke="#222" stroke-width="0.7" fill="none"/>
<rect x="543.4" y="269.3" width="132.6" height="113.2" fill="none" stroke="#4a4a4a" stroke-width="1.0"/>
<clipPath id="c4"><rect x="518.4" y="101.6" width="132.1" height="113.6"/></clipPath>
<rect x="518.4" y="101.6" width="132.1" height="113.6" fill="#fff"/>
<g clip-path="url(#c4)" stroke="#111" stroke-width="0.95" stroke-linejoin="round">
<path d="M515.4,98.6 518.4,98.6 521.4,98.3 524.4,99.3 527.4,98.7 530.4,98.4 533.4,98.7 536.4,98.7 539.4,99.0 542.4,98.5 545.4,98.6 548.4,98.7 551.5,98.6 554.5,99.0 557.5,98.4 560.5,98.7 563.5,98.2 566.5,98.8 569.5,99.0 572.5,98.8 575.5,98.3 578.5,99.1 581.5,99.1 584.5,98.8 587.5,98.9 590.5,98.6 591.1,101.8 591.0,105.1 592.1,108.2 592.1,112.8 593.4,117.1 593.4,121.6 592.1,125.9 593.0,128.8 594.7,131.4 596.5,136.5 593.8,139.1 589.0,141.8 588.5,146.8 591.2,150.2 594.9,154.1 597.1,159.0 597.3,162.4 598.2,165.6 600.2,168.3 602.0,171.1 603.4,173.9 604.9,176.6 608.2,181.5 609.9,185.6 610.4,189.9 610.2,193.6 610.5,197.3 611.5,200.9 613.5,204.6 614.8,208.6 616.5,211.7 617.2,215.2 619.2,218.2 616.1,218.8 613.1,217.5 610.0,217.7 607.0,218.7 603.9,218.4 600.9,218.2 597.8,218.7 594.8,218.4 591.7,218.2 588.7,218.2 585.6,217.8 582.6,218.2 579.5,218.7 576.5,218.8 573.4,218.2 570.4,218.1 567.3,218.3 564.2,218.1 561.2,217.6 558.1,218.3 555.1,217.6 552.0,218.2 549.0,217.7 545.9,218.3 542.9,218.6 539.8,217.9 536.8,218.7 533.7,218.3 530.7,217.7 527.6,218.6 524.6,218.6 521.5,217.6 518.5,217.7 515.4,218.2 514.7,215.1 515.0,212.1 515.7,209.0 514.8,205.9 516.1,202.9 515.3,199.8 515.9,196.7 516.1,193.7 515.9,190.6 514.9,187.5 515.6,184.5 516.1,181.4 515.1,178.3 516.0,175.3 515.6,172.2 516.0,169.1 515.2,166.1 516.1,163.0 515.8,159.9 515.4,156.9 515.0,153.8 515.8,150.7 514.7,147.7 515.1,144.6 514.9,141.5 515.5,138.5 514.8,135.4 516.0,132.3 514.9,129.3 515.7,126.2 515.4,123.1 515.4,120.1 515.3,117.0 515.5,113.9 514.8,110.9 516.1,107.8 516.0,104.7 515.8,101.7Z" fill="#F8D763"/>
<path d="M604.9,136.1 607.8,134.6 611.1,134.0 611.0,137.1 609.6,140.1 609.6,143.3 609.4,146.4 609.0,149.5 608.0,154.6 606.3,151.2 605.9,147.4 604.9,143.7 604.7,139.9Z" fill="#FAB000"/>
<path d="M609.0,159.8 614.2,159.8 613.8,164.1 612.1,168.0 611.7,171.3 609.5,174.0 609.0,177.3 607.0,178.4 607.1,174.9 608.0,171.5 608.0,168.0 608.7,163.9Z" fill="#F8D763"/>
<path d="M602.0,170.3 605.0,170.0 607.0,174.0 606.3,177.3 603.2,176.5 602.8,173.4Z" fill="#17100a"/>
<path d="M604.2,182.5 606.8,182.8 607.8,187.0 607.5,191.8 605.0,191.0 604.5,186.5Z" fill="#17100a"/>
<path d="M588.3,127.5 590.2,127.6 590.4,131.0 588.6,130.8Z" fill="#17100a"/>
<path d="M569.6,154.6 572.1,157.1 574.0,160.1 577.3,159.8 580.6,159.0 583.4,155.7 586.1,152.4 589.4,153.5 591.1,156.6 593.8,159.0 594.6,163.4 594.9,167.8 593.2,170.5 591.6,173.3 588.4,174.3 585.0,174.4 582.5,171.4 579.5,168.9 575.6,169.2 571.8,168.9 571.0,165.0 570.0,161.2 570.0,157.9Z" fill="#FAB000"/>
<path d="M515.4,197.6 518.5,196.8 521.7,196.6 524.5,195.0 527.6,194.3 530.9,194.6 534.2,193.7 537.5,194.9 540.9,194.4 544.2,194.3 547.5,194.3 549.3,197.5 550.8,200.9 552.2,203.7 552.8,206.8 554.1,209.7 555.6,212.5 557.1,215.3 558.5,218.2 555.4,217.9 552.3,217.7 549.3,217.8 546.2,218.3 543.1,217.6 540.0,218.3 537.0,217.7 533.9,217.6 530.8,218.2 527.7,218.0 524.6,218.1 521.6,218.0 518.5,218.9 515.4,218.2 514.8,214.8 515.2,211.3 515.1,207.9 515.8,204.5 515.3,201.0Z" fill="#FBF8CC"/>
<path d="M534.3,101.6 535.7,104.8 536.5,108.2 535.3,111.3 533.1,113.9 532.1,117.1 534.0,120.2 537.0,122.6 538.7,125.9 537.8,129.1 537.3,132.5 537.0,135.8 536.5,139.1 539.2,142.1 540.9,145.7 539.2,149.0 537.6,152.4 538.5,155.6 538.7,159.0" fill="none"/>
<path d="M518.4,128.1 520.9,125.7 522.8,122.8 525.4,120.4 529.0,119.3 532.1,117.1" fill="none"/>
<path d="M538.7,159.0 534.9,158.8 531.0,159.0 528.1,162.2 525.4,165.6 525.9,169.3 526.4,173.0 527.6,176.6 530.2,179.3 533.5,181.1 536.5,183.2 537.5,186.2 539.1,189.0 539.8,192.1 543.7,193.0 547.5,194.3" fill="none"/>
<path d="M538.7,159.0 542.4,159.1 546.0,158.5 549.7,159.0 551.4,161.6 553.9,163.7 555.8,166.2 557.4,168.9 555.3,171.7 554.2,175.1 551.9,177.7 551.5,181.0 550.8,184.3 551.9,187.7 550.4,190.9 550.8,194.3" fill="none"/>
<path d="M553.0,101.6 555.7,103.2 558.1,105.3 560.7,107.1 564.2,105.9 567.2,103.8 570.7,102.7" fill="none"/>
<path d="M560.7,107.1 560.7,111.1 559.6,114.9 562.3,116.6 564.5,119.1 567.4,120.4 566.0,123.5 565.9,127.0 565.2,130.3 565.6,133.4 567.0,136.3 567.5,139.4 568.5,142.4 568.5,145.8 568.2,149.1 567.4,152.4 569.6,155.7" fill="none"/>
<path d="M567.4,120.4 570.5,122.4 574.0,123.7 575.6,127.4 578.4,130.3 581.7,130.5 585.0,131.3 588.3,131.4" fill="none"/>
<path d="M557.4,168.9 560.3,167.5 563.3,166.7 566.6,166.5 569.6,165.6" fill="none"/>
<path d="M551.9,177.7 557.4,179.9 560.7,179.2 564.1,179.3 567.4,179.0 570.6,177.8 574.0,177.7 575.8,175.1 577.2,172.2 579.5,170.0" fill="none"/>
<path d="M574.0,177.7 575.1,181.6 576.2,185.4 579.3,187.9 583.0,189.5 586.1,192.1 588.1,189.0 591.0,186.5 592.7,183.2 593.2,180.2 594.7,177.5 594.9,174.4" fill="none"/>
<path d="M557.4,179.9 554.7,183.5 553.0,187.7 552.8,191.0 552.3,194.3 552.4,197.6 551.9,200.9 553.4,203.7 554.1,206.8 555.2,209.7 557.1,212.3 558.5,215.2" fill="none"/>
<path d="M594.9,174.4 598.3,175.3 601.6,176.6 599.8,179.6 598.3,182.7 596.0,185.4 594.9,189.0 595.3,192.8 594.9,196.5 595.1,199.6 596.7,202.3 597.1,205.3 596.2,208.7 595.5,212.1 593.8,215.2" fill="none"/>
<path d="M601.6,176.6 604.0,180.2 607.1,183.2" fill="none"/>
<path d="M597.1,205.3 600.4,206.4 603.9,206.2 607.1,207.5 610.6,208.1 613.6,209.9 617.0,210.8" fill="none"/>
<path d="M580.6,159.0 583.1,160.9 585.7,162.8 588.4,164.5 591.5,165.6 593.8,167.8" fill="none"/>
</g>
<rect x="518.4" y="101.6" width="132.1" height="113.6" fill="none" stroke="#4a4a4a" stroke-width="1.0"/>
<rect x="36.5" y="19.5" width="183" height="88" fill="#fff" stroke="#222" stroke-width="1"/>
<g font-family="'Liberation Sans', Arial, sans-serif" font-size="10.8" font-weight="bold" fill="#1a1a1a">
<rect x="51.4" y="27.10" width="9.2" height="10.1" fill="#C00000" stroke="#222" stroke-width="0.9"/>
<text y="38.5"><tspan x="70.5" textLength="29.8" lengthAdjust="spacingAndGlyphs">Above</tspan> <tspan x="103.5" textLength="41.3" lengthAdjust="spacingAndGlyphs">$75,000</tspan></text>
<rect x="51.4" y="42.07" width="9.2" height="10.1" fill="#F7713F" stroke="#222" stroke-width="0.9"/>
<text y="53.3"><tspan x="70.5" textLength="40.8" lengthAdjust="spacingAndGlyphs">$55,000</tspan> <tspan x="117.5" textLength="4.3" lengthAdjust="spacingAndGlyphs">–</tspan> <tspan x="125.9" textLength="40.7" lengthAdjust="spacingAndGlyphs">$75,000</tspan></text>
<rect x="51.4" y="57.04" width="9.2" height="10.1" fill="#FAB000" stroke="#222" stroke-width="0.9"/>
<text y="68.2"><tspan x="70.5" textLength="40.8" lengthAdjust="spacingAndGlyphs">$46,600</tspan> <tspan x="117.5" textLength="4.3" lengthAdjust="spacingAndGlyphs">–</tspan> <tspan x="125.9" textLength="40.7" lengthAdjust="spacingAndGlyphs">$54,999</tspan></text>
<rect x="51.4" y="72.01" width="9.2" height="10.1" fill="#F8D763" stroke="#222" stroke-width="0.9"/>
<text y="83.2"><tspan x="70.5" textLength="40.8" lengthAdjust="spacingAndGlyphs">$35,000</tspan> <tspan x="117.5" textLength="4.3" lengthAdjust="spacingAndGlyphs">–</tspan> <tspan x="125.9" textLength="40.7" lengthAdjust="spacingAndGlyphs">$46,599</tspan></text>
<rect x="51.4" y="86.98" width="9.2" height="10.1" fill="#FBF8CC" stroke="#222" stroke-width="0.9"/>
<text y="98.1"><tspan x="70.5" textLength="29.2" lengthAdjust="spacingAndGlyphs">Below</tspan> <tspan x="102.9" textLength="41.1" lengthAdjust="spacingAndGlyphs">$35,000</tspan></text>
</g>
<rect x="50" y="112.2" width="2" height="1.7" fill="#111"/>
</svg>
</body></html>
